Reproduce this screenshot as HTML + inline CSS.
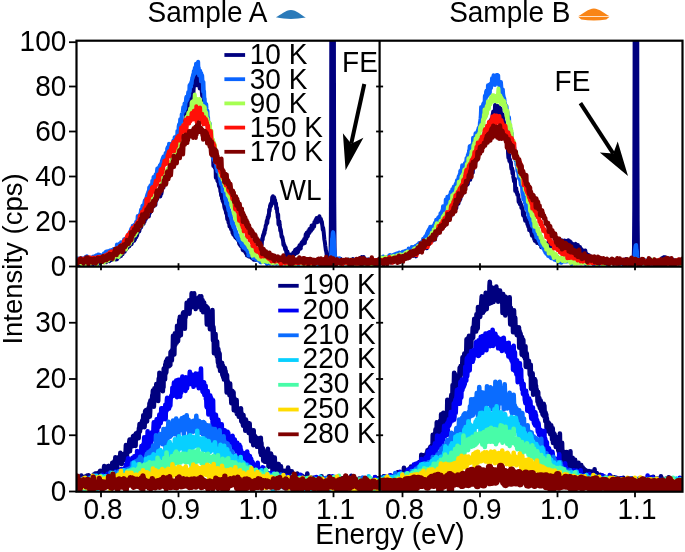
<!DOCTYPE html>
<html><head><meta charset="utf-8"><style>
html,body{margin:0;padding:0;background:#fff;width:685px;height:552px;overflow:hidden}
svg{display:block}
text{font-family:"Liberation Sans",sans-serif;fill:#000}
</style></head><body>
<svg width="685" height="552" viewBox="0 0 685 552" font-family="Liberation Sans, sans-serif">
<defs>
<clipPath id="cTL"><rect x="76.5" y="40.7" width="303.1" height="226.0"/></clipPath>
<clipPath id="cTR"><rect x="379.6" y="40.7" width="302.9" height="226.0"/></clipPath>
<clipPath id="cBL"><rect x="76.5" y="266.7" width="303.1" height="225.0"/></clipPath>
<clipPath id="cBR"><rect x="379.6" y="266.7" width="302.9" height="225.0"/></clipPath>
</defs>
<g clip-path="url(#cTL)"><path transform="translate(74.175,261.4) scale(0.31000,0.1)" vector-effect="non-scaling-stroke" d="M0 0l1 22 1 -6 1 -3 1 12 1 -8 1 0 1 17 1 -28 1 4 1 13 1 -5 1 -7 1 8 1 -1 1 13 1 -21 1 4 1 -1 1 18 1 -32 1 15 1 5 1 -25 1 21 1 14 1 -10 1 19 1 -34 1 14 1 4 1 -19 1 28 1 -23 1 27 1 -15 1 5 1 -27 1 -3 1 21 1 -12 1 10 1 -8 1 14 1 9 1 1 1 -23 1 -19 1 20 1 8 1 -25 1 17 1 1 1 -2 1 4 1 2 1 11 1 -20 1 6 1 -14 1 16 1 16 1 -19 1 -19 1 21 1 6 1 3 1 -2 1 -8 1 9 1 -29 1 19 1 -5 1 -14 1 -1 1 18 1 -6 1 -5 1 10 1 17 1 -27 1 -2 1 4 1 14 1 -8 1 4 1 -3 1 -18 1 -2 1 8 1 1 1 -1 1 7 1 0 1 6 1 -7 1 -26 1 14 1 13 1 1 1 4 1 -15 1 -1 1 20 1 -22 1 11 1 -23 1 13 1 -18 1 24 1 -3 1 -8 1 -9 1 4 1 20 1 -17 1 1 1 4 1 1 1 -29 1 24 1 4 1 -18 1 5 1 1 1 -11 1 2 1 0 1 -8 1 6 1 10 1 -5 1 1 1 -10 1 14 1 8 1 -25 1 16 1 6 1 -30 1 12 1 -18 1 11 1 5 1 0 1 -12 1 -6 1 5 1 -10 1 14 1 -24 1 21 1 -24 1 -15 1 -8 1 -12 1 41 1 -35 1 -10 1 0 1 23 1 -22 1 -24 1 44 1 -31 1 -13 1 23 1 -22 1 21 1 -8 1 -3 1 -19 1 1 1 -19 1 24 1 -16 1 -20 1 2 1 25 1 -35 1 14 1 -18 1 -3 1 -18 1 13 1 27 1 -12 1 -38 1 11 1 -27 1 10 1 12 1 -34 1 26 1 16 1 -72 1 61 1 -47 1 -10 1 9 1 26 1 -51 1 37 1 -6 1 -22 1 -25 1 4 1 -15 1 17 1 -10 1 12 1 -20 1 -21 1 10 1 -19 1 13 1 -5 1 -17 1 -1 1 -20 1 2 1 -35 1 31 1 -5 1 10 1 -26 1 -18 1 22 1 -19 1 -20 1 10 1 3 1 -35 1 12 1 -11 1 -21 1 -5 1 24 1 -1 1 -22 1 3 1 31 1 -69 1 20 1 -20 1 33 1 -55 1 33 1 -15 1 21 1 -30 1 -4 1 -6 1 -19 1 3 1 -25 1 25 1 5 1 -26 1 -19 1 -19 1 4 1 49 1 -52 1 -29 1 24 1 7 1 -24 1 11 1 -31 1 8 1 -37 1 13 1 20 1 -36 1 -14 1 27 1 -10 1 36 1 -79 1 27 1 28 1 -14 1 -42 1 -29 1 12 1 -19 1 29 1 -1 1 -58 1 2 1 6 1 -37 1 45 1 -19 1 -41 1 -26 1 37 1 -47 1 48 1 -29 1 5 1 27 1 -51 1 -23 1 19 1 -9 1 -43 1 57 1 -1 1 -28 1 6 1 -70 1 18 1 21 1 -13 1 -95 1 79 1 -4 1 -34 1 -17 1 3 1 21 1 -2 1 -53 1 9 1 32 1 -81 1 2 1 17 1 -8 1 -22 1 15 1 8 1 -53 1 37 1 -58 1 38 1 -46 1 -10 1 -63 1 65 1 -3 1 -33 1 1 1 -28 1 -40 1 -23 1 -38 1 52 1 -107 1 4 1 47 1 45 1 -76 1 -18 1 53 1 -81 1 -5 1 3 1 -54 1 -24 1 31 1 -33 1 13 1 -8 1 -36 1 -25 1 21 1 37 1 -95 1 52 1 -64 1 -62 1 41 1 22 1 -5 1 -92 1 23 1 -30 1 -24 1 17 1 -4 1 8 1 55 1 -58 1 -55 1 -6 1 -27 1 9 1 -16 1 -26 1 47 1 -23 1 38 1 -84 1 28 1 -14 1 -32 1 17 1 39 1 -22 1 74 1 -52 1 16 1 62 1 -83 1 72 1 -34 1 44 1 -33 1 1 1 77 1 33 1 -32 1 -18 1 49 1 19 1 -19 1 114 1 -44 1 41 1 -28 1 53 1 34 1 1 1 57 1 -18 1 43 1 14 1 32 1 -25 1 48 1 2 1 21 1 54 1 -18 1 25 1 20 1 38 1 19 1 -14 1 -18 1 97 1 -18 1 41 1 -13 1 26 1 1 1 114 1 -39 1 25 1 -7 1 30 1 13 1 -18 1 -16 1 130 1 -47 1 -2 1 21 1 22 1 37 1 4 1 -27 1 5 1 36 1 34 1 -9 1 20 1 -5 1 22 1 29 1 -6 1 43 1 -32 1 4 1 64 1 -23 1 43 1 -32 1 16 1 37 1 -14 1 42 1 17 1 10 1 3 1 15 1 2 1 27 1 -17 1 6 1 41 1 29 1 -32 1 2 1 35 1 30 1 -20 1 -15 1 72 1 -36 1 22 1 18 1 -18 1 40 1 -22 1 -11 1 27 1 25 1 22 1 -2 1 15 1 -53 1 38 1 19 1 10 1 2 1 -7 1 21 1 -44 1 46 1 6 1 -13 1 -13 1 7 1 35 1 -7 1 7 1 -1 1 10 1 24 1 10 1 -18 1 26 1 -34 1 26 1 21 1 -6 1 8 1 -1 1 -11 1 40 1 10 1 -27 1 12 1 -1 1 1 1 13 1 -10 1 28 1 -9 1 16 1 8 1 -21 1 5 1 37 1 -8 1 -15 1 -8 1 26 1 -3 1 19 1 -48 1 29 1 -2 1 6 1 -1 1 7 1 15 1 -11 1 11 1 -12 1 27 1 0 1 -12 1 -5 1 15 1 12 1 -5 1 5 1 -27 1 13 1 -4 1 11 1 10 1 -22 1 -10 1 8 1 1 1 -21 1 10 1 -24 1 10 1 -7 1 -31 1 -8 1 -33 1 20 1 -15 1 7 1 2 1 -11 1 -44 1 14 1 -47 1 -16 1 15 1 -43 1 11 1 -28 1 10 1 -33 1 20 1 -40 1 7 1 -19 1 -27 1 -4 1 -8 1 -28 1 -13 1 29 1 -49 1 -14 1 14 1 -36 1 19 1 -70 1 19 1 -19 1 -41 1 13 1 -30 1 22 1 -23 1 6 1 -35 1 -35 1 11 1 -20 1 39 1 -4 1 -7 1 -18 1 12 1 18 1 -2 1 29 1 12 1 -11 1 56 1 2 1 -11 1 49 1 6 1 44 1 -32 1 98 1 -6 1 13 1 -36 1 37 1 24 1 32 1 -15 1 19 1 28 1 27 1 7 1 -8 1 12 1 17 1 16 1 38 1 -17 1 28 1 -6 1 4 1 26 1 13 1 -22 1 17 1 21 1 40 1 -34 1 -2 1 0 1 31 1 5 1 3 1 -12 1 29 1 -10 1 12 1 -14 1 23 1 -24 1 9 1 -4 1 -11 1 -10 1 33 1 -37 1 3 1 8 1 -25 1 13 1 -18 1 22 1 1 1 -31 1 -15 1 17 1 -7 1 15 1 9 1 -19 1 -28 1 43 1 -23 1 16 1 -33 1 -15 1 26 1 -16 1 -30 1 16 1 13 1 -3 1 6 1 -47 1 19 1 -32 1 -2 1 19 1 -6 1 -25 1 5 1 -7 1 26 1 -45 1 23 1 18 1 -32 1 -22 1 -33 1 36 1 10 1 -62 1 27 1 2 1 9 1 -6 1 -48 1 25 1 0 1 -6 1 -40 1 32 1 -26 1 2 1 -4 1 15 1 -33 1 -22 1 25 1 10 1 1 1 -32 1 3 1 -9 1 -7 1 22 1 -47 1 5 1 0 1 -10 1 -18 1 12 1 13 1 -43 1 27 1 2 1 13 1 -33 1 18 1 -12 1 -20 1 7 1 -19 1 14 1 15 1 3 1 10 1 -14 1 21 1 19 1 -12 1 26 1 23 1 32 1 -21 1 21 1 26 1 34 1 34 1 17 1 19 1 29 1 21 1 25 1 9 1 21 1 29 1 -4 1 12 1 12 1 21 1 7 1 11 1 -22 1 32 1 -19 1 -2 1 -26 1 -59 1 -283 1 -979 1 -2517 1 -4662 1 -5995 1 -4727 1 -605 1 3840 1 5899 1 5257 1 2988 1 1281 1 450 1 118 1 7 1 19 1 -8 1 -17 1 -4 1 40 1 -27 1 -14 1 28 1 -9 1 -13 1 22 1 -10 1 6 1 20 1 -24 1 6 1 -12 1 -12 1 16 1 11 1 -8 1 3 1 -8 1 27 1 -3 1 10 1 -28 1 7 1 7 1 1 1 -1 1 4 1 -6 1 2 1 -19 1 11 1 13 1 -3 1 -18 1 8 1 2 1 -5 1 -9 1 30 1 -5 1 10 1 -23 1 9 1 3 1 1 1 -16 1 9 1 4 1 -19 1 24 1 2 1 -41 1 31 1 2 1 1 1 -6 1 -10 1 -1 1 2 1 9 1 12 1 -19 1 -14 1 4 1 13 1 -11 1 12 1 -4 1 12 1 -10 1 -6 1 3 1 -12 1 -16 1 3 1 13 1 1 1 -6 1 0 1 -16 1 -7 1 2 1 0 1 3 1 7 1 12 1 -24 1 13 1 27 1 4 1 -1 1 -6 1 -13 1 4 1 0 1 0 1 0 1 5 1 3 1 7 1 18 1 -17 1 -21 1 26 1 1 1 -17 1 10 1 7 1 -22 1 10 1 -1 1 15 1 -11 1 1 1 -4 1 -4 1 1 1 10 1 -5 1 20 1 -19 1 -1 1 12 1 4 1 -7 1 12 1 -16 1 0 1 14 1 -11 1 -11 1 1 1 0 1 12 1 3 1 0 1 -10 1 -19 1 10 1 -2 1 3 1 31 1 -15 1 3 1 -18" stroke="#00007f" stroke-width="4.00" fill="none" stroke-linejoin="round" stroke-linecap="round"/><path transform="translate(74.175,258.8) scale(0.31000,0.1)" vector-effect="non-scaling-stroke" d="M0 0l1 26 1 -8 1 -6 1 11 1 1 1 1 1 -18 1 19 1 -23 1 12 1 -8 1 -10 1 25 1 1 1 -14 1 16 1 -4 1 -7 1 -4 1 16 1 -11 1 -11 1 -9 1 37 1 -38 1 5 1 22 1 4 1 -22 1 9 1 -7 1 -9 1 14 1 -7 1 -4 1 -5 1 -11 1 0 1 17 1 5 1 -31 1 19 1 2 1 18 1 -23 1 18 1 -4 1 9 1 -10 1 -7 1 18 1 -8 1 -10 1 13 1 -1 1 -5 1 6 1 -25 1 19 1 -22 1 -3 1 25 1 -15 1 5 1 7 1 -10 1 -2 1 -12 1 -5 1 25 1 -9 1 -12 1 -9 1 44 1 -47 1 17 1 -22 1 24 1 4 1 -12 1 -15 1 14 1 29 1 -39 1 28 1 -9 1 1 1 8 1 -8 1 -5 1 -5 1 -9 1 3 1 14 1 -18 1 -16 1 -1 1 10 1 -8 1 -5 1 -7 1 -6 1 26 1 -2 1 -24 1 -3 1 -1 1 50 1 -29 1 39 1 -55 1 8 1 -1 1 1 1 -21 1 20 1 -20 1 5 1 1 1 -3 1 3 1 15 1 -27 1 -2 1 10 1 -14 1 -4 1 28 1 -18 1 2 1 5 1 -20 1 15 1 -8 1 -12 1 -4 1 -2 1 -31 1 38 1 -14 1 19 1 -27 1 -13 1 -3 1 25 1 -8 1 -26 1 18 1 -19 1 27 1 -39 1 3 1 5 1 17 1 -13 1 -8 1 -4 1 2 1 -1 1 -9 1 -23 1 51 1 -14 1 0 1 -17 1 13 1 -40 1 3 1 2 1 4 1 -18 1 -4 1 -7 1 14 1 -27 1 31 1 -50 1 69 1 -46 1 6 1 -39 1 34 1 -61 1 53 1 -67 1 22 1 2 1 -13 1 -36 1 17 1 50 1 -67 1 11 1 28 1 -49 1 30 1 -32 1 -7 1 10 1 -31 1 25 1 -29 1 8 1 -14 1 -47 1 28 1 16 1 -26 1 5 1 -23 1 -10 1 -6 1 -7 1 5 1 -28 1 -20 1 26 1 -19 1 -10 1 -32 1 -4 1 30 1 -24 1 25 1 -19 1 -28 1 -20 1 -15 1 19 1 15 1 -46 1 5 1 -21 1 -2 1 -20 1 -6 1 -12 1 21 1 -40 1 26 1 -21 1 -47 1 26 1 26 1 -67 1 3 1 -10 1 14 1 -11 1 6 1 4 1 -59 1 36 1 -4 1 -8 1 -61 1 16 1 22 1 -15 1 -20 1 -16 1 52 1 -67 1 20 1 4 1 -14 1 -36 1 -30 1 32 1 -17 1 27 1 -39 1 -14 1 50 1 -31 1 -39 1 57 1 -41 1 -31 1 50 1 -38 1 -18 1 -28 1 48 1 -66 1 14 1 -29 1 -6 1 14 1 -10 1 51 1 -16 1 -15 1 -23 1 -39 1 64 1 -44 1 21 1 0 1 -84 1 30 1 -46 1 6 1 50 1 20 1 -108 1 60 1 15 1 -52 1 10 1 17 1 -12 1 -18 1 -2 1 -22 1 26 1 -5 1 -29 1 3 1 -25 1 31 1 -9 1 24 1 -77 1 72 1 -48 1 23 1 -40 1 -17 1 57 1 -47 1 33 1 -97 1 40 1 20 1 -35 1 -68 1 -18 1 -7 1 45 1 -31 1 -63 1 54 1 -24 1 6 1 -6 1 -80 1 4 1 -7 1 -16 1 -25 1 -27 1 32 1 -3 1 8 1 -74 1 35 1 18 1 -48 1 -20 1 -35 1 -16 1 41 1 -8 1 -25 1 16 1 -44 1 -27 1 2 1 40 1 -23 1 -87 1 60 1 -65 1 -8 1 19 1 9 1 -50 1 20 1 -38 1 -24 1 10 1 -32 1 -13 1 15 1 -47 1 2 1 28 1 -56 1 -8 1 7 1 47 1 -91 1 5 1 3 1 14 1 54 1 -40 1 39 1 -95 1 92 1 -32 1 77 1 -5 1 -14 1 -32 1 12 1 18 1 79 1 -81 1 80 1 -63 1 10 1 51 1 16 1 90 1 -97 1 94 1 -2 1 78 1 -3 1 54 1 -8 1 12 1 12 1 -14 1 47 1 28 1 26 1 -35 1 95 1 -28 1 111 1 -10 1 -14 1 37 1 -66 1 33 1 134 1 8 1 -5 1 -31 1 36 1 40 1 64 1 2 1 65 1 -15 1 -36 1 5 1 68 1 -23 1 -25 1 50 1 24 1 -10 1 14 1 23 1 26 1 9 1 -2 1 27 1 -35 1 21 1 6 1 -12 1 21 1 14 1 35 1 24 1 -49 1 80 1 8 1 16 1 -15 1 5 1 -4 1 39 1 45 1 -36 1 -4 1 31 1 15 1 -4 1 -8 1 44 1 41 1 -7 1 3 1 47 1 -43 1 44 1 -15 1 19 1 23 1 -29 1 57 1 14 1 -8 1 1 1 28 1 31 1 -22 1 13 1 -18 1 55 1 2 1 24 1 27 1 -20 1 -5 1 43 1 2 1 17 1 -37 1 44 1 -14 1 34 1 -9 1 21 1 37 1 -35 1 0 1 52 1 -25 1 11 1 18 1 -7 1 34 1 -30 1 -9 1 46 1 -13 1 -18 1 26 1 16 1 11 1 -12 1 9 1 -7 1 38 1 -35 1 27 1 -11 1 25 1 13 1 -7 1 10 1 -5 1 -11 1 -2 1 17 1 14 1 3 1 -12 1 -4 1 24 1 1 1 12 1 -10 1 -7 1 56 1 -40 1 14 1 27 1 -33 1 9 1 -3 1 25 1 -43 1 29 1 9 1 -22 1 14 1 0 1 -1 1 43 1 -45 1 28 1 -5 1 -6 1 23 1 -11 1 -3 1 12 1 -4 1 27 1 -3 1 2 1 -17 1 -38 1 43 1 7 1 0 1 -11 1 5 1 23 1 -24 1 13 1 -9 1 33 1 -4 1 -24 1 28 1 -23 1 1 1 3 1 -1 1 2 1 -2 1 11 1 -4 1 -31 1 20 1 7 1 3 1 13 1 -10 1 6 1 -13 1 21 1 16 1 -19 1 -13 1 -18 1 16 1 22 1 -8 1 8 1 -8 1 8 1 8 1 -22 1 3 1 4 1 -6 1 -17 1 20 1 5 1 -13 1 26 1 -25 1 16 1 1 1 -10 1 -17 1 26 1 -18 1 6 1 19 1 -25 1 19 1 7 1 -8 1 0 1 -14 1 14 1 -24 1 14 1 10 1 1 1 -11 1 23 1 2 1 -14 1 -16 1 5 1 2 1 2 1 21 1 -20 1 16 1 -28 1 9 1 1 1 -5 1 1 1 1 1 -2 1 10 1 8 1 -18 1 -11 1 4 1 13 1 -8 1 11 1 -9 1 10 1 -7 1 -20 1 13 1 -8 1 24 1 -1 1 -7 1 -6 1 8 1 -13 1 17 1 -20 1 4 1 22 1 -18 1 8 1 -13 1 17 1 -9 1 -3 1 35 1 -9 1 -21 1 2 1 -12 1 9 1 15 1 -16 1 11 1 -6 1 3 1 -9 1 19 1 -3 1 12 1 -47 1 34 1 -2 1 3 1 -5 1 -2 1 -11 1 4 1 -1 1 9 1 -5 1 -14 1 13 1 -3 1 24 1 -26 1 2 1 -11 1 43 1 -29 1 1 1 -2 1 8 1 -9 1 -5 1 7 1 3 1 -1 1 2 1 -4 1 8 1 13 1 -35 1 33 1 -18 1 13 1 -11 1 7 1 -9 1 8 1 5 1 -17 1 -11 1 11 1 2 1 12 1 -10 1 -5 1 11 1 -16 1 10 1 -4 1 9 1 0 1 -8 1 -2 1 1 1 14 1 -3 1 -7 1 19 1 -31 1 8 1 3 1 8 1 -16 1 11 1 -23 1 16 1 20 1 -23 1 13 1 0 1 -3 1 -1 1 -4 1 -6 1 4 1 12 1 7 1 -6 1 -12 1 -6 1 -9 1 33 1 -15 1 3 1 2 1 -6 1 4 1 0 1 4 1 -11 1 -7 1 -6 1 23 1 6 1 -9 1 5 1 -21 1 16 1 -17 1 4 1 -33 1 -39 1 -63 1 -19 1 -71 1 -5 1 -45 1 -14 1 12 1 23 1 49 1 87 1 18 1 60 1 -9 1 36 1 12 1 9 1 1 1 1 1 8 1 -15 1 5 1 -5 1 8 1 -8 1 16 1 -46 1 45 1 -3 1 -14 1 -3 1 21 1 9 1 -3 1 -4 1 -2 1 -7 1 -12 1 -1 1 18 1 -12 1 -4 1 -5 1 16 1 7 1 -16 1 -8 1 21 1 -26 1 3 1 20 1 14 1 -10 1 -3 1 -9 1 23 1 -43 1 1 1 32 1 12 1 -17 1 -7 1 -10 1 7 1 10 1 19 1 -27 1 -3 1 12 1 -6 1 1 1 4 1 10 1 -16 1 19 1 -30 1 24 1 -14 1 12 1 -11 1 6 1 -8 1 14 1 9 1 -14 1 0 1 13 1 -9 1 10 1 -18 1 5 1 -4 1 -28 1 26 1 -2 1 -3 1 8 1 5 1 -15 1 -2 1 42 1 -29 1 1 1 3 1 -19 1 18 1 -14 1 15 1 -2 1 -12 1 16 1 -6 1 9 1 -2 1 -17 1 2 1 18 1 0 1 -39 1 34 1 2 1 -15 1 14 1 -4 1 -14 1 -1 1 13 1 -16 1 15 1 1 1 -2 1 3 1 -9 1 3 1 11 1 -10 1 8 1 0 1 -5 1 -12 1 8 1 -11 1 -3 1 17 1 6 1 2 1 -11 1 -6 1 -8 1 31 1 -24 1 -1 1 -15 1 24 1 2 1 16 1 -8 1 3 1 -1 1 -1 1 7 1 -15 1 -5 1 -4" stroke="#0a64ff" stroke-width="4.00" fill="none" stroke-linejoin="round" stroke-linecap="round"/><path transform="translate(74.175,262.6) scale(0.31000,0.1)" vector-effect="non-scaling-stroke" d="M0 0l1 -12 1 0 1 26 1 -13 1 11 1 -3 1 -13 1 4 1 -17 1 -6 1 17 1 6 1 -1 1 -1 1 -6 1 13 1 -14 1 9 1 -14 1 -3 1 -4 1 19 1 13 1 3 1 -15 1 12 1 2 1 -14 1 7 1 -18 1 -13 1 22 1 -5 1 19 1 -18 1 9 1 4 1 8 1 -37 1 34 1 -5 1 -13 1 -3 1 0 1 1 1 11 1 -18 1 6 1 17 1 -33 1 21 1 -14 1 25 1 -3 1 -7 1 1 1 -18 1 28 1 -20 1 13 1 -17 1 3 1 8 1 -30 1 24 1 -13 1 26 1 -13 1 -3 1 -1 1 5 1 5 1 25 1 -28 1 4 1 -8 1 -13 1 -15 1 18 1 -5 1 4 1 -2 1 1 1 10 1 0 1 -8 1 -16 1 10 1 -9 1 32 1 -18 1 -2 1 -2 1 21 1 5 1 2 1 -20 1 -32 1 24 1 15 1 -18 1 7 1 -7 1 7 1 9 1 -10 1 -15 1 3 1 -11 1 26 1 -26 1 10 1 -2 1 -14 1 15 1 -5 1 -6 1 -1 1 -4 1 -7 1 8 1 11 1 -37 1 29 1 -6 1 12 1 16 1 -18 1 -12 1 -7 1 5 1 -11 1 -4 1 -2 1 11 1 -3 1 2 1 7 1 -31 1 32 1 -17 1 -6 1 28 1 -40 1 11 1 -10 1 4 1 13 1 -26 1 -2 1 -16 1 4 1 26 1 -42 1 1 1 -3 1 0 1 13 1 -21 1 9 1 -51 1 41 1 9 1 -15 1 -30 1 26 1 24 1 -62 1 14 1 8 1 -22 1 21 1 0 1 -37 1 18 1 -20 1 4 1 -18 1 7 1 30 1 -48 1 14 1 -26 1 8 1 -26 1 23 1 24 1 -33 1 -19 1 10 1 -3 1 -37 1 22 1 -25 1 10 1 22 1 -13 1 -16 1 -16 1 15 1 5 1 -12 1 -14 1 1 1 -10 1 -50 1 23 1 14 1 -20 1 -34 1 11 1 8 1 17 1 1 1 -31 1 -10 1 22 1 -11 1 -30 1 35 1 -15 1 -38 1 -17 1 -2 1 -19 1 -17 1 7 1 18 1 -53 1 3 1 9 1 29 1 -30 1 44 1 -40 1 38 1 -47 1 -35 1 15 1 -38 1 28 1 -8 1 3 1 -22 1 6 1 -31 1 -14 1 21 1 26 1 -41 1 -22 1 10 1 2 1 -19 1 -14 1 79 1 -94 1 10 1 1 1 17 1 -23 1 -14 1 40 1 -54 1 9 1 -37 1 12 1 13 1 -11 1 -19 1 5 1 -15 1 22 1 6 1 -21 1 14 1 -21 1 -32 1 39 1 -15 1 -52 1 23 1 -18 1 22 1 -11 1 -23 1 -52 1 22 1 43 1 -56 1 -18 1 -1 1 38 1 -34 1 -58 1 66 1 -37 1 19 1 6 1 -27 1 -43 1 -10 1 43 1 -17 1 3 1 22 1 -73 1 -31 1 -6 1 42 1 -52 1 -2 1 29 1 -16 1 1 1 -22 1 -48 1 62 1 -1 1 -60 1 12 1 42 1 -30 1 -13 1 -13 1 -32 1 -26 1 22 1 -16 1 15 1 -54 1 -17 1 34 1 4 1 -83 1 22 1 40 1 13 1 -47 1 -48 1 37 1 -17 1 -2 1 -41 1 -29 1 63 1 -36 1 -12 1 2 1 6 1 -65 1 9 1 -25 1 -32 1 43 1 -34 1 17 1 -18 1 -21 1 5 1 30 1 -95 1 31 1 28 1 23 1 -71 1 -27 1 -18 1 -12 1 35 1 -39 1 55 1 -58 1 -32 1 36 1 -22 1 -17 1 -9 1 -49 1 68 1 -79 1 69 1 -24 1 -3 1 -26 1 7 1 -33 1 10 1 -68 1 52 1 18 1 -19 1 -6 1 24 1 29 1 -8 1 -28 1 -17 1 13 1 19 1 -17 1 35 1 -19 1 -31 1 12 1 -3 1 55 1 -13 1 41 1 -53 1 44 1 31 1 -20 1 -17 1 77 1 -18 1 -66 1 31 1 11 1 52 1 -86 1 24 1 18 1 61 1 -39 1 -7 1 52 1 9 1 17 1 -20 1 35 1 13 1 44 1 17 1 -61 1 -6 1 32 1 -4 1 67 1 -2 1 0 1 26 1 -38 1 95 1 -8 1 8 1 23 1 -27 1 90 1 -69 1 21 1 30 1 -14 1 -10 1 71 1 0 1 22 1 10 1 39 1 18 1 -22 1 40 1 -26 1 14 1 41 1 -10 1 17 1 15 1 -22 1 37 1 4 1 62 1 -53 1 58 1 -16 1 -40 1 5 1 60 1 29 1 -31 1 28 1 -9 1 47 1 -49 1 -1 1 78 1 -8 1 7 1 -24 1 70 1 -40 1 18 1 22 1 -24 1 68 1 -3 1 -4 1 -23 1 34 1 20 1 -18 1 32 1 14 1 3 1 -3 1 -39 1 91 1 -17 1 20 1 13 1 -26 1 27 1 13 1 33 1 19 1 -12 1 22 1 16 1 -14 1 47 1 0 1 -19 1 26 1 -5 1 37 1 -20 1 35 1 -30 1 19 1 14 1 -11 1 29 1 26 1 -31 1 29 1 -7 1 26 1 -10 1 42 1 14 1 9 1 -29 1 52 1 3 1 1 1 -21 1 3 1 26 1 -20 1 13 1 -8 1 9 1 31 1 -8 1 11 1 -5 1 10 1 8 1 -6 1 15 1 -5 1 15 1 8 1 -11 1 4 1 1 1 13 1 16 1 -1 1 5 1 30 1 -5 1 -32 1 25 1 41 1 -33 1 -1 1 22 1 -43 1 18 1 7 1 15 1 -6 1 -2 1 8 1 17 1 -9 1 3 1 1 1 19 1 -14 1 5 1 0 1 2 1 22 1 -26 1 4 1 27 1 -13 1 10 1 -3 1 -15 1 7 1 -16 1 24 1 15 1 -13 1 31 1 -48 1 19 1 -1 1 4 1 12 1 -8 1 9 1 -3 1 -8 1 18 1 -31 1 31 1 -21 1 17 1 8 1 -18 1 3 1 5 1 -1 1 7 1 -11 1 11 1 -5 1 -11 1 27 1 -8 1 2 1 1 1 7 1 -11 1 -4 1 3 1 16 1 -24 1 1 1 7 1 12 1 -2 1 -29 1 3 1 13 1 15 1 -23 1 12 1 -16 1 24 1 -10 1 7 1 -10 1 14 1 -16 1 14 1 5 1 -15 1 3 1 25 1 -22 1 -1 1 -1 1 -20 1 29 1 -7 1 18 1 -3 1 -9 1 -5 1 1 1 -9 1 -1 1 -3 1 13 1 -7 1 13 1 -12 1 -1 1 10 1 29 1 -27 1 -34 1 28 1 6 1 -8 1 -11 1 9 1 5 1 12 1 -11 1 10 1 -17 1 -12 1 5 1 17 1 4 1 5 1 -20 1 -1 1 -2 1 4 1 17 1 7 1 -32 1 21 1 -29 1 42 1 -10 1 -2 1 -13 1 -4 1 13 1 -12 1 20 1 -9 1 8 1 -7 1 1 1 -10 1 -33 1 51 1 -13 1 -9 1 6 1 -14 1 26 1 -19 1 16 1 -16 1 6 1 0 1 8 1 14 1 -8 1 -19 1 10 1 -11 1 22 1 -21 1 -3 1 34 1 -27 1 -17 1 28 1 -18 1 10 1 -9 1 13 1 4 1 -3 1 -1 1 2 1 3 1 -20 1 17 1 7 1 -3 1 -15 1 29 1 -29 1 -2 1 -6 1 18 1 4 1 -11 1 1 1 -13 1 14 1 5 1 9 1 -12 1 -3 1 -11 1 11 1 -13 1 1 1 21 1 4 1 -5 1 -4 1 6 1 -16 1 0 1 -6 1 10 1 8 1 -9 1 14 1 -12 1 10 1 -20 1 40 1 -37 1 0 1 9 1 -4 1 2 1 -12 1 -3 1 17 1 -17 1 24 1 -11 1 -1 1 18 1 -16 1 10 1 -15 1 17 1 10 1 -5 1 -14 1 -3 1 -1 1 12 1 -16 1 14 1 -4 1 -12 1 12 1 18 1 -28 1 8 1 4 1 -18 1 21 1 -14 1 6 1 -26 1 46 1 -21 1 -2 1 -8 1 16 1 3 1 -22 1 20 1 -8 1 4 1 -5 1 18 1 -8 1 -5 1 -2 1 -11 1 7 1 -1 1 7 1 -14 1 19 1 -5 1 15 1 -5 1 -20 1 10 1 19 1 -19 1 2 1 9 1 -15 1 6 1 -3 1 -10 1 17 1 -18 1 14 1 0 1 -17 1 10 1 8 1 -3 1 -3 1 17 1 -22 1 7 1 14 1 -4 1 -19 1 22 1 -36 1 34 1 -13 1 29 1 -26 1 5 1 -11 1 3 1 6 1 -27 1 15 1 16 1 -11 1 34 1 -25 1 -19 1 19 1 -7 1 14 1 -21 1 7 1 1 1 -9 1 -8 1 9 1 27 1 -23 1 2 1 15 1 5 1 -13 1 -1 1 -3 1 7 1 -9 1 -2 1 7 1 -7 1 10 1 10 1 -16 1 -10 1 -19 1 51 1 -17 1 4 1 -12 1 12 1 -11 1 -9 1 19 1 -8 1 -17 1 7 1 27 1 -39 1 29 1 -11 1 8 1 0 1 3 1 -14 1 15 1 5 1 -7 1 -6 1 21 1 -30 1 16 1 -15 1 -7 1 11 1 -2 1 10 1 3 1 13 1 -18 1 3 1 20 1 -28 1 -14 1 12 1 -8 1 15 1 8 1 -11 1 4 1 8 1 -22 1 9 1 8 1 -9 1 4 1 -8 1 -10 1 23 1 6 1 -27 1 -11 1 32 1 3 1 3 1 -13 1 -1 1 4 1 -11 1 17 1 -2" stroke="#a6ff52" stroke-width="4.00" fill="none" stroke-linejoin="round" stroke-linecap="round"/><path transform="translate(74.175,262.2) scale(0.31000,0.1)" vector-effect="non-scaling-stroke" d="M0 0l1 -29 1 3 1 -2 1 23 1 -24 1 11 1 -5 1 2 1 10 1 -2 1 15 1 -12 1 -3 1 10 1 -14 1 -14 1 20 1 5 1 -2 1 -12 1 -17 1 17 1 1 1 14 1 -18 1 -3 1 11 1 -4 1 6 1 -16 1 -7 1 11 1 -2 1 5 1 7 1 1 1 -4 1 -7 1 1 1 -11 1 2 1 -9 1 8 1 11 1 -4 1 19 1 -38 1 25 1 -2 1 -26 1 33 1 -6 1 -7 1 6 1 -8 1 -3 1 -5 1 9 1 -10 1 11 1 -11 1 -7 1 33 1 -18 1 -5 1 24 1 13 1 -40 1 10 1 -17 1 9 1 -1 1 4 1 -6 1 11 1 -5 1 -16 1 12 1 -10 1 6 1 3 1 7 1 -22 1 20 1 -16 1 23 1 -22 1 -2 1 11 1 12 1 -19 1 -4 1 7 1 1 1 -20 1 11 1 3 1 -16 1 9 1 8 1 -21 1 15 1 -18 1 19 1 -13 1 -13 1 9 1 -2 1 -1 1 -7 1 9 1 -6 1 7 1 -29 1 35 1 -24 1 22 1 -21 1 -12 1 30 1 -39 1 34 1 -4 1 -16 1 17 1 -30 1 5 1 41 1 -19 1 -11 1 -17 1 18 1 -7 1 -20 1 20 1 -19 1 21 1 -35 1 -8 1 33 1 14 1 -12 1 -39 1 18 1 -26 1 31 1 -9 1 -15 1 -20 1 15 1 8 1 -23 1 0 1 -10 1 6 1 3 1 -13 1 33 1 -45 1 -19 1 6 1 19 1 5 1 -48 1 24 1 -9 1 -11 1 9 1 -15 1 -27 1 28 1 -43 1 20 1 -3 1 -15 1 -3 1 -7 1 4 1 14 1 -41 1 25 1 7 1 -34 1 0 1 7 1 -7 1 -13 1 -28 1 29 1 16 1 -17 1 -24 1 8 1 3 1 -30 1 -6 1 12 1 -14 1 11 1 -5 1 -11 1 14 1 -37 1 2 1 3 1 -17 1 -6 1 10 1 -8 1 -2 1 -47 1 51 1 -36 1 -24 1 31 1 -9 1 -6 1 10 1 -64 1 21 1 11 1 -15 1 -23 1 4 1 5 1 -35 1 22 1 -17 1 -18 1 11 1 -23 1 8 1 -75 1 57 1 -30 1 25 1 -1 1 -28 1 -2 1 -8 1 -13 1 -27 1 -29 1 -9 1 35 1 -46 1 -4 1 44 1 -10 1 -16 1 -52 1 40 1 -5 1 -43 1 28 1 -8 1 -24 1 3 1 51 1 -33 1 -52 1 42 1 -68 1 23 1 -14 1 -8 1 41 1 -32 1 1 1 -37 1 -37 1 34 1 -14 1 41 1 -44 1 -10 1 -8 1 -25 1 -26 1 27 1 -16 1 41 1 -59 1 8 1 37 1 -57 1 18 1 -48 1 8 1 3 1 -47 1 40 1 -2 1 -15 1 -8 1 18 1 -42 1 -2 1 18 1 20 1 -76 1 -9 1 4 1 -8 1 -27 1 31 1 -39 1 39 1 13 1 -29 1 3 1 -27 1 -40 1 30 1 -22 1 -34 1 3 1 39 1 14 1 -79 1 78 1 15 1 -1 1 -89 1 64 1 -38 1 -9 1 -43 1 66 1 -44 1 -12 1 -35 1 38 1 -19 1 9 1 -42 1 -2 1 30 1 -31 1 50 1 -49 1 21 1 -19 1 -45 1 -38 1 47 1 4 1 -1 1 -36 1 20 1 -38 1 -22 1 20 1 22 1 -38 1 35 1 24 1 -87 1 -27 1 11 1 42 1 81 1 -80 1 -43 1 24 1 -55 1 58 1 -42 1 4 1 -6 1 43 1 -42 1 -16 1 14 1 22 1 -28 1 8 1 -42 1 -22 1 14 1 -5 1 12 1 -14 1 59 1 -62 1 -26 1 39 1 -37 1 62 1 -46 1 6 1 -19 1 10 1 -60 1 159 1 -50 1 -21 1 -20 1 23 1 3 1 29 1 -4 1 -11 1 -67 1 71 1 -100 1 53 1 42 1 -28 1 -2 1 68 1 16 1 -86 1 74 1 -49 1 10 1 71 1 -62 1 7 1 -16 1 43 1 -9 1 8 1 23 1 -47 1 25 1 -9 1 40 1 -16 1 67 1 -2 1 -39 1 43 1 12 1 -8 1 57 1 -41 1 0 1 30 1 31 1 -71 1 45 1 49 1 -2 1 38 1 15 1 15 1 -17 1 -22 1 4 1 36 1 -17 1 25 1 58 1 5 1 -16 1 2 1 3 1 76 1 27 1 -89 1 70 1 -21 1 35 1 46 1 -60 1 33 1 -17 1 31 1 48 1 -15 1 -18 1 50 1 -14 1 -16 1 66 1 -13 1 -6 1 -12 1 33 1 21 1 -23 1 35 1 -18 1 8 1 20 1 -18 1 0 1 64 1 -36 1 23 1 10 1 -2 1 -18 1 37 1 11 1 28 1 -18 1 4 1 28 1 -7 1 -10 1 -13 1 45 1 -43 1 30 1 11 1 14 1 19 1 24 1 -4 1 6 1 6 1 -21 1 -1 1 40 1 -1 1 44 1 35 1 -31 1 2 1 -15 1 -12 1 52 1 -12 1 12 1 27 1 -4 1 17 1 -15 1 60 1 32 1 -40 1 -7 1 5 1 39 1 -13 1 30 1 -18 1 34 1 13 1 -31 1 48 1 11 1 -35 1 19 1 51 1 -57 1 50 1 -7 1 0 1 -31 1 43 1 -10 1 24 1 -5 1 39 1 -18 1 16 1 13 1 -17 1 -6 1 14 1 19 1 -12 1 35 1 -18 1 2 1 14 1 8 1 -1 1 16 1 -1 1 -10 1 46 1 -44 1 17 1 8 1 24 1 -5 1 8 1 -15 1 6 1 -4 1 21 1 34 1 -11 1 -4 1 -6 1 30 1 -15 1 0 1 13 1 -2 1 -30 1 35 1 -24 1 26 1 16 1 -14 1 15 1 -2 1 31 1 -32 1 14 1 -20 1 15 1 8 1 11 1 -12 1 7 1 7 1 -32 1 27 1 -11 1 -6 1 15 1 -1 1 3 1 -4 1 6 1 2 1 6 1 9 1 1 1 4 1 -9 1 -12 1 28 1 -3 1 6 1 -10 1 -12 1 17 1 -6 1 31 1 -24 1 -6 1 13 1 13 1 -23 1 7 1 -21 1 28 1 -4 1 3 1 -5 1 23 1 -36 1 9 1 10 1 2 1 -9 1 2 1 10 1 -3 1 -5 1 9 1 0 1 1 1 0 1 11 1 -3 1 -14 1 -4 1 9 1 39 1 -22 1 -20 1 -14 1 6 1 16 1 2 1 1 1 -23 1 17 1 13 1 -20 1 2 1 31 1 -15 1 -17 1 2 1 23 1 -13 1 -9 1 6 1 15 1 -9 1 -8 1 2 1 15 1 -34 1 22 1 19 1 -13 1 26 1 -21 1 -7 1 -25 1 23 1 -2 1 -4 1 6 1 9 1 -21 1 9 1 -10 1 5 1 20 1 -5 1 0 1 0 1 -9 1 6 1 7 1 -24 1 1 1 14 1 12 1 -5 1 1 1 2 1 1 1 -13 1 -1 1 -1 1 14 1 -13 1 -17 1 18 1 7 1 -33 1 25 1 10 1 -16 1 17 1 -4 1 -14 1 17 1 9 1 -23 1 -1 1 23 1 -11 1 -15 1 9 1 -6 1 10 1 5 1 -1 1 -2 1 -5 1 29 1 -8 1 -20 1 -7 1 14 1 -7 1 11 1 4 1 -16 1 2 1 5 1 8 1 -14 1 1 1 2 1 -1 1 2 1 -9 1 1 1 -14 1 4 1 15 1 12 1 -19 1 13 1 -22 1 31 1 -11 1 -20 1 15 1 -7 1 1 1 12 1 -14 1 18 1 -6 1 -25 1 23 1 -5 1 15 1 -25 1 23 1 -2 1 -1 1 3 1 5 1 -11 1 2 1 -4 1 9 1 -1 1 -6 1 -3 1 9 1 -9 1 2 1 -13 1 4 1 2 1 -6 1 17 1 -20 1 12 1 7 1 -9 1 15 1 -29 1 15 1 18 1 -4 1 -6 1 1 1 -11 1 -4 1 -2 1 5 1 15 1 -21 1 -1 1 33 1 -14 1 -2 1 4 1 -19 1 6 1 4 1 13 1 9 1 -12 1 -1 1 1 1 13 1 -6 1 -12 1 -7 1 8 1 -3 1 -1 1 0 1 -13 1 20 1 -10 1 16 1 -26 1 5 1 -3 1 9 1 2 1 12 1 -16 1 -11 1 43 1 -47 1 27 1 -14 1 13 1 -6 1 -10 1 10 1 -21 1 19 1 -7 1 13 1 -1 1 -1 1 -9 1 -12 1 17 1 13 1 -7 1 8 1 -19 1 5 1 11 1 -7 1 -14 1 5 1 11 1 -14 1 4 1 10 1 -8 1 -17 1 30 1 -22 1 12 1 -8 1 3 1 1 1 5 1 -2 1 -7 1 2 1 20 1 -20 1 -9 1 5 1 7 1 21 1 -25 1 -1 1 -8 1 25 1 -8 1 3 1 -2 1 15 1 -13 1 -1 1 0 1 -20 1 23 1 -2 1 -16 1 17 1 -18 1 7 1 12 1 0 1 -8 1 3 1 -3 1 7 1 -12 1 13 1 -2 1 -3 1 11 1 -10 1 -1 1 13 1 4 1 -32 1 16 1 -1 1 5 1 -23 1 18 1 17 1 -24 1 15 1 -14 1 6 1 -15 1 8 1 9 1 -19 1 -13 1 34 1 -17 1 7 1 -1 1 18 1 -3 1 -25 1 13 1 8 1 -25 1 6 1 5 1 18 1 -10 1 -15 1 36 1 -5 1 -8 1 -18 1 8 1 -3 1 3 1 1 1 -12 1 -25 1 33 1 -9 1 18 1 -21 1 16 1 -1" stroke="#ff1008" stroke-width="4.00" fill="none" stroke-linejoin="round" stroke-linecap="round"/><path transform="translate(74.175,262.8) scale(0.31000,0.1)" vector-effect="non-scaling-stroke" d="M0 0l1 4 1 -3 1 6 1 4 1 -45 1 20 1 -8 1 6 1 28 1 -21 1 13 1 -2 1 -10 1 -4 1 0 1 0 1 5 1 -4 1 -19 1 -14 1 16 1 19 1 -9 1 -9 1 -1 1 -3 1 -1 1 12 1 10 1 18 1 -39 1 7 1 21 1 -13 1 6 1 0 1 -32 1 31 1 -42 1 38 1 8 1 -13 1 -34 1 38 1 -11 1 42 1 -43 1 29 1 -19 1 -23 1 24 1 -15 1 14 1 1 1 -9 1 -13 1 15 1 1 1 14 1 11 1 -28 1 4 1 -7 1 -13 1 3 1 26 1 -18 1 -1 1 8 1 31 1 -23 1 -12 1 -13 1 16 1 16 1 -43 1 21 1 6 1 -16 1 -3 1 12 1 7 1 -1 1 -22 1 14 1 -10 1 37 1 -23 1 -2 1 0 1 23 1 -25 1 -33 1 20 1 12 1 3 1 9 1 -26 1 15 1 -7 1 -22 1 -2 1 4 1 37 1 -19 1 -30 1 38 1 -41 1 20 1 -18 1 22 1 11 1 -4 1 -43 1 28 1 14 1 -36 1 38 1 -25 1 -10 1 -2 1 -4 1 7 1 39 1 -49 1 3 1 1 1 -14 1 -7 1 7 1 -25 1 -15 1 32 1 9 1 15 1 -36 1 41 1 -66 1 11 1 25 1 -24 1 26 1 2 1 -37 1 30 1 -26 1 5 1 -35 1 21 1 -27 1 11 1 29 1 5 1 15 1 -44 1 52 1 -41 1 28 1 -38 1 -29 1 28 1 -10 1 -5 1 -17 1 31 1 -35 1 1 1 16 1 -5 1 -48 1 6 1 2 1 22 1 -14 1 16 1 6 1 -32 1 -1 1 9 1 -4 1 -39 1 14 1 19 1 -82 1 77 1 -47 1 22 1 -42 1 9 1 -26 1 20 1 10 1 -54 1 29 1 -1 1 -6 1 8 1 -29 1 -35 1 0 1 22 1 -13 1 -7 1 28 1 -55 1 24 1 44 1 -63 1 32 1 -34 1 -14 1 18 1 -19 1 -31 1 61 1 7 1 -48 1 -2 1 -62 1 22 1 6 1 10 1 41 1 -20 1 -30 1 -18 1 10 1 -18 1 -20 1 31 1 -12 1 9 1 -61 1 78 1 -72 1 -9 1 68 1 -45 1 -45 1 47 1 -13 1 -18 1 -40 1 14 1 30 1 14 1 -1 1 -54 1 63 1 -47 1 -36 1 44 1 -29 1 -10 1 -28 1 52 1 -43 1 -1 1 -9 1 41 1 -62 1 32 1 -26 1 15 1 -82 1 47 1 -64 1 71 1 -15 1 -55 1 45 1 -28 1 -26 1 36 1 3 1 -18 1 -43 1 11 1 -31 1 38 1 0 1 13 1 -30 1 2 1 -20 1 18 1 -12 1 -18 1 -43 1 32 1 2 1 -53 1 -15 1 43 1 -7 1 40 1 -13 1 -50 1 -49 1 -19 1 24 1 34 1 -36 1 55 1 -48 1 28 1 -42 1 -49 1 -29 1 54 1 -11 1 57 1 -36 1 -73 1 5 1 4 1 6 1 -44 1 53 1 -8 1 -100 1 109 1 -48 1 20 1 -65 1 49 1 -3 1 -8 1 -42 1 52 1 9 1 -50 1 1 1 -35 1 23 1 2 1 -35 1 -11 1 -25 1 25 1 55 1 -63 1 -8 1 -2 1 -27 1 21 1 -51 1 40 1 -61 1 77 1 36 1 -52 1 -132 1 97 1 -10 1 -18 1 18 1 -29 1 0 1 -71 1 24 1 26 1 -19 1 -2 1 52 1 -79 1 54 1 -54 1 17 1 -31 1 -23 1 24 1 31 1 -10 1 -35 1 30 1 -5 1 -13 1 6 1 -33 1 31 1 -20 1 27 1 33 1 -89 1 -7 1 50 1 -47 1 16 1 50 1 -82 1 109 1 -68 1 -27 1 62 1 -94 1 75 1 -64 1 50 1 -30 1 26 1 -84 1 69 1 -21 1 12 1 19 1 17 1 -22 1 -19 1 5 1 14 1 25 1 -27 1 60 1 -32 1 72 1 -45 1 -15 1 46 1 -6 1 -68 1 19 1 -15 1 2 1 23 1 0 1 23 1 -28 1 102 1 -40 1 -35 1 12 1 33 1 19 1 -33 1 39 1 38 1 -71 1 58 1 -13 1 66 1 37 1 -93 1 -34 1 137 1 -52 1 -29 1 19 1 10 1 10 1 37 1 -60 1 11 1 26 1 93 1 -122 1 63 1 -12 1 -38 1 27 1 51 1 -30 1 22 1 44 1 -16 1 67 1 0 1 -49 1 -32 1 82 1 -62 1 40 1 -45 1 74 1 -96 1 84 1 28 1 -9 1 71 1 -60 1 27 1 -18 1 32 1 79 1 3 1 -52 1 25 1 -58 1 66 1 -39 1 25 1 -45 1 50 1 4 1 43 1 -35 1 -2 1 30 1 -17 1 58 1 -17 1 -12 1 28 1 -38 1 24 1 43 1 16 1 -20 1 27 1 -3 1 28 1 -47 1 24 1 3 1 -8 1 94 1 -58 1 15 1 -18 1 12 1 7 1 -14 1 93 1 -15 1 -54 1 1 1 68 1 -45 1 14 1 67 1 -13 1 -18 1 18 1 -41 1 38 1 0 1 47 1 22 1 -9 1 -45 1 -4 1 75 1 -10 1 66 1 -89 1 71 1 -47 1 -3 1 71 1 -5 1 -33 1 -9 1 52 1 19 1 -28 1 -16 1 63 1 -2 1 -41 1 29 1 29 1 -14 1 -5 1 -7 1 22 1 13 1 43 1 -45 1 5 1 13 1 9 1 3 1 -14 1 35 1 24 1 -42 1 33 1 3 1 -11 1 20 1 0 1 28 1 -48 1 62 1 -53 1 60 1 -7 1 -2 1 -23 1 19 1 19 1 21 1 -41 1 24 1 -3 1 17 1 12 1 -19 1 12 1 -12 1 24 1 36 1 -38 1 19 1 10 1 59 1 -39 1 -15 1 19 1 -12 1 -3 1 16 1 21 1 -22 1 5 1 14 1 33 1 -9 1 -33 1 21 1 30 1 -26 1 -2 1 -9 1 6 1 2 1 22 1 17 1 -16 1 -33 1 51 1 -40 1 43 1 -2 1 -23 1 17 1 -8 1 17 1 -21 1 -11 1 41 1 -33 1 4 1 -5 1 52 1 -52 1 35 1 -14 1 5 1 10 1 -1 1 -2 1 -13 1 -8 1 17 1 -17 1 12 1 -16 1 41 1 -23 1 4 1 -2 1 -3 1 -7 1 12 1 -6 1 14 1 -2 1 8 1 -26 1 5 1 -7 1 28 1 -4 1 -42 1 23 1 40 1 -34 1 6 1 11 1 0 1 9 1 -5 1 5 1 6 1 -12 1 8 1 -24 1 -5 1 19 1 3 1 -14 1 12 1 -33 1 72 1 -4 1 -19 1 -24 1 -4 1 19 1 -7 1 5 1 -12 1 -23 1 66 1 -69 1 19 1 21 1 -12 1 8 1 -8 1 1 1 -5 1 27 1 -24 1 20 1 -6 1 -16 1 19 1 -11 1 0 1 3 1 20 1 -26 1 5 1 -31 1 50 1 -32 1 23 1 -2 1 -30 1 28 1 -14 1 10 1 16 1 -11 1 4 1 -4 1 -31 1 21 1 33 1 -54 1 23 1 -8 1 -10 1 36 1 -18 1 8 1 3 1 -1 1 -6 1 -16 1 6 1 7 1 -13 1 53 1 -36 1 -4 1 0 1 -16 1 18 1 -18 1 24 1 -13 1 9 1 5 1 -12 1 0 1 22 1 -28 1 18 1 -5 1 42 1 -40 1 28 1 -41 1 24 1 -5 1 -4 1 18 1 -21 1 19 1 -15 1 -16 1 -6 1 -2 1 25 1 11 1 -22 1 -16 1 36 1 -33 1 22 1 38 1 -40 1 -28 1 18 1 -5 1 10 1 31 1 10 1 -19 1 -10 1 9 1 -3 1 -24 1 -10 1 47 1 -9 1 -14 1 1 1 33 1 -80 1 34 1 5 1 34 1 -33 1 22 1 -25 1 3 1 4 1 -6 1 15 1 -11 1 39 1 -47 1 14 1 -41 1 36 1 37 1 -58 1 34 1 6 1 -16 1 -20 1 -10 1 35 1 -9 1 0 1 13 1 -2 1 -6 1 -1 1 -17 1 45 1 -36 1 2 1 -15 1 26 1 0 1 -7 1 10 1 1 1 1 1 0 1 5 1 -6 1 3 1 -1 1 9 1 -34 1 9 1 6 1 15 1 -25 1 13 1 -2 1 -3 1 3 1 -16 1 26 1 -2 1 -12 1 5 1 -11 1 -5 1 -7 1 6 1 19 1 -2 1 3 1 -23 1 21 1 9 1 3 1 -27 1 25 1 26 1 -50 1 6 1 -7 1 -3 1 7 1 2 1 5 1 12 1 20 1 -2 1 -35 1 -6 1 11 1 12 1 -21 1 10 1 0 1 5 1 12 1 -2 1 -21 1 -18 1 -2 1 29 1 -10 1 8 1 -3 1 -4 1 -8 1 31 1 -43 1 28 1 12 1 -48 1 47 1 -13 1 11 1 -29 1 58 1 -45 1 29 1 -47 1 -8 1 18 1 25 1 -29 1 -15 1 28 1 10 1 -28 1 42 1 -16 1 -3 1 -3 1 -14 1 18 1 15 1 4 1 -19 1 -9 1 -7 1 5 1 30 1 -29 1 18 1 -29 1 24 1 -1 1 4 1 -22 1 16 1 -43 1 24 1 35 1 -17 1 -16 1 3 1 3 1 6 1 26 1 -1 1 -34 1 22 1 -10 1 -9 1 37 1 0 1 -36 1 17 1 -4 1 -22 1 21 1 -3 1 -5 1 30 1 -51 1 19 1 14 1 -25 1 31 1 -3 1 8 1 -15 1 7" stroke="#800000" stroke-width="4.30" fill="none" stroke-linejoin="round" stroke-linecap="round"/></g>
<g clip-path="url(#cTR)"><path transform="translate(377.275,261.5) scale(0.31000,0.1)" vector-effect="non-scaling-stroke" d="M0 0l1 10 1 -10 1 -2 1 0 1 0 1 3 1 9 1 13 1 -26 1 19 1 -19 1 4 1 0 1 -1 1 -7 1 17 1 -15 1 -8 1 3 1 -4 1 15 1 -3 1 -22 1 15 1 2 1 -8 1 20 1 -9 1 -6 1 5 1 -18 1 12 1 -6 1 19 1 -10 1 0 1 -6 1 -1 1 5 1 -6 1 -18 1 23 1 7 1 -21 1 -4 1 14 1 -9 1 33 1 -28 1 6 1 -27 1 22 1 -19 1 23 1 0 1 3 1 6 1 -7 1 -20 1 30 1 -19 1 -13 1 10 1 -4 1 1 1 -2 1 27 1 -40 1 12 1 10 1 -4 1 -2 1 -11 1 21 1 0 1 0 1 -27 1 20 1 -13 1 14 1 -14 1 5 1 1 1 -23 1 11 1 12 1 -42 1 40 1 1 1 6 1 -42 1 16 1 -3 1 -10 1 10 1 -8 1 -13 1 16 1 -8 1 6 1 -1 1 -17 1 9 1 3 1 26 1 -14 1 -4 1 -10 1 -6 1 1 1 3 1 -8 1 -2 1 -8 1 33 1 -38 1 -14 1 9 1 19 1 5 1 -13 1 -20 1 12 1 29 1 16 1 -49 1 -32 1 52 1 -15 1 -10 1 -7 1 -9 1 32 1 -26 1 8 1 -23 1 4 1 -12 1 31 1 -4 1 -8 1 -6 1 1 1 5 1 -12 1 13 1 -41 1 19 1 9 1 -24 1 24 1 -32 1 8 1 -34 1 15 1 18 1 -29 1 9 1 -11 1 55 1 -43 1 -3 1 -30 1 34 1 -25 1 6 1 16 1 -16 1 -20 1 9 1 -4 1 -4 1 -6 1 -7 1 4 1 19 1 -23 1 -8 1 -29 1 40 1 -45 1 31 1 -39 1 57 1 -32 1 31 1 -19 1 -20 1 -19 1 18 1 -21 1 15 1 -46 1 34 1 -47 1 -1 1 43 1 -29 1 14 1 -38 1 16 1 -30 1 31 1 -2 1 5 1 -20 1 -9 1 2 1 -9 1 -12 1 11 1 6 1 3 1 -13 1 -8 1 -29 1 -3 1 26 1 -29 1 24 1 -37 1 41 1 -53 1 17 1 -13 1 2 1 13 1 -27 1 -3 1 -19 1 -2 1 -17 1 8 1 28 1 -43 1 34 1 -14 1 -21 1 13 1 -14 1 -34 1 27 1 1 1 2 1 -88 1 61 1 -16 1 -5 1 -28 1 29 1 1 1 -16 1 3 1 8 1 3 1 -45 1 4 1 -45 1 35 1 -9 1 -39 1 55 1 -58 1 28 1 1 1 -38 1 -1 1 21 1 -36 1 -35 1 10 1 8 1 9 1 -17 1 -19 1 9 1 -22 1 -18 1 48 1 -44 1 -14 1 10 1 2 1 -56 1 29 1 -7 1 4 1 -13 1 -7 1 -12 1 26 1 -5 1 -30 1 -14 1 -2 1 -37 1 10 1 -25 1 4 1 51 1 -72 1 -31 1 24 1 -3 1 19 1 -41 1 23 1 10 1 -57 1 -23 1 20 1 -11 1 5 1 -65 1 22 1 10 1 -9 1 -19 1 -33 1 33 1 1 1 -39 1 3 1 26 1 -42 1 -4 1 -6 1 -22 1 -11 1 -46 1 19 1 -13 1 25 1 -20 1 10 1 -8 1 -48 1 -44 1 31 1 -1 1 -12 1 -15 1 15 1 -9 1 -27 1 -35 1 33 1 39 1 -75 1 8 1 18 1 -7 1 56 1 -73 1 -24 1 -28 1 8 1 19 1 -24 1 -20 1 -22 1 1 1 -24 1 70 1 -67 1 -11 1 27 1 -41 1 12 1 11 1 -6 1 -60 1 -10 1 -22 1 2 1 1 1 38 1 -32 1 -3 1 -72 1 79 1 8 1 -11 1 -61 1 46 1 -41 1 36 1 -44 1 77 1 -29 1 -28 1 28 1 24 1 -63 1 88 1 -10 1 -51 1 -10 1 56 1 43 1 8 1 -4 1 -14 1 -33 1 22 1 10 1 55 1 -19 1 15 1 17 1 43 1 31 1 -21 1 9 1 70 1 6 1 1 1 10 1 14 1 64 1 -15 1 81 1 42 1 -29 1 -4 1 64 1 -19 1 8 1 21 1 8 1 -5 1 49 1 20 1 -10 1 3 1 50 1 -28 1 29 1 41 1 6 1 31 1 -20 1 27 1 -29 1 118 1 -18 1 -3 1 -10 1 33 1 20 1 -12 1 31 1 -3 1 -2 1 9 1 65 1 -7 1 -15 1 23 1 22 1 -19 1 20 1 2 1 0 1 35 1 -20 1 25 1 7 1 -6 1 60 1 9 1 -1 1 -31 1 23 1 22 1 18 1 21 1 -29 1 15 1 1 1 -1 1 20 1 -11 1 40 1 -26 1 27 1 25 1 -6 1 -28 1 67 1 -5 1 3 1 -3 1 8 1 -24 1 42 1 -8 1 25 1 17 1 -11 1 8 1 -10 1 -5 1 34 1 -20 1 39 1 -40 1 56 1 -12 1 -8 1 13 1 15 1 -26 1 29 1 -28 1 41 1 -36 1 5 1 8 1 -6 1 21 1 0 1 -16 1 35 1 -10 1 1 1 2 1 3 1 34 1 -35 1 -4 1 -13 1 8 1 21 1 -4 1 11 1 -8 1 5 1 -25 1 12 1 -3 1 15 1 -2 1 -10 1 20 1 -19 1 -4 1 21 1 -8 1 13 1 -36 1 18 1 -10 1 20 1 9 1 -11 1 -22 1 -3 1 12 1 11 1 -6 1 -11 1 31 1 -29 1 25 1 -16 1 -8 1 6 1 2 1 -18 1 25 1 -2 1 8 1 -17 1 -9 1 12 1 26 1 -35 1 -3 1 21 1 -10 1 -4 1 11 1 -15 1 2 1 18 1 23 1 -28 1 -35 1 2 1 22 1 11 1 -38 1 10 1 -8 1 -10 1 21 1 4 1 13 1 -14 1 16 1 -31 1 19 1 -27 1 29 1 -12 1 18 1 -24 1 25 1 -31 1 12 1 36 1 -6 1 -24 1 5 1 -30 1 45 1 -10 1 -2 1 -2 1 -21 1 28 1 24 1 -46 1 18 1 30 1 -11 1 -4 1 -6 1 -8 1 16 1 6 1 7 1 -10 1 -2 1 -4 1 39 1 -17 1 -18 1 -16 1 13 1 48 1 -3 1 -34 1 9 1 2 1 -25 1 45 1 -30 1 17 1 12 1 23 1 -11 1 -35 1 22 1 -8 1 6 1 12 1 -11 1 9 1 10 1 4 1 9 1 -11 1 9 1 -14 1 21 1 11 1 16 1 -32 1 -19 1 36 1 30 1 -37 1 23 1 -14 1 7 1 -2 1 10 1 7 1 -14 1 19 1 -16 1 24 1 -7 1 13 1 -17 1 21 1 4 1 -18 1 9 1 7 1 13 1 -9 1 -3 1 -1 1 17 1 -11 1 28 1 -20 1 12 1 -17 1 13 1 -28 1 24 1 -2 1 28 1 -9 1 -25 1 18 1 -19 1 20 1 -14 1 15 1 -13 1 -2 1 -2 1 18 1 6 1 -20 1 4 1 -5 1 21 1 -21 1 10 1 10 1 -7 1 -14 1 8 1 0 1 1 1 5 1 -16 1 12 1 16 1 0 1 -9 1 -2 1 -11 1 35 1 -35 1 -5 1 18 1 -18 1 20 1 -5 1 4 1 -22 1 5 1 0 1 24 1 -13 1 13 1 -13 1 -4 1 -9 1 16 1 -4 1 4 1 10 1 -28 1 13 1 -11 1 6 1 23 1 -7 1 -14 1 -1 1 1 1 8 1 -9 1 19 1 -7 1 9 1 -22 1 6 1 -3 1 10 1 24 1 -18 1 -10 1 1 1 -9 1 -2 1 17 1 -14 1 27 1 -25 1 29 1 -28 1 30 1 -29 1 -12 1 19 1 -10 1 -4 1 40 1 -8 1 -20 1 12 1 -8 1 -33 1 9 1 13 1 14 1 -13 1 2 1 6 1 -20 1 38 1 -37 1 21 1 -18 1 15 1 5 1 1 1 -10 1 -1 1 -29 1 16 1 17 1 13 1 -14 1 -6 1 25 1 -22 1 -34 1 -83 1 -396 1 -1367 1 -3087 1 -5047 1 -6008 1 -3986 1 688 1 4841 1 5966 1 4615 1 2510 1 983 1 339 1 51 1 18 1 23 1 -30 1 6 1 15 1 6 1 -30 1 -8 1 18 1 3 1 -10 1 15 1 -2 1 -16 1 23 1 -25 1 9 1 -11 1 35 1 -35 1 16 1 -8 1 15 1 3 1 -24 1 7 1 0 1 -2 1 1 1 24 1 -14 1 0 1 -25 1 7 1 24 1 7 1 -24 1 1 1 -9 1 28 1 -31 1 16 1 -12 1 11 1 8 1 4 1 -23 1 49 1 -46 1 4 1 15 1 -16 1 10 1 12 1 -10 1 -10 1 6 1 9 1 -16 1 -1 1 -5 1 11 1 -14 1 24 1 -3 1 10 1 -16 1 -3 1 -1 1 11 1 -28 1 28 1 -12 1 20 1 -50 1 -1 1 9 1 -9 1 16 1 -4 1 -4 1 -17 1 7 1 -7 1 16 1 4 1 -21 1 4 1 1 1 17 1 -8 1 26 1 -2 1 -13 1 19 1 6 1 0 1 -26 1 25 1 -6 1 6 1 -28 1 28 1 -13 1 1 1 6 1 5 1 16 1 -23 1 -17 1 18 1 -17 1 15 1 -3 1 16 1 -4 1 -7 1 -7 1 24 1 4 1 -14 1 0 1 -7 1 -13 1 25 1 -27 1 14 1 6 1 19 1 -35 1 -3 1 14 1 0 1 10 1 17 1 -13 1 7 1 0 1 -6 1 -3 1 -12 1 -9 1 17 1 -11 1 13 1 -1 1 -7 1 11 1 -10 1 8" stroke="#00007f" stroke-width="4.00" fill="none" stroke-linejoin="round" stroke-linecap="round"/><path transform="translate(377.275,260.1) scale(0.31000,0.1)" vector-effect="non-scaling-stroke" d="M0 0l1 -3 1 -27 1 15 1 8 1 -7 1 11 1 -4 1 -2 1 16 1 -19 1 -8 1 2 1 5 1 -15 1 22 1 -24 1 1 1 9 1 -16 1 27 1 -13 1 4 1 8 1 -6 1 -10 1 0 1 -4 1 16 1 -8 1 0 1 6 1 -8 1 25 1 -12 1 -9 1 -2 1 -13 1 14 1 -28 1 38 1 -41 1 34 1 2 1 -6 1 -2 1 -5 1 2 1 -12 1 -5 1 22 1 -29 1 12 1 2 1 -11 1 11 1 -21 1 33 1 -32 1 21 1 -17 1 15 1 -28 1 15 1 -6 1 22 1 5 1 -24 1 -17 1 16 1 20 1 -42 1 27 1 -18 1 20 1 -3 1 -14 1 37 1 -23 1 -8 1 -2 1 15 1 -38 1 17 1 -2 1 22 1 -26 1 -11 1 -4 1 2 1 8 1 1 1 -7 1 -8 1 10 1 -1 1 -10 1 8 1 -9 1 1 1 13 1 -35 1 10 1 21 1 -1 1 -8 1 0 1 4 1 -18 1 6 1 7 1 -36 1 25 1 -11 1 22 1 -5 1 -3 1 -29 1 1 1 12 1 -1 1 -10 1 15 1 -11 1 -19 1 25 1 -24 1 9 1 -6 1 3 1 -17 1 -3 1 3 1 30 1 -28 1 -18 1 30 1 6 1 -22 1 -18 1 29 1 -27 1 7 1 -7 1 -10 1 6 1 2 1 -15 1 -25 1 11 1 -6 1 21 1 -11 1 9 1 -41 1 -6 1 5 1 -11 1 15 1 -6 1 -31 1 22 1 -29 1 -16 1 42 1 -9 1 -49 1 7 1 -14 1 -7 1 29 1 -45 1 7 1 2 1 7 1 8 1 3 1 8 1 -14 1 -6 1 -21 1 12 1 15 1 -39 1 37 1 -35 1 -23 1 36 1 -10 1 -25 1 -31 1 23 1 1 1 -18 1 34 1 -10 1 -46 1 -8 1 -1 1 3 1 -11 1 37 1 -18 1 -20 1 -32 1 9 1 -2 1 17 1 -31 1 -11 1 -10 1 8 1 -49 1 58 1 -47 1 38 1 -6 1 -47 1 17 1 1 1 -22 1 -59 1 60 1 -12 1 -39 1 32 1 -69 1 72 1 -29 1 -32 1 20 1 -1 1 14 1 -34 1 -28 1 18 1 10 1 -57 1 4 1 -1 1 11 1 8 1 -51 1 18 1 3 1 -11 1 -19 1 -17 1 13 1 1 1 11 1 -26 1 -8 1 -19 1 1 1 5 1 -17 1 -24 1 10 1 -5 1 -5 1 -5 1 -23 1 -14 1 14 1 -9 1 -21 1 -16 1 -22 1 57 1 -59 1 25 1 -34 1 -15 1 -29 1 49 1 -44 1 76 1 -68 1 48 1 -43 1 2 1 1 1 -43 1 20 1 -6 1 -17 1 -14 1 -33 1 17 1 4 1 13 1 -65 1 0 1 -15 1 25 1 -55 1 10 1 -51 1 61 1 -38 1 -28 1 41 1 -12 1 5 1 -13 1 -35 1 8 1 26 1 -100 1 76 1 -57 1 22 1 -25 1 -5 1 -15 1 -8 1 -33 1 56 1 8 1 1 1 1 1 -79 1 52 1 -13 1 -61 1 3 1 -23 1 65 1 -52 1 -6 1 -57 1 -14 1 -27 1 -39 1 -79 1 99 1 -51 1 -21 1 14 1 11 1 -69 1 -15 1 -5 1 25 1 31 1 -47 1 -78 1 -11 1 56 1 -48 1 -41 1 -10 1 59 1 -32 1 -12 1 23 1 -95 1 99 1 -74 1 -27 1 11 1 -16 1 86 1 -77 1 -13 1 -5 1 45 1 -38 1 14 1 -74 1 59 1 -20 1 -3 1 -3 1 -63 1 4 1 30 1 19 1 1 1 42 1 -62 1 -9 1 14 1 24 1 -66 1 16 1 22 1 -39 1 47 1 -42 1 70 1 -3 1 32 1 -38 1 52 1 -18 1 18 1 36 1 -82 1 43 1 50 1 -23 1 26 1 35 1 -57 1 42 1 18 1 16 1 8 1 10 1 29 1 15 1 16 1 61 1 -25 1 -27 1 5 1 53 1 43 1 -38 1 67 1 21 1 26 1 33 1 -95 1 68 1 97 1 -40 1 41 1 -54 1 58 1 20 1 -21 1 -9 1 81 1 -2 1 42 1 -34 1 35 1 20 1 41 1 -44 1 62 1 -22 1 15 1 76 1 -8 1 5 1 49 1 -8 1 6 1 64 1 -17 1 1 1 35 1 18 1 35 1 -18 1 11 1 23 1 -19 1 46 1 25 1 -35 1 38 1 5 1 10 1 54 1 23 1 -45 1 91 1 -18 1 -33 1 61 1 -19 1 45 1 -55 1 63 1 -7 1 56 1 -32 1 12 1 34 1 -12 1 28 1 -2 1 28 1 9 1 25 1 -22 1 22 1 19 1 -35 1 40 1 13 1 20 1 -22 1 23 1 27 1 -2 1 -6 1 17 1 -11 1 10 1 -12 1 57 1 -3 1 11 1 7 1 2 1 15 1 -14 1 42 1 -14 1 -3 1 1 1 23 1 2 1 10 1 0 1 17 1 -8 1 -4 1 -5 1 43 1 -13 1 14 1 3 1 18 1 -3 1 -2 1 13 1 10 1 -19 1 20 1 10 1 0 1 8 1 12 1 -14 1 14 1 18 1 -27 1 22 1 19 1 -15 1 12 1 -9 1 21 1 -7 1 19 1 0 1 -16 1 11 1 -24 1 31 1 -9 1 21 1 -33 1 21 1 22 1 -20 1 11 1 -29 1 15 1 25 1 -16 1 5 1 12 1 1 1 1 1 10 1 -13 1 11 1 -3 1 4 1 5 1 -29 1 20 1 -4 1 -22 1 31 1 8 1 12 1 -3 1 -23 1 23 1 8 1 -23 1 2 1 -20 1 36 1 -28 1 38 1 -40 1 12 1 14 1 -24 1 12 1 -4 1 6 1 -12 1 6 1 18 1 -1 1 0 1 -17 1 2 1 4 1 6 1 4 1 -10 1 -5 1 1 1 -9 1 -1 1 23 1 -31 1 11 1 14 1 -1 1 -2 1 12 1 2 1 -7 1 4 1 27 1 -37 1 27 1 -23 1 7 1 3 1 -14 1 17 1 2 1 -14 1 1 1 10 1 1 1 0 1 -11 1 -1 1 -4 1 10 1 9 1 -17 1 -21 1 11 1 29 1 -19 1 9 1 0 1 2 1 6 1 8 1 -21 1 16 1 -5 1 -2 1 -5 1 6 1 -3 1 3 1 -7 1 -1 1 -12 1 10 1 12 1 -12 1 -3 1 15 1 0 1 18 1 -39 1 14 1 -13 1 31 1 8 1 -27 1 12 1 -11 1 10 1 -16 1 12 1 -2 1 -7 1 10 1 -1 1 -17 1 14 1 -3 1 -3 1 4 1 -4 1 -14 1 8 1 26 1 9 1 -14 1 15 1 4 1 -17 1 -1 1 -12 1 -3 1 -18 1 30 1 -1 1 -9 1 -9 1 14 1 7 1 19 1 -37 1 11 1 -19 1 -2 1 -1 1 15 1 -4 1 23 1 -19 1 9 1 -15 1 16 1 -3 1 6 1 -27 1 18 1 11 1 -6 1 9 1 -26 1 0 1 11 1 -1 1 18 1 -31 1 16 1 -22 1 28 1 -11 1 -4 1 1 1 9 1 -12 1 7 1 4 1 11 1 -25 1 14 1 -5 1 6 1 -5 1 8 1 -31 1 8 1 12 1 4 1 -4 1 16 1 -15 1 7 1 3 1 3 1 0 1 -12 1 5 1 8 1 -12 1 2 1 3 1 -16 1 18 1 11 1 -16 1 12 1 -19 1 3 1 9 1 -8 1 9 1 1 1 13 1 4 1 -18 1 -22 1 30 1 -11 1 6 1 -12 1 14 1 -8 1 -5 1 9 1 -3 1 0 1 -7 1 -1 1 -2 1 4 1 14 1 -6 1 -9 1 5 1 -9 1 22 1 -4 1 0 1 -12 1 10 1 2 1 -12 1 7 1 7 1 -15 1 5 1 -6 1 -1 1 12 1 -3 1 -2 1 -9 1 7 1 -14 1 12 1 -14 1 -27 1 12 1 -24 1 -52 1 -27 1 -24 1 -9 1 -1 1 35 1 15 1 20 1 48 1 23 1 8 1 -5 1 10 1 25 1 -6 1 1 1 -6 1 -1 1 2 1 10 1 -21 1 1 1 21 1 -9 1 -13 1 8 1 -2 1 10 1 -19 1 25 1 -20 1 -9 1 26 1 -21 1 5 1 15 1 -8 1 -13 1 19 1 0 1 24 1 -12 1 -13 1 -3 1 -7 1 -3 1 -11 1 13 1 -22 1 21 1 -6 1 22 1 -13 1 -5 1 0 1 14 1 -4 1 13 1 -17 1 14 1 -20 1 7 1 -4 1 1 1 1 1 -3 1 7 1 17 1 -29 1 20 1 -16 1 3 1 2 1 2 1 -1 1 1 1 2 1 1 1 -4 1 -3 1 10 1 -7 1 16 1 -5 1 9 1 -14 1 -7 1 -3 1 21 1 -22 1 18 1 -6 1 1 1 -21 1 14 1 -19 1 11 1 13 1 -7 1 -10 1 23 1 -4 1 -5 1 3 1 0 1 -20 1 15 1 5 1 1 1 9 1 -21 1 14 1 -42 1 31 1 11 1 6 1 -7 1 -9 1 10 1 -12 1 -1 1 1 1 1 1 5 1 7 1 5 1 4 1 -12 1 -11 1 7 1 10 1 -19 1 19 1 2 1 -2 1 -3 1 -6 1 11 1 4 1 -20 1 1 1 -2 1 -2 1 7 1 -18 1 20 1 -1 1 -14 1 9 1 6 1 -2 1 12 1 -19 1 9 1 -6 1 -9 1 5 1 5 1 -1 1 3 1 -16 1 36" stroke="#0a64ff" stroke-width="4.00" fill="none" stroke-linejoin="round" stroke-linecap="round"/><path transform="translate(377.275,260.8) scale(0.31000,0.1)" vector-effect="non-scaling-stroke" d="M0 0l1 4 1 -14 1 7 1 -4 1 -20 1 18 1 -7 1 13 1 3 1 3 1 -26 1 26 1 -7 1 -30 1 20 1 4 1 2 1 10 1 -17 1 -8 1 21 1 -5 1 -24 1 22 1 -13 1 -17 1 34 1 -9 1 8 1 14 1 -39 1 7 1 10 1 -9 1 11 1 9 1 -9 1 0 1 3 1 -24 1 21 1 2 1 -14 1 -4 1 -14 1 15 1 18 1 -6 1 -21 1 18 1 -14 1 -16 1 37 1 0 1 -16 1 -2 1 -11 1 28 1 -26 1 9 1 16 1 -18 1 -9 1 -16 1 27 1 -16 1 23 1 -29 1 11 1 -19 1 34 1 -3 1 5 1 -42 1 26 1 15 1 -14 1 -19 1 1 1 2 1 20 1 -15 1 21 1 -7 1 -27 1 -4 1 13 1 18 1 -12 1 -8 1 -25 1 26 1 9 1 -4 1 -5 1 -5 1 -5 1 -30 1 32 1 18 1 -41 1 22 1 -2 1 -3 1 -13 1 1 1 -6 1 9 1 -6 1 13 1 -1 1 -7 1 -4 1 15 1 -8 1 -34 1 0 1 -8 1 5 1 1 1 -13 1 13 1 12 1 -3 1 -10 1 -3 1 6 1 1 1 -6 1 8 1 -43 1 22 1 32 1 -42 1 22 1 -10 1 -6 1 -14 1 11 1 -7 1 4 1 -37 1 31 1 10 1 4 1 -22 1 4 1 -11 1 -7 1 21 1 -21 1 9 1 -4 1 1 1 -14 1 4 1 -3 1 -9 1 11 1 -43 1 7 1 12 1 -14 1 15 1 -20 1 22 1 -27 1 -6 1 3 1 -21 1 21 1 -19 1 -11 1 -4 1 5 1 -31 1 10 1 -2 1 19 1 -18 1 6 1 -46 1 23 1 15 1 -32 1 -8 1 24 1 -17 1 -44 1 37 1 -10 1 -52 1 49 1 16 1 -9 1 -23 1 -16 1 24 1 16 1 -51 1 9 1 0 1 2 1 -42 1 19 1 15 1 -11 1 -15 1 13 1 -22 1 -36 1 0 1 -8 1 -6 1 10 1 -9 1 34 1 -53 1 -3 1 2 1 -6 1 19 1 -17 1 15 1 -27 1 -11 1 2 1 -42 1 33 1 -29 1 -4 1 1 1 -22 1 -3 1 9 1 -41 1 23 1 -23 1 28 1 -10 1 -29 1 -51 1 67 1 -8 1 -16 1 -14 1 -17 1 -28 1 19 1 -23 1 5 1 5 1 -8 1 -28 1 -1 1 -31 1 17 1 0 1 16 1 -16 1 -31 1 -6 1 -37 1 44 1 -36 1 10 1 37 1 -27 1 -39 1 7 1 0 1 -48 1 24 1 -19 1 -18 1 21 1 -33 1 31 1 -1 1 -63 1 -12 1 7 1 27 1 -17 1 7 1 -8 1 -33 1 7 1 -46 1 57 1 -32 1 9 1 -5 1 -85 1 0 1 20 1 -11 1 -9 1 6 1 70 1 -29 1 -78 1 70 1 -107 1 7 1 5 1 -10 1 -17 1 25 1 -70 1 45 1 9 1 -80 1 36 1 -14 1 -31 1 -34 1 49 1 -12 1 30 1 -46 1 -52 1 56 1 -5 1 12 1 -20 1 -8 1 -45 1 -17 1 52 1 -76 1 -34 1 2 1 33 1 -54 1 26 1 6 1 -3 1 -8 1 -43 1 -36 1 56 1 -4 1 -99 1 49 1 -99 1 43 1 42 1 -76 1 -11 1 71 1 -50 1 -54 1 76 1 -64 1 -6 1 -54 1 11 1 42 1 23 1 -39 1 -20 1 -3 1 6 1 10 1 -71 1 44 1 6 1 -32 1 -1 1 2 1 -39 1 64 1 -40 1 -24 1 42 1 -20 1 -17 1 2 1 14 1 36 1 -12 1 -28 1 8 1 0 1 6 1 35 1 -70 1 50 1 -78 1 -35 1 61 1 12 1 35 1 14 1 -14 1 -38 1 33 1 54 1 -67 1 44 1 -34 1 30 1 28 1 -4 1 -29 1 44 1 -49 1 69 1 -56 1 88 1 3 1 -39 1 -15 1 62 1 -20 1 61 1 14 1 -17 1 -48 1 81 1 50 1 37 1 -54 1 -7 1 39 1 -2 1 39 1 -43 1 35 1 66 1 -7 1 -35 1 49 1 77 1 -37 1 18 1 74 1 -68 1 -9 1 66 1 25 1 -3 1 22 1 5 1 -1 1 68 1 -18 1 -42 1 64 1 6 1 7 1 41 1 25 1 -79 1 67 1 36 1 -35 1 42 1 23 1 0 1 31 1 1 1 -35 1 29 1 19 1 -28 1 24 1 36 1 35 1 -12 1 -32 1 61 1 -61 1 64 1 37 1 -11 1 -32 1 57 1 -13 1 5 1 40 1 -24 1 5 1 26 1 67 1 -32 1 4 1 9 1 -7 1 44 1 18 1 55 1 -7 1 -35 1 56 1 -8 1 39 1 -17 1 28 1 -23 1 20 1 2 1 46 1 -17 1 -10 1 85 1 -39 1 -1 1 -8 1 13 1 8 1 13 1 1 1 25 1 7 1 26 1 -9 1 8 1 -24 1 53 1 -16 1 17 1 1 1 -10 1 26 1 21 1 -10 1 -7 1 17 1 1 1 39 1 -30 1 29 1 17 1 -18 1 33 1 -21 1 -14 1 37 1 10 1 -25 1 12 1 1 1 45 1 -11 1 -35 1 42 1 -1 1 -4 1 2 1 10 1 37 1 -40 1 27 1 -26 1 0 1 35 1 -13 1 -17 1 2 1 13 1 22 1 -9 1 20 1 -29 1 17 1 -11 1 53 1 -23 1 2 1 0 1 13 1 -19 1 18 1 -32 1 30 1 3 1 5 1 -14 1 5 1 17 1 27 1 -31 1 8 1 -9 1 12 1 -12 1 18 1 -15 1 7 1 -13 1 15 1 -8 1 12 1 0 1 6 1 8 1 -16 1 3 1 -17 1 13 1 -15 1 0 1 19 1 15 1 -8 1 -13 1 12 1 -12 1 17 1 -5 1 -8 1 3 1 5 1 1 1 -3 1 8 1 -11 1 17 1 -39 1 32 1 12 1 9 1 -8 1 -13 1 10 1 -18 1 17 1 8 1 -7 1 3 1 -4 1 11 1 -10 1 19 1 -22 1 3 1 1 1 7 1 -7 1 -3 1 21 1 -29 1 13 1 -7 1 -11 1 30 1 -3 1 0 1 -11 1 11 1 -1 1 -27 1 21 1 -7 1 -7 1 -4 1 30 1 -19 1 -4 1 -4 1 19 1 -3 1 -6 1 1 1 4 1 3 1 -5 1 2 1 -6 1 10 1 4 1 -6 1 -3 1 -13 1 15 1 18 1 -45 1 10 1 7 1 1 1 4 1 -18 1 32 1 -21 1 0 1 -17 1 26 1 -18 1 12 1 15 1 1 1 -24 1 25 1 -9 1 -21 1 28 1 -16 1 -15 1 4 1 8 1 16 1 -27 1 14 1 5 1 12 1 12 1 -28 1 9 1 14 1 -28 1 7 1 9 1 -2 1 -10 1 0 1 15 1 -19 1 12 1 8 1 -9 1 -2 1 -12 1 5 1 31 1 -10 1 -22 1 6 1 13 1 -5 1 -23 1 43 1 -39 1 2 1 18 1 -3 1 -7 1 3 1 -4 1 -8 1 19 1 -6 1 -5 1 9 1 -4 1 -16 1 37 1 -24 1 8 1 7 1 -10 1 -6 1 -5 1 17 1 -15 1 -9 1 14 1 -6 1 3 1 -2 1 17 1 -23 1 8 1 -15 1 11 1 18 1 -22 1 -2 1 3 1 15 1 1 1 -19 1 23 1 -18 1 8 1 8 1 -3 1 2 1 -11 1 12 1 -6 1 2 1 -7 1 -6 1 26 1 -20 1 12 1 -5 1 -1 1 -18 1 0 1 19 1 0 1 -18 1 10 1 -14 1 27 1 -20 1 18 1 25 1 -39 1 18 1 -17 1 11 1 -17 1 28 1 2 1 -32 1 4 1 10 1 19 1 -27 1 -17 1 30 1 1 1 4 1 -13 1 5 1 16 1 -9 1 -17 1 22 1 -15 1 -8 1 3 1 27 1 -25 1 18 1 9 1 -24 1 20 1 -15 1 -15 1 7 1 7 1 -11 1 9 1 -7 1 -4 1 23 1 -28 1 19 1 -3 1 -1 1 5 1 2 1 -11 1 13 1 -12 1 -3 1 14 1 -2 1 -9 1 5 1 -6 1 7 1 3 1 -2 1 -5 1 -9 1 30 1 -13 1 -1 1 5 1 -4 1 -17 1 1 1 17 1 9 1 -19 1 -1 1 18 1 -15 1 -2 1 -3 1 12 1 -10 1 7 1 -11 1 7 1 -4 1 6 1 3 1 -5 1 -7 1 13 1 -8 1 -22 1 33 1 7 1 -4 1 -7 1 -3 1 24 1 -3 1 -29 1 23 1 -22 1 -6 1 45 1 -38 1 6 1 4 1 -8 1 5 1 -7 1 -13 1 16 1 16 1 -28 1 3 1 -3 1 11 1 -5 1 -12 1 22 1 5 1 -21 1 19 1 -16 1 18 1 -1 1 -8 1 0 1 11 1 -25 1 21 1 -11 1 16 1 -3 1 0 1 -8 1 0 1 0 1 2 1 -10 1 0 1 14 1 -6 1 -3 1 -3 1 2 1 9 1 0 1 -4 1 -4 1 16 1 -1 1 -6 1 -5 1 8 1 -3 1 4 1 -14 1 27 1 -21 1 7 1 -7 1 -2 1 33 1 -43 1 4 1 -9 1 9 1 -2 1 4 1 -11 1 31 1 -13 1 8 1 -18 1 6 1 -14 1 15 1 4 1 0 1 6 1 13 1 -21 1 4 1 0 1 8 1 -13 1 12 1 -14 1 5 1 1 1 13 1 -20 1 -5 1 10" stroke="#a6ff52" stroke-width="4.00" fill="none" stroke-linejoin="round" stroke-linecap="round"/><path transform="translate(377.275,262.4) scale(0.31000,0.1)" vector-effect="non-scaling-stroke" d="M0 0l1 -13 1 -2 1 13 1 -34 1 16 1 -4 1 12 1 -1 1 15 1 -8 1 -4 1 -7 1 12 1 4 1 -22 1 11 1 -10 1 9 1 7 1 -6 1 26 1 -38 1 4 1 -7 1 15 1 -25 1 8 1 32 1 0 1 -23 1 18 1 -14 1 -1 1 1 1 -20 1 10 1 -2 1 4 1 -31 1 18 1 22 1 -15 1 14 1 -7 1 -1 1 14 1 5 1 -8 1 -21 1 38 1 -39 1 30 1 -16 1 -3 1 -16 1 8 1 12 1 -6 1 -10 1 -11 1 9 1 4 1 1 1 -22 1 27 1 -5 1 -10 1 -12 1 35 1 -32 1 -3 1 10 1 24 1 -14 1 -8 1 -6 1 18 1 -13 1 -12 1 15 1 -4 1 1 1 11 1 -14 1 -2 1 -13 1 18 1 6 1 -11 1 4 1 -19 1 13 1 11 1 -28 1 8 1 -4 1 -4 1 -10 1 24 1 -21 1 6 1 -1 1 1 1 3 1 -10 1 1 1 -10 1 -11 1 30 1 -39 1 9 1 28 1 -15 1 -3 1 -17 1 27 1 -37 1 35 1 -11 1 2 1 7 1 -3 1 -9 1 -6 1 3 1 2 1 21 1 -33 1 -31 1 1 1 5 1 19 1 -14 1 13 1 -3 1 -11 1 -14 1 20 1 0 1 -11 1 19 1 -35 1 -5 1 -4 1 4 1 17 1 -7 1 8 1 -21 1 -29 1 43 1 -26 1 -13 1 33 1 -50 1 39 1 -11 1 -11 1 -11 1 -1 1 13 1 4 1 22 1 -31 1 -30 1 28 1 -25 1 -5 1 5 1 9 1 -4 1 -11 1 23 1 -53 1 35 1 -10 1 -4 1 -9 1 -14 1 -17 1 12 1 -26 1 28 1 -21 1 -6 1 7 1 -13 1 24 1 -44 1 5 1 6 1 5 1 -26 1 29 1 -36 1 -8 1 -33 1 41 1 -31 1 8 1 35 1 -10 1 -19 1 -36 1 -10 1 26 1 -18 1 -1 1 44 1 -71 1 -11 1 62 1 -29 1 -21 1 -6 1 -26 1 -8 1 27 1 -28 1 20 1 -12 1 -16 1 -12 1 17 1 -55 1 28 1 -2 1 -20 1 22 1 -25 1 49 1 -20 1 -33 1 -4 1 -8 1 0 1 -31 1 -19 1 29 1 -37 1 7 1 27 1 -3 1 -36 1 -28 1 36 1 19 1 -71 1 -11 1 23 1 -34 1 -27 1 55 1 -16 1 -7 1 -38 1 35 1 -18 1 -41 1 -2 1 -7 1 36 1 -37 1 16 1 -41 1 3 1 -12 1 12 1 -14 1 -12 1 6 1 -20 1 22 1 -2 1 5 1 -43 1 -31 1 2 1 49 1 -63 1 1 1 -3 1 -16 1 -16 1 -26 1 -5 1 -23 1 24 1 21 1 -54 1 54 1 -56 1 37 1 -18 1 -51 1 38 1 -48 1 3 1 11 1 -29 1 -4 1 4 1 12 1 -44 1 22 1 -14 1 -20 1 6 1 -16 1 -9 1 -7 1 -3 1 -39 1 40 1 -9 1 14 1 20 1 -84 1 -2 1 -32 1 67 1 -24 1 -13 1 -72 1 20 1 21 1 -11 1 -15 1 31 1 -46 1 31 1 -38 1 -22 1 4 1 19 1 -18 1 -35 1 28 1 15 1 -35 1 -1 1 -15 1 -12 1 3 1 -6 1 -41 1 3 1 -17 1 18 1 7 1 -25 1 42 1 -14 1 -59 1 32 1 0 1 7 1 -47 1 40 1 -71 1 23 1 49 1 -39 1 9 1 -48 1 -4 1 24 1 0 1 -35 1 26 1 -59 1 52 1 -31 1 61 1 -68 1 25 1 -27 1 -25 1 35 1 64 1 -13 1 -60 1 28 1 8 1 -60 1 37 1 -31 1 2 1 39 1 -12 1 39 1 -41 1 15 1 -42 1 24 1 31 1 18 1 -9 1 -3 1 -17 1 -4 1 66 1 -1 1 -34 1 47 1 -27 1 50 1 -36 1 8 1 1 1 14 1 -26 1 -5 1 10 1 33 1 7 1 16 1 8 1 -9 1 7 1 8 1 -5 1 -9 1 47 1 -4 1 -13 1 16 1 34 1 17 1 -40 1 52 1 -31 1 44 1 -64 1 81 1 -66 1 36 1 -8 1 13 1 26 1 30 1 -61 1 82 1 -6 1 48 1 -24 1 -6 1 42 1 -11 1 20 1 11 1 -15 1 4 1 49 1 34 1 -44 1 47 1 -6 1 18 1 -33 1 -19 1 76 1 -55 1 58 1 22 1 -24 1 -8 1 60 1 13 1 -41 1 33 1 95 1 -50 1 24 1 5 1 -6 1 23 1 8 1 -46 1 92 1 -31 1 0 1 53 1 2 1 9 1 -35 1 50 1 -25 1 44 1 10 1 -28 1 0 1 54 1 1 1 -19 1 34 1 12 1 6 1 -21 1 68 1 -82 1 11 1 15 1 37 1 17 1 -16 1 40 1 -57 1 62 1 -28 1 15 1 33 1 3 1 19 1 -10 1 -2 1 18 1 15 1 0 1 -16 1 14 1 15 1 28 1 4 1 -11 1 23 1 12 1 -30 1 29 1 4 1 21 1 -9 1 -3 1 15 1 37 1 -11 1 -12 1 11 1 -7 1 28 1 1 1 -10 1 21 1 -9 1 49 1 -8 1 -26 1 7 1 6 1 3 1 4 1 38 1 -39 1 17 1 37 1 6 1 -22 1 21 1 -14 1 16 1 23 1 -6 1 -3 1 -2 1 -8 1 26 1 -13 1 14 1 3 1 35 1 -23 1 18 1 -28 1 -3 1 13 1 -20 1 29 1 -6 1 20 1 -7 1 22 1 -8 1 -16 1 17 1 6 1 0 1 -7 1 -9 1 41 1 -18 1 4 1 3 1 -1 1 -5 1 -7 1 41 1 -6 1 -15 1 22 1 -23 1 19 1 -8 1 15 1 -2 1 -46 1 42 1 -22 1 21 1 -7 1 20 1 -15 1 15 1 31 1 -1 1 -31 1 -9 1 20 1 5 1 -5 1 -26 1 45 1 -30 1 -4 1 32 1 -3 1 -6 1 5 1 -18 1 12 1 9 1 -10 1 -9 1 21 1 6 1 -19 1 -9 1 4 1 10 1 13 1 -11 1 4 1 1 1 8 1 -11 1 3 1 26 1 -22 1 21 1 -12 1 4 1 -7 1 12 1 0 1 2 1 1 1 11 1 -22 1 14 1 -10 1 4 1 -4 1 -1 1 22 1 -13 1 -3 1 11 1 0 1 -11 1 -9 1 9 1 -1 1 4 1 -16 1 21 1 -9 1 -26 1 33 1 4 1 18 1 1 1 -40 1 23 1 11 1 -4 1 7 1 -12 1 8 1 -13 1 -9 1 11 1 5 1 0 1 -14 1 29 1 -3 1 -4 1 7 1 -18 1 9 1 7 1 -16 1 7 1 -5 1 4 1 6 1 5 1 -16 1 15 1 -21 1 8 1 3 1 9 1 -26 1 20 1 -9 1 13 1 -19 1 7 1 -6 1 2 1 10 1 8 1 -10 1 8 1 -3 1 -22 1 8 1 6 1 -3 1 -3 1 7 1 3 1 -2 1 -4 1 -16 1 33 1 -12 1 6 1 -31 1 31 1 -19 1 7 1 1 1 -6 1 7 1 7 1 -23 1 32 1 7 1 -11 1 -15 1 14 1 -8 1 -9 1 3 1 3 1 -8 1 11 1 -10 1 9 1 -14 1 4 1 11 1 -12 1 3 1 1 1 5 1 15 1 -7 1 -14 1 -4 1 29 1 -6 1 11 1 -7 1 -20 1 13 1 -12 1 -10 1 33 1 -19 1 -2 1 -1 1 -7 1 -1 1 6 1 16 1 -22 1 -10 1 33 1 -10 1 -5 1 8 1 -7 1 0 1 -9 1 15 1 -2 1 -21 1 8 1 16 1 8 1 -12 1 -6 1 8 1 12 1 -1 1 -6 1 -7 1 -3 1 -8 1 19 1 1 1 10 1 -8 1 -8 1 1 1 -1 1 -4 1 6 1 11 1 -17 1 -2 1 12 1 -42 1 60 1 -10 1 -10 1 0 1 4 1 -12 1 -9 1 6 1 3 1 -14 1 32 1 -14 1 -2 1 4 1 -2 1 1 1 4 1 6 1 -1 1 -8 1 -8 1 -1 1 -2 1 33 1 -16 1 3 1 -12 1 0 1 4 1 -15 1 16 1 -6 1 -5 1 1 1 8 1 -18 1 7 1 -2 1 7 1 1 1 10 1 12 1 -8 1 4 1 -16 1 15 1 -10 1 5 1 -10 1 2 1 -17 1 5 1 -6 1 15 1 20 1 -29 1 -11 1 25 1 -19 1 17 1 -3 1 2 1 5 1 -1 1 13 1 -20 1 0 1 -6 1 8 1 -5 1 -19 1 13 1 12 1 -4 1 3 1 -14 1 19 1 -16 1 7 1 32 1 -33 1 11 1 4 1 -10 1 -3 1 -23 1 25 1 10 1 -8 1 -6 1 15 1 -8 1 15 1 -4 1 -9 1 -12 1 17 1 0 1 -8 1 10 1 -5 1 4 1 -28 1 23 1 -20 1 14 1 -18 1 29 1 -12 1 27 1 -39 1 7 1 11 1 -25 1 -9 1 14 1 -1 1 16 1 9 1 8 1 -27 1 31 1 -18 1 -20 1 14 1 17 1 -4 1 -23 1 25 1 -6 1 10 1 -14 1 5 1 -17 1 21 1 -6 1 21 1 -39 1 1 1 16 1 -5 1 -3 1 -6 1 28 1 -8 1 -33 1 12 1 6 1 6 1 -9 1 -1 1 1 1 20 1 -11 1 -4 1 1 1 14 1 -9 1 8 1 -6 1 -7 1 -3 1 0 1 -5 1 9 1 15 1 -14" stroke="#ff1008" stroke-width="4.00" fill="none" stroke-linejoin="round" stroke-linecap="round"/><path transform="translate(377.275,262.7) scale(0.31000,0.1)" vector-effect="non-scaling-stroke" d="M0 0l1 18 1 -16 1 -15 1 -9 1 16 1 19 1 -20 1 10 1 -30 1 37 1 -31 1 15 1 -9 1 16 1 -18 1 7 1 2 1 13 1 -8 1 20 1 -36 1 12 1 -27 1 44 1 -46 1 16 1 13 1 -14 1 26 1 1 1 -39 1 48 1 -31 1 -21 1 19 1 -19 1 23 1 7 1 -29 1 4 1 14 1 -22 1 38 1 -34 1 22 1 -10 1 1 1 -2 1 -5 1 -14 1 -1 1 20 1 0 1 16 1 -42 1 11 1 24 1 -13 1 -21 1 33 1 -15 1 3 1 4 1 -6 1 32 1 -48 1 22 1 -10 1 24 1 -60 1 26 1 40 1 -22 1 -6 1 10 1 5 1 -1 1 -9 1 -17 1 -2 1 -18 1 22 1 33 1 -36 1 -21 1 36 1 -23 1 -4 1 21 1 -15 1 13 1 -43 1 12 1 9 1 -12 1 -1 1 24 1 7 1 0 1 -4 1 -37 1 -6 1 -9 1 48 1 -24 1 -23 1 -12 1 36 1 -1 1 -1 1 -16 1 -8 1 -5 1 24 1 -36 1 43 1 -31 1 -15 1 3 1 10 1 13 1 -7 1 10 1 -3 1 4 1 -40 1 40 1 -11 1 -39 1 15 1 -27 1 1 1 19 1 -15 1 39 1 -28 1 -31 1 22 1 1 1 -48 1 33 1 41 1 -52 1 68 1 -61 1 0 1 14 1 3 1 -9 1 -65 1 73 1 -9 1 -14 1 1 1 -45 1 25 1 7 1 -21 1 6 1 7 1 0 1 -6 1 -3 1 3 1 -10 1 -31 1 50 1 -37 1 -10 1 14 1 -4 1 -28 1 30 1 -25 1 -2 1 5 1 -4 1 -16 1 -17 1 51 1 -49 1 34 1 1 1 -26 1 -4 1 39 1 -77 1 42 1 -29 1 3 1 -8 1 8 1 -9 1 1 1 6 1 -36 1 17 1 -8 1 17 1 -2 1 -22 1 32 1 -69 1 38 1 -6 1 0 1 -18 1 -13 1 -9 1 28 1 7 1 -27 1 -5 1 11 1 -51 1 49 1 -8 1 -47 1 27 1 -9 1 11 1 5 1 -16 1 19 1 -64 1 6 1 -44 1 44 1 6 1 -43 1 33 1 -42 1 32 1 27 1 -41 1 -6 1 -26 1 19 1 -22 1 -5 1 23 1 0 1 -14 1 17 1 -49 1 -20 1 20 1 3 1 8 1 -53 1 -16 1 78 1 -115 1 7 1 48 1 -19 1 -10 1 -12 1 14 1 -26 1 -13 1 -54 1 61 1 10 1 -51 1 22 1 -12 1 -4 1 5 1 -4 1 -6 1 1 1 -16 1 -69 1 45 1 13 1 -2 1 -68 1 43 1 -29 1 46 1 3 1 -73 1 47 1 -62 1 -25 1 41 1 -17 1 -9 1 0 1 -16 1 -7 1 -13 1 -16 1 -20 1 -6 1 5 1 17 1 -45 1 -16 1 13 1 8 1 -82 1 123 1 -92 1 4 1 -45 1 -18 1 28 1 26 1 -38 1 44 1 -45 1 19 1 -46 1 61 1 -50 1 -24 1 6 1 -3 1 5 1 -22 1 -60 1 56 1 15 1 -14 1 -25 1 -42 1 24 1 -39 1 -25 1 65 1 -41 1 11 1 -44 1 -2 1 9 1 42 1 -30 1 -13 1 -6 1 12 1 -34 1 -11 1 -2 1 30 1 -18 1 19 1 -19 1 -49 1 22 1 -7 1 -45 1 48 1 -24 1 43 1 -82 1 31 1 -36 1 -3 1 22 1 -23 1 62 1 -33 1 41 1 -97 1 9 1 -29 1 0 1 -9 1 56 1 41 1 -36 1 -83 1 50 1 -21 1 12 1 6 1 29 1 26 1 -67 1 60 1 -86 1 36 1 -4 1 21 1 57 1 -27 1 -61 1 73 1 -2 1 -90 1 119 1 -66 1 -15 1 -52 1 31 1 22 1 76 1 -47 1 51 1 -62 1 58 1 -75 1 17 1 43 1 -27 1 11 1 9 1 8 1 -18 1 27 1 19 1 -19 1 40 1 -57 1 18 1 98 1 -53 1 0 1 3 1 -14 1 -22 1 0 1 116 1 -86 1 94 1 -89 1 25 1 45 1 -4 1 5 1 -48 1 62 1 1 1 -20 1 -34 1 77 1 -21 1 38 1 -49 1 74 1 -42 1 5 1 31 1 -41 1 -17 1 65 1 -4 1 10 1 -23 1 18 1 29 1 11 1 28 1 -8 1 -2 1 -43 1 32 1 98 1 -41 1 -46 1 11 1 94 1 -42 1 -43 1 76 1 -2 1 -7 1 41 1 -54 1 33 1 7 1 33 1 -43 1 48 1 21 1 -11 1 41 1 -15 1 -75 1 96 1 10 1 -19 1 -2 1 5 1 11 1 61 1 -27 1 55 1 -75 1 15 1 -5 1 73 1 20 1 -52 1 36 1 12 1 -3 1 26 1 14 1 -53 1 8 1 -6 1 19 1 12 1 -3 1 27 1 -5 1 14 1 62 1 -64 1 -29 1 11 1 53 1 -9 1 9 1 -33 1 8 1 69 1 6 1 -2 1 10 1 -49 1 94 1 -15 1 14 1 -13 1 -27 1 49 1 -41 1 -15 1 42 1 -19 1 41 1 -8 1 21 1 -27 1 25 1 -2 1 1 1 3 1 53 1 -23 1 29 1 -1 1 -3 1 -8 1 20 1 11 1 -30 1 26 1 65 1 -52 1 25 1 -19 1 3 1 -15 1 51 1 -22 1 29 1 16 1 25 1 -35 1 -21 1 41 1 -22 1 26 1 -12 1 26 1 -11 1 37 1 -32 1 -20 1 21 1 38 1 31 1 -39 1 30 1 -17 1 -20 1 70 1 -38 1 1 1 -15 1 10 1 -23 1 28 1 -2 1 56 1 -37 1 9 1 -3 1 -19 1 47 1 29 1 -83 1 41 1 7 1 -33 1 14 1 14 1 0 1 -6 1 34 1 -18 1 -35 1 31 1 7 1 -30 1 35 1 -24 1 26 1 12 1 -9 1 4 1 33 1 -62 1 30 1 -28 1 55 1 -4 1 18 1 -18 1 -13 1 -25 1 48 1 0 1 -22 1 10 1 23 1 -2 1 5 1 -31 1 33 1 -2 1 -26 1 33 1 -27 1 45 1 -12 1 -34 1 15 1 28 1 6 1 10 1 -33 1 11 1 -8 1 8 1 -48 1 28 1 49 1 -30 1 27 1 -23 1 9 1 -7 1 11 1 30 1 -44 1 42 1 -14 1 -2 1 -14 1 24 1 -16 1 -3 1 -30 1 44 1 -14 1 -5 1 14 1 -5 1 -11 1 27 1 38 1 -42 1 -8 1 -3 1 2 1 -10 1 18 1 12 1 9 1 4 1 -35 1 26 1 4 1 -36 1 45 1 -33 1 30 1 -7 1 1 1 -14 1 13 1 -20 1 25 1 -38 1 36 1 23 1 -13 1 0 1 -19 1 27 1 -39 1 32 1 -6 1 -24 1 50 1 -65 1 47 1 17 1 -53 1 27 1 25 1 -37 1 -15 1 0 1 16 1 25 1 -6 1 -21 1 6 1 12 1 -27 1 43 1 -45 1 43 1 -9 1 -6 1 -13 1 -6 1 42 1 -9 1 -3 1 -8 1 10 1 5 1 -40 1 13 1 11 1 -14 1 18 1 20 1 6 1 -38 1 11 1 0 1 14 1 -17 1 -1 1 -17 1 1 1 30 1 -38 1 14 1 -8 1 25 1 -17 1 39 1 -42 1 30 1 -18 1 17 1 -10 1 -1 1 21 1 -22 1 -12 1 13 1 -16 1 -17 1 33 1 -19 1 18 1 20 1 -29 1 30 1 -19 1 -33 1 45 1 6 1 -11 1 -12 1 -7 1 22 1 1 1 -19 1 10 1 -16 1 28 1 -34 1 17 1 5 1 24 1 -20 1 -3 1 -19 1 15 1 18 1 6 1 -35 1 31 1 -44 1 23 1 12 1 4 1 -33 1 23 1 -5 1 33 1 -32 1 17 1 19 1 -30 1 -2 1 17 1 -61 1 60 1 -4 1 -18 1 0 1 0 1 8 1 -27 1 36 1 15 1 -12 1 -13 1 -4 1 -29 1 32 1 6 1 1 1 4 1 -23 1 29 1 -39 1 35 1 -4 1 -11 1 26 1 -27 1 2 1 -20 1 9 1 48 1 -43 1 21 1 0 1 -2 1 -43 1 37 1 -7 1 -14 1 -14 1 34 1 -8 1 -2 1 3 1 4 1 14 1 -9 1 4 1 3 1 -7 1 -7 1 9 1 -4 1 -19 1 2 1 26 1 13 1 -66 1 41 1 -29 1 27 1 -27 1 20 1 8 1 7 1 -6 1 11 1 -18 1 5 1 -8 1 -1 1 25 1 -21 1 4 1 -16 1 -8 1 31 1 25 1 -31 1 1 1 14 1 -21 1 9 1 -13 1 29 1 -23 1 7 1 0 1 -18 1 24 1 -3 1 -17 1 34 1 -33 1 21 1 23 1 -55 1 -3 1 23 1 16 1 12 1 -31 1 -18 1 45 1 -22 1 -24 1 12 1 14 1 -33 1 50 1 -27 1 -8 1 36 1 -13 1 -1 1 -48 1 43 1 0 1 7 1 -47 1 8 1 44 1 -2 1 -21 1 6 1 -2 1 16 1 17 1 -30 1 17 1 -54 1 36 1 -1 1 -2 1 15 1 -12 1 20 1 -17 1 -7 1 6 1 43 1 -51 1 21 1 -27 1 14 1 1 1 -7 1 17 1 -11 1 6 1 -13 1 -6 1 26 1 -6 1 6 1 -39 1 39 1 -11 1 2 1 11 1 -22 1 12 1 -20 1 30 1 -19 1 -28 1 19 1 14 1 -14 1 32 1 -26 1 2 1 -2 1 0" stroke="#800000" stroke-width="4.30" fill="none" stroke-linejoin="round" stroke-linecap="round"/></g>
<g clip-path="url(#cBL)"><path transform="translate(74.175,485.3) scale(0.31000,0.1)" vector-effect="non-scaling-stroke" d="M0 0l1 -59 1 61 1 -36 1 24 1 26 1 -31 1 36 1 -37 1 -15 1 33 1 -21 1 -16 1 12 1 30 1 -41 1 29 1 3 1 -21 1 3 1 -34 1 11 1 21 1 -76 1 25 1 105 1 -20 1 -14 1 -72 1 63 1 -26 1 9 1 -46 1 42 1 -20 1 16 1 -52 1 20 1 -3 1 31 1 -5 1 -39 1 -13 1 47 1 -20 1 47 1 -77 1 75 1 -44 1 -6 1 42 1 6 1 -35 1 -26 1 62 1 -28 1 69 1 -82 1 34 1 -14 1 -25 1 18 1 -39 1 -13 1 -3 1 40 1 12 1 -48 1 -12 1 61 1 -23 1 6 1 -38 1 36 1 58 1 -96 1 -10 1 22 1 -20 1 23 1 46 1 -48 1 12 1 23 1 -81 1 47 1 93 1 -119 1 6 1 32 1 -7 1 -28 1 1 1 -25 1 -2 1 36 1 -55 1 -25 1 72 1 -12 1 -6 1 -30 1 81 1 -99 1 88 1 -31 1 -26 1 -15 1 30 1 -21 1 -31 1 35 1 -35 1 40 1 73 1 -77 1 4 1 -14 1 53 1 -26 1 -24 1 -14 1 18 1 -66 1 52 1 -31 1 15 1 48 1 -71 1 45 1 -36 1 -47 1 39 1 -70 1 70 1 33 1 9 1 -59 1 85 1 -79 1 -28 1 -4 1 19 1 -44 1 19 1 37 1 -29 1 20 1 -3 1 -89 1 99 1 -89 1 4 1 96 1 -1 1 -46 1 -27 1 -12 1 1 1 36 1 1 1 -54 1 9 1 -9 1 -6 1 67 1 -73 1 -75 1 53 1 46 1 17 1 -74 1 21 1 -11 1 19 1 -62 1 56 1 -69 1 -33 1 -18 1 118 1 -113 1 50 1 -19 1 29 1 -67 1 17 1 36 1 -31 1 46 1 -100 1 -2 1 53 1 -28 1 2 1 -3 1 9 1 33 1 35 1 -124 1 14 1 -13 1 15 1 -24 1 47 1 -40 1 -13 1 35 1 25 1 -102 1 8 1 -48 1 76 1 -61 1 17 1 -25 1 27 1 -39 1 41 1 -61 1 -12 1 56 1 -19 1 -88 1 73 1 -30 1 30 1 47 1 -63 1 -98 1 74 1 -61 1 -24 1 40 1 49 1 26 1 -117 1 6 1 48 1 -31 1 -41 1 7 1 27 1 -81 1 134 1 -50 1 -112 1 38 1 4 1 -48 1 39 1 -31 1 -56 1 16 1 -62 1 94 1 -12 1 80 1 -96 1 -87 1 66 1 -32 1 -17 1 70 1 -46 1 -84 1 144 1 -49 1 -63 1 -31 1 62 1 106 1 -175 1 -51 1 115 1 -172 1 169 1 -134 1 3 1 58 1 -4 1 -33 1 62 1 -39 1 -68 1 18 1 152 1 -82 1 46 1 -190 1 21 1 53 1 18 1 18 1 -151 1 93 1 -121 1 111 1 -52 1 -77 1 62 1 -74 1 72 1 -9 1 -64 1 25 1 53 1 -24 1 -18 1 28 1 2 1 -129 1 -5 1 68 1 -72 1 92 1 -104 1 31 1 -21 1 -152 1 83 1 63 1 21 1 19 1 -147 1 -66 1 120 1 -50 1 1 1 -8 1 3 1 30 1 -170 1 67 1 29 1 59 1 -108 1 48 1 11 1 -167 1 54 1 -82 1 103 1 -43 1 123 1 -169 1 43 1 49 1 -74 1 16 1 6 1 -93 1 113 1 -121 1 8 1 89 1 -44 1 111 1 -128 1 20 1 -42 1 20 1 -26 1 -101 1 49 1 -31 1 80 1 -69 1 -22 1 67 1 -53 1 -47 1 133 1 -55 1 -67 1 48 1 -16 1 -23 1 21 1 -111 1 138 1 -53 1 47 1 -95 1 31 1 9 1 -16 1 -60 1 97 1 -28 1 -9 1 78 1 18 1 -102 1 28 1 -30 1 33 1 12 1 13 1 -14 1 27 1 -6 1 -76 1 6 1 51 1 -70 1 112 1 -61 1 -14 1 66 1 -101 1 137 1 -37 1 18 1 -82 1 31 1 90 1 -52 1 25 1 -69 1 46 1 39 1 -3 1 -8 1 0 1 -38 1 36 1 46 1 101 1 -172 1 68 1 -60 1 66 1 -35 1 27 1 -5 1 117 1 -67 1 109 1 -85 1 68 1 -30 1 -22 1 7 1 53 1 -7 1 -176 1 191 1 114 1 -138 1 34 1 230 1 -12 1 -121 1 37 1 -23 1 -71 1 199 1 2 1 -95 1 114 1 -145 1 99 1 74 1 39 1 -138 1 174 1 -140 1 115 1 -103 1 134 1 40 1 -2 1 -34 1 36 1 -63 1 30 1 -48 1 121 1 -98 1 6 1 116 1 -38 1 58 1 -65 1 2 1 -50 1 41 1 -14 1 28 1 59 1 40 1 89 1 -173 1 170 1 -112 1 102 1 -32 1 -12 1 52 1 -37 1 69 1 -6 1 -109 1 96 1 12 1 9 1 78 1 -95 1 82 1 -104 1 -2 1 92 1 -6 1 -76 1 180 1 -13 1 -105 1 24 1 71 1 -63 1 18 1 3 1 81 1 -118 1 139 1 -20 1 24 1 -25 1 -12 1 -21 1 82 1 -78 1 25 1 29 1 -30 1 39 1 -38 1 -32 1 129 1 -83 1 66 1 31 1 -8 1 18 1 22 1 -107 1 56 1 3 1 9 1 -3 1 8 1 84 1 -32 1 -80 1 28 1 21 1 49 1 -21 1 -45 1 0 1 70 1 11 1 22 1 -68 1 49 1 -75 1 94 1 -45 1 60 1 -35 1 101 1 -12 1 -60 1 -28 1 -4 1 9 1 102 1 34 1 -149 1 109 1 -13 1 -45 1 10 1 45 1 -27 1 -10 1 54 1 10 1 -57 1 89 1 -88 1 57 1 -14 1 -17 1 48 1 -6 1 -18 1 28 1 -18 1 1 1 88 1 -151 1 171 1 -120 1 91 1 -18 1 -15 1 -7 1 10 1 117 1 -87 1 39 1 -33 1 -5 1 97 1 -102 1 34 1 37 1 28 1 2 1 -19 1 -3 1 -21 1 -58 1 -27 1 83 1 95 1 -96 1 53 1 -8 1 -7 1 8 1 -25 1 -12 1 -45 1 117 1 14 1 -12 1 -89 1 148 1 -55 1 29 1 -19 1 -44 1 84 1 -85 1 -48 1 105 1 -25 1 34 1 21 1 -64 1 19 1 50 1 -64 1 -11 1 67 1 31 1 -66 1 -31 1 51 1 -34 1 47 1 -14 1 28 1 -14 1 -41 1 53 1 -24 1 69 1 12 1 -34 1 -21 1 20 1 -24 1 16 1 14 1 -4 1 -15 1 -19 1 20 1 55 1 -29 1 19 1 -31 1 -30 1 128 1 -73 1 -4 1 -86 1 93 1 -41 1 -26 1 54 1 -7 1 5 1 -16 1 47 1 -32 1 16 1 16 1 -72 1 101 1 -85 1 36 1 2 1 12 1 -14 1 -16 1 34 1 -33 1 85 1 -44 1 20 1 -32 1 -35 1 54 1 -32 1 12 1 -42 1 98 1 3 1 -47 1 50 1 -64 1 -1 1 40 1 -4 1 -36 1 3 1 19 1 -31 1 45 1 -29 1 -25 1 5 1 58 1 -5 1 -1 1 -26 1 -8 1 46 1 6 1 -40 1 77 1 -101 1 34 1 21 1 -58 1 41 1 11 1 -82 1 74 1 -10 1 -2 1 10 1 -20 1 27 1 -32 1 17 1 6 1 -31 1 70 1 -35 1 -15 1 -11 1 31 1 18 1 -47 1 79 1 -85 1 90 1 -28 1 -56 1 29 1 29 1 -64 1 25 1 30 1 -34 1 7 1 19 1 -26 1 5 1 57 1 -47 1 -3 1 -5 1 40 1 -55 1 74 1 -28 1 -10 1 -7 1 9 1 -9 1 -9 1 -48 1 72 1 -30 1 24 1 -3 1 23 1 -10 1 -54 1 44 1 -12 1 46 1 -54 1 3 1 4 1 -21 1 32 1 18 1 -32 1 1 1 -37 1 62 1 -16 1 -35 1 43 1 -70 1 1 1 63 1 -17 1 -9 1 47 1 6 1 -60 1 8 1 40 1 7 1 17 1 8 1 -70 1 16 1 15 1 38 1 -16 1 -31 1 43 1 -39 1 19 1 58 1 -88 1 36 1 41 1 -54 1 36 1 -70 1 39 1 -8 1 -35 1 82 1 -55 1 -24 1 13 1 45 1 -41 1 -40 1 78 1 -11 1 -35 1 18 1 7 1 -57 1 72 1 -47 1 64 1 48 1 -84 1 -24 1 36 1 -61 1 47 1 -17 1 9 1 40 1 -68 1 -4 1 1 1 4 1 -3 1 12 1 -10 1 28 1 30 1 -35 1 -14 1 50 1 -21 1 -34 1 44 1 -87 1 58 1 -21 1 13 1 -7 1 27 1 27 1 19 1 6 1 -21 1 32 1 -47 1 21 1 -10 1 5 1 -47 1 42 1 5 1 -71 1 57 1 -52 1 55 1 -7 1 -13 1 48 1 -86 1 -6 1 64 1 -45 1 25 1 21 1 -62 1 79 1 -29 1 -30 1 35 1 -20 1 52 1 -33 1 -8 1 41 1 -13 1 -6 1 -11 1 -14 1 16 1 39 1 -50 1 -37 1 38 1 12 1 -11 1 -19 1 59 1 -87 1 56 1 -66 1 77 1 8 1 -35 1 -23 1 15 1 9 1 -4 1 3 1 -26 1 34 1 -22 1 37 1 -12 1 18 1 -14 1 7 1 29 1 -74 1 18 1 -5 1 -51 1 128 1 -73 1 8 1 -28 1 50 1 -3 1 17 1 -52 1 -35 1 78 1 -27 1 -3 1 27 1 38 1 -84 1 76 1 -81 1 70 1 -67 1 -10 1 54" stroke="#00007f" stroke-width="4.60" fill="none" stroke-linejoin="round" stroke-linecap="round"/><path transform="translate(74.175,485.4) scale(0.31000,0.1)" vector-effect="non-scaling-stroke" d="M0 0l1 16 1 4 1 -64 1 32 1 -38 1 42 1 -15 1 -29 1 46 1 8 1 14 1 -13 1 -40 1 11 1 14 1 -12 1 -13 1 2 1 51 1 -5 1 -77 1 48 1 -19 1 39 1 17 1 -11 1 -56 1 43 1 -41 1 15 1 47 1 -7 1 -32 1 -41 1 24 1 87 1 -83 1 24 1 -15 1 -22 1 61 1 -66 1 37 1 27 1 -54 1 47 1 -1 1 -6 1 -39 1 -14 1 45 1 -72 1 59 1 -21 1 9 1 6 1 32 1 -33 1 14 1 7 1 8 1 -38 1 17 1 -12 1 18 1 24 1 -6 1 -76 1 17 1 16 1 -13 1 55 1 -62 1 73 1 -35 1 0 1 -1 1 39 1 -89 1 88 1 -81 1 15 1 2 1 19 1 2 1 10 1 -69 1 56 1 6 1 -47 1 -32 1 91 1 -34 1 5 1 22 1 3 1 -45 1 18 1 -25 1 54 1 5 1 -14 1 -28 1 -17 1 19 1 52 1 -38 1 -78 1 74 1 -31 1 22 1 -29 1 -16 1 82 1 -43 1 -57 1 65 1 5 1 -30 1 -20 1 59 1 -73 1 31 1 -7 1 -4 1 13 1 -31 1 25 1 -30 1 29 1 -15 1 -3 1 39 1 -76 1 79 1 -64 1 20 1 39 1 -36 1 6 1 -23 1 33 1 -53 1 20 1 -21 1 45 1 6 1 -41 1 48 1 -42 1 -41 1 51 1 -21 1 51 1 -74 1 70 1 -13 1 -39 1 32 1 17 1 -5 1 -77 1 45 1 -46 1 -9 1 10 1 -38 1 28 1 -25 1 36 1 -68 1 36 1 4 1 -74 1 76 1 -22 1 25 1 -26 1 13 1 -37 1 58 1 -6 1 29 1 -61 1 8 1 53 1 -86 1 -29 1 57 1 32 1 -50 1 25 1 2 1 -80 1 26 1 27 1 -4 1 32 1 -52 1 -22 1 -14 1 108 1 -153 1 92 1 -50 1 90 1 -80 1 19 1 -31 1 7 1 44 1 0 1 -29 1 36 1 -72 1 41 1 -117 1 51 1 -34 1 151 1 -106 1 -9 1 -72 1 9 1 61 1 -139 1 90 1 4 1 -13 1 -10 1 4 1 57 1 -50 1 14 1 -19 1 -9 1 -128 1 137 1 -76 1 53 1 65 1 -9 1 -20 1 73 1 -136 1 -58 1 95 1 -40 1 0 1 -49 1 -25 1 75 1 -32 1 -21 1 41 1 -112 1 -50 1 55 1 -41 1 16 1 5 1 63 1 -71 1 -11 1 13 1 -59 1 141 1 -31 1 -87 1 58 1 -26 1 -11 1 32 1 -91 1 -34 1 5 1 34 1 40 1 7 1 -55 1 -93 1 104 1 -45 1 -59 1 111 1 -90 1 45 1 14 1 -53 1 10 1 53 1 0 1 -74 1 -50 1 143 1 -138 1 58 1 -3 1 -102 1 -30 1 52 1 -40 1 19 1 8 1 0 1 70 1 -42 1 -6 1 -59 1 79 1 -63 1 -30 1 -1 1 -13 1 -2 1 10 1 -82 1 48 1 28 1 5 1 -84 1 -48 1 100 1 -54 1 82 1 -16 1 -18 1 -51 1 -64 1 114 1 -6 1 58 1 -53 1 -69 1 11 1 -61 1 19 1 59 1 -52 1 -28 1 132 1 38 1 -130 1 -19 1 111 1 -75 1 48 1 -86 1 -50 1 30 1 -19 1 84 1 -14 1 -56 1 56 1 -39 1 -13 1 71 1 43 1 -136 1 54 1 -52 1 25 1 84 1 -74 1 25 1 -8 1 7 1 -23 1 -17 1 49 1 -64 1 -60 1 87 1 -68 1 67 1 20 1 13 1 -93 1 58 1 26 1 -71 1 49 1 -21 1 82 1 -45 1 -17 1 -38 1 5 1 7 1 40 1 -84 1 70 1 -7 1 52 1 -97 1 -2 1 1 1 67 1 -82 1 33 1 110 1 -96 1 26 1 -47 1 77 1 3 1 -35 1 -123 1 154 1 16 1 28 1 -17 1 47 1 6 1 -32 1 -35 1 4 1 -33 1 125 1 -66 1 -22 1 3 1 -6 1 134 1 -26 1 96 1 10 1 -56 1 12 1 -118 1 105 1 130 1 -84 1 -17 1 -41 1 2 1 43 1 -93 1 102 1 34 1 -111 1 51 1 152 1 -92 1 92 1 74 1 -255 1 184 1 -51 1 145 1 -61 1 41 1 -48 1 6 1 -32 1 -39 1 38 1 124 1 -38 1 -24 1 37 1 82 1 -115 1 -54 1 25 1 23 1 49 1 -24 1 35 1 72 1 -65 1 41 1 -68 1 58 1 -99 1 77 1 -1 1 1 1 64 1 -45 1 76 1 -80 1 52 1 -36 1 -50 1 13 1 48 1 -45 1 64 1 5 1 -16 1 28 1 -30 1 -50 1 19 1 -9 1 134 1 -80 1 -10 1 9 1 60 1 -63 1 -11 1 50 1 20 1 -56 1 59 1 -25 1 -56 1 -1 1 95 1 -24 1 23 1 28 1 -42 1 -30 1 -14 1 80 1 -21 1 4 1 -13 1 61 1 6 1 -1 1 -83 1 29 1 41 1 -31 1 31 1 11 1 81 1 -141 1 85 1 -23 1 -45 1 59 1 -28 1 33 1 1 1 -4 1 60 1 -42 1 44 1 -27 1 -32 1 2 1 42 1 32 1 -54 1 22 1 12 1 -10 1 18 1 -30 1 51 1 -31 1 -68 1 55 1 32 1 -55 1 72 1 0 1 2 1 -37 1 10 1 -34 1 119 1 -90 1 34 1 -36 1 73 1 8 1 -19 1 -32 1 86 1 -73 1 53 1 7 1 -25 1 -9 1 56 1 -30 1 6 1 21 1 12 1 -24 1 -38 1 53 1 -65 1 35 1 -55 1 57 1 27 1 -29 1 7 1 53 1 2 1 -55 1 45 1 -41 1 77 1 -48 1 15 1 0 1 9 1 -6 1 -69 1 27 1 47 1 -69 1 52 1 14 1 -44 1 39 1 7 1 17 1 -16 1 21 1 4 1 3 1 -9 1 23 1 -13 1 -45 1 1 1 18 1 26 1 -1 1 -20 1 -18 1 40 1 21 1 3 1 -26 1 -23 1 -22 1 102 1 -34 1 -31 1 50 1 -27 1 31 1 -23 1 -38 1 -23 1 71 1 -21 1 -31 1 11 1 0 1 3 1 18 1 21 1 -3 1 -33 1 17 1 -14 1 0 1 6 1 2 1 59 1 -26 1 -34 1 25 1 28 1 -28 1 39 1 -81 1 22 1 26 1 -21 1 28 1 -56 1 61 1 -53 1 29 1 1 1 22 1 -5 1 -25 1 23 1 2 1 -59 1 80 1 -12 1 16 1 26 1 -63 1 4 1 29 1 13 1 -50 1 31 1 -69 1 13 1 30 1 18 1 -19 1 62 1 -68 1 -21 1 84 1 -29 1 -35 1 20 1 16 1 -49 1 32 1 -20 1 38 1 -9 1 35 1 10 1 -20 1 -36 1 -22 1 69 1 -66 1 51 1 17 1 -45 1 2 1 27 1 -20 1 -8 1 -2 1 23 1 8 1 -102 1 70 1 38 1 -34 1 -8 1 -3 1 66 1 -34 1 -22 1 -12 1 -10 1 30 1 30 1 -81 1 89 1 -34 1 -31 1 36 1 -42 1 24 1 -6 1 -15 1 29 1 49 1 -69 1 9 1 13 1 -4 1 25 1 7 1 -40 1 43 1 -47 1 34 1 3 1 15 1 -14 1 -18 1 1 1 -3 1 -13 1 29 1 -12 1 18 1 -42 1 -5 1 14 1 -32 1 63 1 5 1 -18 1 -70 1 50 1 3 1 13 1 -29 1 16 1 -22 1 13 1 -21 1 94 1 -41 1 -11 1 42 1 -24 1 -45 1 13 1 -19 1 62 1 -64 1 53 1 -39 1 35 1 -43 1 23 1 17 1 -2 1 -14 1 -45 1 74 1 -52 1 20 1 -3 1 -9 1 -5 1 31 1 4 1 10 1 -42 1 -12 1 3 1 20 1 10 1 20 1 -31 1 24 1 8 1 3 1 15 1 -44 1 10 1 -40 1 45 1 -82 1 66 1 21 1 -34 1 32 1 -43 1 57 1 12 1 -103 1 50 1 5 1 28 1 3 1 -9 1 -18 1 1 1 56 1 -83 1 18 1 -13 1 67 1 -28 1 7 1 -13 1 50 1 -76 1 39 1 61 1 -91 1 43 1 -56 1 81 1 -37 1 27 1 -56 1 49 1 2 1 -14 1 2 1 -54 1 44 1 -1 1 -14 1 -2 1 1 1 16 1 -2 1 2 1 -12 1 2 1 -38 1 69 1 2 1 -35 1 -6 1 -22 1 12 1 4 1 -44 1 27 1 50 1 -33 1 35 1 -27 1 18 1 -1 1 12 1 -26 1 -10 1 -3 1 9 1 8 1 -12 1 -24 1 58 1 17 1 -36 1 4 1 -39 1 -3 1 -8 1 78 1 -64 1 -17 1 22 1 -24 1 15 1 29 1 -38 1 24 1 53 1 -60 1 48 1 -22 1 50 1 -38 1 -37 1 28 1 43 1 -20 1 -68 1 45 1 -27 1 -35 1 43 1 2 1 -41 1 107 1 -70 1 2 1 -10 1 5 1 24 1 18 1 -69 1 19 1 70 1 -23 1 -48 1 7 1 27 1 -3 1 -1 1 -17 1 20 1 -4 1 27 1 -65 1 59 1 -18 1 -6 1 9 1 26 1 -14 1 -11 1 52 1 -68 1 -63 1 90 1 0 1 -24 1 21 1 16 1 -30 1 14 1 -1 1 -37 1 15 1 -7 1 -23 1 22 1 -9 1 24 1 -23 1 -21 1 56 1 -21 1 38 1 -23 1 -5" stroke="#0000f5" stroke-width="4.60" fill="none" stroke-linejoin="round" stroke-linecap="round"/><path transform="translate(74.175,487.5) scale(0.31000,0.1)" vector-effect="non-scaling-stroke" d="M0 0l1 -61 1 75 1 -85 1 13 1 37 1 -18 1 17 1 -48 1 16 1 0 1 45 1 -50 1 37 1 -34 1 -22 1 49 1 18 1 -22 1 -47 1 72 1 -29 1 6 1 -43 1 54 1 -6 1 4 1 -24 1 31 1 -9 1 16 1 -41 1 11 1 -12 1 52 1 -67 1 17 1 -31 1 -5 1 57 1 -17 1 15 1 -17 1 -8 1 14 1 1 1 -51 1 85 1 -46 1 28 1 -6 1 -15 1 -12 1 36 1 -55 1 37 1 -7 1 19 1 -31 1 39 1 -18 1 -36 1 -6 1 57 1 11 1 -109 1 55 1 9 1 11 1 -8 1 10 1 -6 1 28 1 -38 1 5 1 11 1 2 1 1 1 -37 1 20 1 21 1 -40 1 11 1 7 1 -38 1 1 1 15 1 -20 1 -17 1 55 1 -11 1 27 1 -23 1 28 1 -42 1 34 1 -24 1 15 1 8 1 -39 1 65 1 -92 1 29 1 34 1 -21 1 8 1 -5 1 -37 1 19 1 31 1 9 1 -39 1 -15 1 66 1 -64 1 16 1 -13 1 -52 1 50 1 -19 1 25 1 -37 1 46 1 -4 1 -13 1 -4 1 3 1 47 1 -55 1 -7 1 -26 1 51 1 -30 1 -30 1 41 1 33 1 7 1 -20 1 -16 1 22 1 -45 1 50 1 -39 1 -11 1 42 1 -73 1 59 1 54 1 -73 1 -7 1 29 1 -27 1 -38 1 20 1 -1 1 -16 1 37 1 -40 1 40 1 15 1 -50 1 38 1 -4 1 -13 1 -5 1 64 1 -68 1 23 1 0 1 -55 1 62 1 -66 1 51 1 -46 1 -2 1 32 1 -40 1 113 1 -90 1 -4 1 -24 1 33 1 -15 1 8 1 -25 1 -14 1 49 1 -85 1 59 1 -47 1 68 1 -10 1 -54 1 36 1 -51 1 56 1 4 1 -27 1 -10 1 -43 1 97 1 -64 1 30 1 -17 1 22 1 -18 1 -41 1 -27 1 95 1 -34 1 -27 1 -35 1 98 1 -125 1 46 1 -38 1 23 1 31 1 31 1 -67 1 7 1 68 1 -63 1 36 1 -43 1 45 1 -13 1 2 1 -41 1 25 1 55 1 -63 1 -43 1 22 1 8 1 -57 1 89 1 -71 1 10 1 -44 1 32 1 13 1 14 1 -4 1 -54 1 -13 1 25 1 31 1 -61 1 -8 1 66 1 -26 1 -36 1 0 1 -18 1 -29 1 19 1 3 1 11 1 31 1 24 1 -29 1 -48 1 -20 1 -92 1 68 1 55 1 -69 1 88 1 -18 1 -15 1 -53 1 28 1 -18 1 -3 1 -5 1 -25 1 -47 1 63 1 -28 1 -33 1 6 1 41 1 -34 1 12 1 75 1 -54 1 17 1 -115 1 125 1 3 1 -88 1 9 1 35 1 24 1 100 1 -209 1 97 1 -56 1 76 1 -2 1 -32 1 -90 1 35 1 -98 1 154 1 -21 1 -1 1 -77 1 -1 1 94 1 -50 1 22 1 14 1 -89 1 47 1 -19 1 -40 1 -3 1 -44 1 52 1 24 1 27 1 -23 1 -39 1 25 1 72 1 -52 1 44 1 -150 1 57 1 91 1 -52 1 -38 1 8 1 27 1 95 1 -163 1 96 1 -95 1 9 1 66 1 -14 1 -20 1 7 1 13 1 -5 1 -84 1 17 1 104 1 -5 1 -56 1 -31 1 41 1 96 1 -178 1 135 1 -68 1 33 1 7 1 17 1 -10 1 -78 1 -53 1 82 1 -11 1 -11 1 -15 1 63 1 -65 1 50 1 13 1 118 1 -137 1 66 1 -88 1 4 1 72 1 -57 1 15 1 9 1 -50 1 9 1 43 1 52 1 -108 1 92 1 -34 1 -26 1 -32 1 10 1 41 1 -42 1 11 1 -70 1 76 1 14 1 53 1 -48 1 40 1 34 1 -45 1 -63 1 -9 1 47 1 56 1 -21 1 34 1 -72 1 -31 1 49 1 -1 1 10 1 27 1 -29 1 63 1 -40 1 -81 1 75 1 -27 1 -42 1 28 1 -14 1 42 1 -8 1 22 1 75 1 -71 1 -3 1 87 1 -131 1 28 1 80 1 -10 1 -34 1 25 1 -87 1 78 1 -21 1 80 1 -41 1 -33 1 36 1 96 1 -128 1 8 1 -18 1 -25 1 106 1 -12 1 73 1 -86 1 16 1 -24 1 -71 1 92 1 -7 1 24 1 -32 1 27 1 -32 1 -23 1 89 1 -94 1 151 1 -77 1 14 1 -34 1 -24 1 -60 1 61 1 9 1 25 1 43 1 -3 1 42 1 11 1 -49 1 -71 1 126 1 -98 1 51 1 -89 1 131 1 -87 1 107 1 -18 1 2 1 -59 1 -8 1 107 1 -42 1 45 1 -31 1 -35 1 -39 1 135 1 -55 1 6 1 -6 1 -9 1 -46 1 99 1 -47 1 33 1 30 1 -51 1 34 1 65 1 -85 1 -22 1 30 1 53 1 -53 1 38 1 -17 1 -20 1 36 1 42 1 -48 1 -7 1 65 1 -41 1 2 1 95 1 -65 1 14 1 -1 1 -56 1 53 1 0 1 5 1 3 1 -9 1 -4 1 -32 1 -2 1 69 1 -6 1 -8 1 17 1 -5 1 -49 1 24 1 16 1 -8 1 21 1 57 1 -47 1 12 1 -13 1 38 1 -40 1 20 1 16 1 -65 1 3 1 17 1 -20 1 70 1 -64 1 49 1 -18 1 30 1 -4 1 30 1 60 1 -73 1 -13 1 -9 1 6 1 -3 1 -3 1 10 1 28 1 -10 1 -30 1 35 1 -13 1 -5 1 17 1 2 1 -30 1 46 1 18 1 -44 1 73 1 -99 1 50 1 7 1 1 1 27 1 14 1 14 1 -63 1 31 1 37 1 -71 1 31 1 -46 1 25 1 -9 1 -12 1 47 1 -36 1 8 1 23 1 -50 1 0 1 18 1 31 1 1 1 -10 1 4 1 -28 1 25 1 5 1 0 1 15 1 -42 1 30 1 6 1 -39 1 54 1 21 1 -58 1 -7 1 4 1 45 1 -11 1 41 1 -39 1 -9 1 21 1 -30 1 8 1 13 1 -30 1 33 1 -12 1 -27 1 -15 1 88 1 -22 1 14 1 -31 1 6 1 -2 1 41 1 -44 1 30 1 9 1 -28 1 4 1 -18 1 31 1 -43 1 43 1 10 1 11 1 -32 1 -53 1 53 1 26 1 4 1 -29 1 31 1 -102 1 70 1 24 1 -33 1 35 1 -5 1 0 1 -2 1 -14 1 5 1 5 1 -39 1 89 1 -83 1 52 1 -53 1 20 1 46 1 -8 1 -23 1 29 1 -16 1 -58 1 54 1 -21 1 14 1 -8 1 -6 1 -25 1 -10 1 20 1 75 1 -31 1 -58 1 23 1 4 1 -12 1 40 1 6 1 -4 1 -19 1 -6 1 -19 1 13 1 20 1 -28 1 40 1 -27 1 14 1 -3 1 13 1 -19 1 34 1 -14 1 -21 1 -10 1 43 1 -50 1 4 1 3 1 0 1 -4 1 26 1 38 1 -17 1 -47 1 32 1 -43 1 11 1 35 1 -44 1 94 1 -87 1 14 1 19 1 12 1 4 1 3 1 -28 1 10 1 16 1 -3 1 -38 1 19 1 14 1 -42 1 16 1 28 1 -35 1 36 1 -13 1 -22 1 1 1 33 1 -50 1 18 1 0 1 13 1 12 1 -2 1 -45 1 28 1 24 1 -9 1 26 1 -19 1 45 1 -11 1 -22 1 -75 1 56 1 -14 1 24 1 -62 1 33 1 30 1 -3 1 -10 1 26 1 -20 1 -17 1 48 1 -67 1 0 1 27 1 -13 1 10 1 20 1 -35 1 15 1 15 1 25 1 -21 1 -39 1 9 1 28 1 -44 1 40 1 -5 1 2 1 32 1 -44 1 -14 1 27 1 -64 1 91 1 -37 1 13 1 -22 1 12 1 -9 1 31 1 -29 1 -8 1 22 1 38 1 0 1 -14 1 -26 1 35 1 -32 1 -4 1 29 1 -45 1 45 1 -35 1 -39 1 83 1 -34 1 -35 1 32 1 22 1 -18 1 33 1 -27 1 -12 1 18 1 -10 1 41 1 -78 1 45 1 -16 1 8 1 -1 1 -13 1 -2 1 18 1 14 1 -51 1 70 1 -59 1 47 1 -18 1 -22 1 10 1 10 1 -24 1 11 1 19 1 -5 1 21 1 -30 1 -51 1 41 1 -5 1 24 1 32 1 -30 1 -18 1 29 1 7 1 -28 1 -17 1 35 1 -63 1 58 1 -9 1 26 1 -52 1 67 1 -40 1 -12 1 -9 1 1 1 41 1 -41 1 24 1 43 1 -103 1 41 1 -6 1 -9 1 26 1 14 1 -28 1 -12 1 -8 1 63 1 -55 1 65 1 -55 1 29 1 -32 1 -4 1 8 1 -9 1 2 1 15 1 -31 1 37 1 13 1 -20 1 24 1 -18 1 0 1 -43 1 -4 1 80 1 -12 1 -42 1 12 1 -37 1 21 1 27 1 -71 1 105 1 -50 1 -18 1 13 1 36 1 12 1 -51 1 28 1 -4 1 -12 1 12 1 -42 1 5 1 72 1 -52 1 17 1 34 1 -42 1 3 1 23 1 -29 1 -26 1 54 1 9 1 -12 1 -26 1 -29 1 56 1 5 1 -1 1 -5 1 -61 1 23 1 84 1 -48 1 -14 1 21 1 -9 1 0 1 -18 1 -32 1 114 1 -82 1 -33 1 31 1 11 1 -17 1 -11 1 0 1 12 1 47 1 -45 1 -13 1 47 1 34 1 -66 1 -18 1 60 1 -54 1 45 1 -18" stroke="#0a6cff" stroke-width="4.60" fill="none" stroke-linejoin="round" stroke-linecap="round"/><path transform="translate(74.175,485.8) scale(0.31000,0.1)" vector-effect="non-scaling-stroke" d="M0 0l1 12 1 -16 1 27 1 -45 1 19 1 -26 1 18 1 11 1 2 1 -31 1 34 1 -20 1 -39 1 6 1 29 1 -5 1 -7 1 1 1 21 1 11 1 19 1 -70 1 1 1 -11 1 42 1 -24 1 -3 1 9 1 -21 1 30 1 24 1 -64 1 74 1 -46 1 27 1 -34 1 45 1 -16 1 13 1 -45 1 41 1 19 1 -9 1 -23 1 0 1 25 1 -70 1 91 1 -40 1 9 1 -4 1 -10 1 32 1 -14 1 -10 1 13 1 -39 1 39 1 -60 1 67 1 -78 1 54 1 -66 1 51 1 1 1 -14 1 104 1 -58 1 -12 1 19 1 -53 1 -57 1 138 1 -45 1 -27 1 22 1 -39 1 28 1 -26 1 -18 1 33 1 -13 1 25 1 16 1 -39 1 9 1 8 1 7 1 2 1 -25 1 14 1 34 1 -35 1 -37 1 6 1 30 1 -9 1 12 1 -65 1 37 1 26 1 -35 1 34 1 6 1 22 1 -15 1 -10 1 -2 1 6 1 -21 1 23 1 -66 1 50 1 25 1 -42 1 6 1 2 1 13 1 -51 1 53 1 -44 1 23 1 -22 1 22 1 -58 1 69 1 -18 1 13 1 -11 1 21 1 -10 1 16 1 -8 1 -33 1 -1 1 -1 1 10 1 21 1 -29 1 31 1 6 1 -62 1 18 1 16 1 -63 1 59 1 -41 1 54 1 9 1 -5 1 -53 1 7 1 20 1 29 1 -13 1 -45 1 4 1 35 1 -14 1 -73 1 82 1 15 1 -37 1 -11 1 -25 1 32 1 38 1 -36 1 -36 1 37 1 -34 1 68 1 -58 1 18 1 30 1 -47 1 -28 1 42 1 1 1 -30 1 -8 1 -9 1 32 1 13 1 -59 1 24 1 -33 1 47 1 -9 1 12 1 3 1 -113 1 98 1 17 1 -11 1 -14 1 30 1 22 1 -25 1 -13 1 -20 1 -11 1 88 1 -54 1 4 1 -93 1 27 1 43 1 7 1 -22 1 53 1 -97 1 23 1 1 1 5 1 23 1 -22 1 15 1 -30 1 42 1 -26 1 1 1 -1 1 -33 1 14 1 26 1 -40 1 -13 1 16 1 -6 1 7 1 -69 1 48 1 45 1 -68 1 -23 1 43 1 48 1 12 1 -15 1 -101 1 83 1 10 1 -39 1 -13 1 33 1 -2 1 -47 1 -32 1 28 1 21 1 -1 1 -26 1 53 1 -63 1 -39 1 77 1 -13 1 -37 1 33 1 -50 1 0 1 5 1 33 1 -11 1 -14 1 68 1 -37 1 -2 1 -48 1 -32 1 51 1 -14 1 12 1 23 1 17 1 -46 1 -57 1 97 1 -84 1 79 1 -63 1 27 1 19 1 13 1 -27 1 -44 1 40 1 -28 1 24 1 22 1 -9 1 3 1 -33 1 52 1 -116 1 70 1 -15 1 -52 1 59 1 -52 1 53 1 7 1 7 1 -106 1 135 1 -84 1 -74 1 112 1 -77 1 19 1 0 1 6 1 41 1 4 1 -53 1 -5 1 37 1 -56 1 4 1 13 1 19 1 -39 1 18 1 -70 1 65 1 -4 1 60 1 -59 1 -46 1 36 1 -22 1 50 1 6 1 -22 1 48 1 -38 1 -105 1 102 1 5 1 -68 1 40 1 40 1 -31 1 2 1 26 1 -37 1 0 1 20 1 -6 1 -66 1 -13 1 56 1 100 1 -92 1 55 1 -28 1 32 1 -129 1 67 1 -55 1 138 1 -149 1 56 1 -29 1 49 1 6 1 68 1 -75 1 70 1 -65 1 39 1 -42 1 -95 1 58 1 7 1 -1 1 25 1 25 1 -67 1 24 1 56 1 -99 1 -12 1 72 1 -43 1 41 1 -36 1 56 1 5 1 -59 1 -27 1 37 1 -7 1 -14 1 17 1 -103 1 77 1 62 1 -2 1 -12 1 -13 1 48 1 -39 1 34 1 -7 1 -70 1 35 1 16 1 -31 1 7 1 -25 1 25 1 69 1 -39 1 59 1 -120 1 59 1 21 1 -13 1 41 1 -42 1 -49 1 74 1 -18 1 1 1 -24 1 -15 1 126 1 -66 1 27 1 0 1 -67 1 -26 1 74 1 -48 1 83 1 -37 1 -25 1 59 1 -56 1 -4 1 33 1 12 1 -37 1 -18 1 22 1 -16 1 16 1 7 1 26 1 -26 1 16 1 -70 1 31 1 75 1 26 1 -11 1 -41 1 29 1 15 1 -7 1 -15 1 41 1 2 1 -80 1 50 1 -31 1 -20 1 60 1 -19 1 -80 1 40 1 2 1 111 1 -31 1 -41 1 49 1 -5 1 -82 1 132 1 -33 1 -4 1 -128 1 96 1 42 1 5 1 -12 1 -69 1 63 1 -18 1 34 1 -72 1 -33 1 76 1 19 1 25 1 -46 1 43 1 -77 1 22 1 71 1 -5 1 31 1 -72 1 -23 1 35 1 26 1 -31 1 31 1 -13 1 60 1 -54 1 -3 1 41 1 -51 1 -10 1 0 1 162 1 -190 1 82 1 -3 1 39 1 -13 1 -16 1 -37 1 78 1 -67 1 -2 1 42 1 -13 1 -16 1 82 1 -40 1 0 1 -12 1 -93 1 124 1 -76 1 77 1 -24 1 -2 1 69 1 -115 1 52 1 5 1 -51 1 60 1 -42 1 101 1 -82 1 11 1 15 1 12 1 -51 1 66 1 -43 1 29 1 54 1 -64 1 13 1 27 1 -8 1 -14 1 -12 1 -12 1 75 1 -41 1 35 1 -45 1 3 1 42 1 -25 1 62 1 -55 1 55 1 -51 1 -23 1 -2 1 -10 1 33 1 -15 1 27 1 -31 1 30 1 -54 1 50 1 -18 1 19 1 -31 1 54 1 -22 1 29 1 -61 1 49 1 11 1 21 1 -18 1 11 1 7 1 -61 1 67 1 -9 1 -23 1 -73 1 128 1 -79 1 30 1 -19 1 14 1 -19 1 -1 1 31 1 54 1 -24 1 -30 1 -15 1 0 1 48 1 -32 1 17 1 -22 1 -2 1 30 1 -44 1 54 1 -79 1 59 1 -18 1 15 1 -22 1 50 1 13 1 -57 1 76 1 -12 1 -69 1 14 1 -2 1 45 1 64 1 -43 1 -17 1 -101 1 117 1 -44 1 7 1 -41 1 22 1 12 1 -30 1 43 1 -25 1 1 1 48 1 -19 1 8 1 -8 1 -10 1 22 1 -17 1 21 1 -10 1 -34 1 27 1 -9 1 23 1 28 1 -6 1 -53 1 -49 1 21 1 54 1 -9 1 4 1 -6 1 2 1 24 1 -38 1 -41 1 81 1 -13 1 -25 1 37 1 -24 1 12 1 30 1 -81 1 88 1 -62 1 8 1 -3 1 7 1 -37 1 15 1 30 1 -13 1 -21 1 -14 1 66 1 -20 1 33 1 -21 1 -12 1 21 1 -19 1 -26 1 29 1 5 1 36 1 -45 1 13 1 -36 1 57 1 -37 1 19 1 -36 1 18 1 38 1 -11 1 -70 1 23 1 20 1 13 1 -2 1 11 1 0 1 -13 1 -11 1 53 1 -2 1 -43 1 13 1 5 1 -42 1 15 1 27 1 12 1 -34 1 -7 1 77 1 -74 1 -32 1 33 1 -13 1 44 1 -28 1 -6 1 -28 1 50 1 -4 1 -48 1 61 1 -24 1 8 1 27 1 -42 1 20 1 0 1 -46 1 101 1 -66 1 8 1 -9 1 13 1 9 1 -16 1 -11 1 -5 1 29 1 -25 1 16 1 13 1 -33 1 8 1 -9 1 23 1 32 1 -61 1 25 1 21 1 8 1 -46 1 9 1 -16 1 21 1 20 1 -5 1 -24 1 37 1 -21 1 8 1 -2 1 -87 1 126 1 -57 1 34 1 -78 1 59 1 -2 1 -16 1 -5 1 19 1 -34 1 30 1 -25 1 35 1 14 1 -11 1 9 1 18 1 -20 1 10 1 -43 1 -24 1 64 1 -29 1 25 1 -46 1 -9 1 47 1 -31 1 61 1 -53 1 -13 1 15 1 -10 1 -12 1 -30 1 56 1 3 1 -18 1 36 1 -40 1 44 1 -25 1 23 1 9 1 -30 1 24 1 6 1 -22 1 17 1 -29 1 -7 1 2 1 -35 1 47 1 7 1 -14 1 19 1 20 1 -46 1 33 1 1 1 -12 1 -11 1 14 1 43 1 -56 1 -5 1 -3 1 -34 1 66 1 -69 1 36 1 27 1 -62 1 50 1 -31 1 53 1 -55 1 4 1 30 1 -44 1 70 1 -88 1 90 1 -43 1 8 1 80 1 -87 1 17 1 17 1 -9 1 23 1 -65 1 53 1 -19 1 -43 1 -11 1 83 1 -47 1 -25 1 7 1 58 1 -19 1 -18 1 -17 1 3 1 54 1 -51 1 -11 1 -10 1 25 1 34 1 -30 1 1 1 39 1 1 1 -48 1 -17 1 31 1 -3 1 21 1 -8 1 -22 1 -6 1 22 1 53 1 -57 1 37 1 12 1 -31 1 -55 1 77 1 -40 1 -4 1 -28 1 51 1 -17 1 27 1 -9 1 -32 1 -12 1 76 1 2 1 -36 1 -42 1 48 1 -48 1 32 1 10 1 -32 1 15 1 -6 1 60 1 -56 1 1 1 -80 1 86 1 -7 1 -25 1 2 1 12 1 -15 1 79 1 -44 1 9 1 -17 1 45 1 -60 1 27 1 -25 1 15 1 -10 1 -18 1 47 1 20 1 -37 1 17 1 -15 1 12 1 40 1 -30 1 -5 1 -28 1 -10 1 -17 1 28 1 -42 1 7 1 50 1 0 1 18 1 -26 1 7 1 -21 1 -33 1 -11 1 40 1 39" stroke="#08d0ff" stroke-width="4.60" fill="none" stroke-linejoin="round" stroke-linecap="round"/><path transform="translate(74.175,485.9) scale(0.31000,0.1)" vector-effect="non-scaling-stroke" d="M0 0l1 -21 1 -52 1 30 1 9 1 21 1 45 1 -72 1 21 1 -21 1 58 1 -37 1 -20 1 -12 1 43 1 29 1 -39 1 -5 1 -19 1 14 1 -19 1 26 1 25 1 -42 1 18 1 -5 1 -20 1 6 1 17 1 -20 1 -17 1 29 1 39 1 -46 1 8 1 -7 1 81 1 -22 1 -19 1 -19 1 9 1 0 1 0 1 -7 1 8 1 6 1 -26 1 -8 1 14 1 16 1 -18 1 -53 1 46 1 17 1 -24 1 34 1 -11 1 -48 1 -6 1 38 1 12 1 -48 1 26 1 -22 1 63 1 -20 1 5 1 27 1 23 1 -89 1 21 1 2 1 -6 1 3 1 -14 1 30 1 -63 1 35 1 21 1 17 1 -40 1 -22 1 44 1 -8 1 21 1 3 1 -92 1 69 1 -13 1 -41 1 32 1 -20 1 75 1 -87 1 35 1 -29 1 41 1 -4 1 -23 1 8 1 5 1 -26 1 21 1 2 1 -7 1 25 1 -13 1 -45 1 46 1 4 1 8 1 3 1 -3 1 -48 1 -7 1 65 1 -47 1 -3 1 -10 1 26 1 -37 1 1 1 90 1 -122 1 50 1 -15 1 -15 1 18 1 44 1 -45 1 -12 1 34 1 1 1 84 1 -89 1 -7 1 37 1 -1 1 -29 1 27 1 -53 1 59 1 -45 1 35 1 -36 1 33 1 -26 1 -2 1 43 1 -50 1 6 1 1 1 12 1 -42 1 36 1 -19 1 13 1 13 1 0 1 -23 1 4 1 5 1 -13 1 -4 1 60 1 -33 1 -14 1 -22 1 31 1 6 1 -26 1 6 1 -50 1 45 1 -56 1 26 1 81 1 -62 1 -13 1 -3 1 -30 1 58 1 -7 1 15 1 -41 1 45 1 -15 1 10 1 -26 1 29 1 -78 1 62 1 13 1 -50 1 -22 1 75 1 -40 1 5 1 43 1 -16 1 -59 1 34 1 -5 1 19 1 -15 1 -4 1 -51 1 32 1 -14 1 22 1 35 1 -117 1 95 1 -17 1 22 1 -25 1 30 1 -56 1 -23 1 54 1 -14 1 -15 1 14 1 -24 1 -13 1 83 1 -105 1 72 1 -19 1 29 1 -80 1 45 1 -29 1 18 1 -4 1 -12 1 -8 1 -22 1 70 1 8 1 -75 1 13 1 24 1 -57 1 91 1 18 1 -55 1 2 1 22 1 16 1 -13 1 -39 1 1 1 -4 1 18 1 -50 1 49 1 -4 1 30 1 -77 1 65 1 13 1 -74 1 49 1 -52 1 25 1 17 1 -45 1 46 1 -94 1 110 1 -18 1 24 1 -91 1 65 1 -24 1 -28 1 85 1 -57 1 -21 1 0 1 26 1 -14 1 65 1 -39 1 -7 1 -31 1 50 1 -35 1 58 1 -59 1 -55 1 30 1 3 1 54 1 -5 1 -64 1 13 1 -87 1 62 1 7 1 12 1 -18 1 7 1 59 1 -64 1 5 1 37 1 -15 1 5 1 -8 1 -15 1 41 1 -34 1 45 1 -89 1 35 1 -17 1 44 1 -40 1 79 1 -65 1 7 1 4 1 26 1 -103 1 53 1 -2 1 19 1 -86 1 68 1 34 1 -68 1 -6 1 89 1 -100 1 53 1 -47 1 69 1 -67 1 81 1 -2 1 -26 1 7 1 24 1 -22 1 8 1 -4 1 -12 1 -3 1 -54 1 65 1 -54 1 0 1 -7 1 32 1 22 1 20 1 -78 1 36 1 15 1 36 1 -75 1 0 1 15 1 52 1 -68 1 -2 1 75 1 -74 1 -11 1 35 1 33 1 -92 1 97 1 -59 1 -15 1 19 1 103 1 -70 1 -9 1 17 1 -68 1 48 1 -60 1 43 1 105 1 -47 1 -102 1 120 1 -100 1 15 1 -32 1 20 1 39 1 -21 1 6 1 -12 1 65 1 -57 1 -63 1 76 1 3 1 -20 1 -23 1 74 1 4 1 -63 1 23 1 9 1 -8 1 62 1 -35 1 -29 1 -29 1 36 1 -22 1 7 1 41 1 22 1 -75 1 57 1 19 1 -28 1 56 1 -35 1 6 1 -79 1 48 1 -3 1 -22 1 -3 1 -26 1 45 1 -24 1 54 1 -3 1 -26 1 21 1 -16 1 27 1 -39 1 18 1 16 1 -9 1 0 1 -17 1 -19 1 70 1 -76 1 47 1 11 1 -25 1 -26 1 62 1 -15 1 40 1 -68 1 13 1 -10 1 30 1 -19 1 77 1 -69 1 -56 1 97 1 -49 1 111 1 -79 1 8 1 -37 1 68 1 -12 1 -4 1 -31 1 -18 1 36 1 1 1 3 1 -57 1 52 1 -22 1 31 1 -8 1 9 1 -13 1 32 1 -10 1 -10 1 -2 1 -34 1 41 1 -25 1 -38 1 46 1 25 1 18 1 -98 1 128 1 -72 1 30 1 -43 1 15 1 27 1 16 1 8 1 -24 1 26 1 -71 1 68 1 -66 1 51 1 -52 1 48 1 22 1 -37 1 6 1 -30 1 82 1 -38 1 -51 1 6 1 73 1 -47 1 -12 1 -2 1 10 1 35 1 25 1 -19 1 34 1 -61 1 16 1 2 1 -41 1 32 1 40 1 19 1 -4 1 -38 1 17 1 -13 1 26 1 -55 1 104 1 -42 1 -86 1 38 1 -7 1 19 1 -5 1 36 1 11 1 -61 1 72 1 -67 1 99 1 -48 1 -8 1 23 1 16 1 -37 1 -17 1 47 1 -38 1 42 1 -11 1 -16 1 -62 1 46 1 41 1 -31 1 51 1 -25 1 -48 1 27 1 -17 1 17 1 64 1 -42 1 -34 1 38 1 -35 1 14 1 24 1 31 1 -95 1 75 1 -41 1 52 1 -48 1 69 1 -56 1 33 1 2 1 -29 1 -2 1 -33 1 43 1 -24 1 60 1 -24 1 -29 1 -14 1 18 1 1 1 47 1 -42 1 2 1 43 1 10 1 -14 1 -18 1 -1 1 40 1 -7 1 9 1 -46 1 -36 1 -40 1 70 1 25 1 -14 1 -6 1 26 1 -10 1 26 1 -58 1 52 1 -26 1 -15 1 57 1 -4 1 -29 1 -5 1 29 1 -39 1 -11 1 20 1 25 1 -45 1 48 1 0 1 -47 1 23 1 51 1 -41 1 -59 1 90 1 -41 1 82 1 -42 1 -28 1 -15 1 -47 1 49 1 20 1 -49 1 51 1 -8 1 -16 1 9 1 35 1 -55 1 41 1 -7 1 -6 1 30 1 -20 1 -11 1 -34 1 53 1 -4 1 -35 1 33 1 12 1 -17 1 31 1 -12 1 -8 1 15 1 -7 1 -43 1 82 1 -43 1 3 1 -37 1 21 1 -4 1 -11 1 8 1 44 1 -6 1 -26 1 -17 1 29 1 2 1 -20 1 -20 1 31 1 -22 1 -11 1 16 1 10 1 -4 1 15 1 -69 1 73 1 13 1 -12 1 -1 1 7 1 -56 1 14 1 60 1 -23 1 -1 1 59 1 -52 1 -11 1 0 1 19 1 -29 1 73 1 -41 1 -59 1 69 1 -18 1 -63 1 65 1 13 1 -58 1 9 1 -12 1 35 1 1 1 53 1 -39 1 -51 1 21 1 30 1 -2 1 -57 1 41 1 11 1 -23 1 5 1 22 1 35 1 -70 1 28 1 42 1 -96 1 31 1 54 1 -47 1 32 1 -6 1 2 1 -6 1 5 1 -71 1 24 1 82 1 -71 1 35 1 6 1 -2 1 -31 1 48 1 -53 1 25 1 -39 1 36 1 -23 1 105 1 -80 1 -1 1 25 1 -41 1 -27 1 77 1 1 1 -48 1 26 1 -56 1 41 1 -20 1 63 1 -41 1 10 1 -22 1 -9 1 38 1 13 1 8 1 -65 1 53 1 -45 1 33 1 -16 1 17 1 -14 1 28 1 5 1 -62 1 21 1 49 1 -21 1 -12 1 11 1 -27 1 -11 1 8 1 53 1 17 1 -54 1 -6 1 -1 1 15 1 16 1 -11 1 3 1 -37 1 22 1 -6 1 15 1 -30 1 -8 1 43 1 4 1 -13 1 -7 1 -17 1 25 1 -3 1 -54 1 16 1 -38 1 90 1 -22 1 13 1 -6 1 32 1 3 1 -35 1 6 1 5 1 -12 1 31 1 -11 1 -28 1 4 1 18 1 -99 1 39 1 38 1 30 1 23 1 -26 1 -34 1 38 1 -47 1 21 1 7 1 5 1 -9 1 43 1 -19 1 -39 1 29 1 6 1 4 1 -47 1 9 1 31 1 -58 1 39 1 -18 1 18 1 -3 1 14 1 9 1 -3 1 -5 1 7 1 -26 1 40 1 -30 1 32 1 -93 1 67 1 -4 1 -31 1 35 1 10 1 -23 1 -17 1 4 1 -5 1 26 1 -25 1 39 1 -34 1 1 1 -35 1 71 1 -63 1 25 1 22 1 -4 1 -37 1 57 1 -30 1 -40 1 82 1 -10 1 7 1 -38 1 56 1 -94 1 35 1 -23 1 38 1 1 1 27 1 -38 1 9 1 -9 1 53 1 -26 1 -23 1 6 1 5 1 -9 1 39 1 -47 1 27 1 -51 1 33 1 -25 1 30 1 -11 1 18 1 1 1 15 1 -24 1 -28 1 16 1 26 1 -10 1 -3 1 31 1 -27 1 10 1 -81 1 75 1 -30 1 33 1 -2 1 -10 1 2 1 33 1 -4 1 -52 1 44 1 -51 1 45 1 -18 1 33 1 -26 1 45 1 -83 1 -14 1 33 1 38 1 -38 1 32 1 9 1 -41 1 3 1 43 1 -57 1 10 1 34 1 -22 1 25 1 -33 1 -18 1 -8 1 28 1 26 1 -11" stroke="#48fca8" stroke-width="4.60" fill="none" stroke-linejoin="round" stroke-linecap="round"/><path transform="translate(74.175,484.8) scale(0.31000,0.1)" vector-effect="non-scaling-stroke" d="M0 0l1 -23 1 -7 1 51 1 -34 1 -13 1 20 1 -15 1 -4 1 -16 1 14 1 -1 1 -16 1 29 1 -39 1 73 1 -38 1 1 1 -2 1 24 1 -27 1 34 1 -13 1 13 1 -43 1 16 1 28 1 14 1 -34 1 -6 1 -48 1 23 1 64 1 -68 1 14 1 -42 1 27 1 -6 1 48 1 10 1 -35 1 -4 1 -11 1 77 1 -39 1 24 1 -60 1 9 1 -11 1 24 1 52 1 -55 1 -6 1 20 1 -22 1 13 1 -17 1 34 1 16 1 -59 1 -47 1 104 1 -10 1 -33 1 17 1 -39 1 30 1 -22 1 44 1 -10 1 -18 1 18 1 36 1 -73 1 -28 1 68 1 20 1 -85 1 46 1 -27 1 22 1 -32 1 53 1 -70 1 74 1 -44 1 -2 1 54 1 -49 1 27 1 -24 1 -5 1 71 1 -78 1 58 1 -56 1 -6 1 48 1 24 1 -57 1 -13 1 44 1 -12 1 -16 1 -27 1 58 1 -15 1 0 1 21 1 -16 1 -21 1 -2 1 -35 1 23 1 39 1 -15 1 3 1 75 1 -104 1 2 1 24 1 -51 1 56 1 5 1 8 1 -39 1 -26 1 8 1 66 1 -51 1 68 1 -56 1 52 1 -60 1 -5 1 -31 1 53 1 -33 1 28 1 -7 1 40 1 6 1 -100 1 83 1 -22 1 -10 1 13 1 -20 1 -20 1 7 1 -15 1 -56 1 82 1 -18 1 6 1 23 1 -34 1 39 1 21 1 -48 1 -28 1 76 1 -55 1 -1 1 39 1 2 1 53 1 -66 1 -34 1 -9 1 -31 1 49 1 22 1 -42 1 3 1 89 1 -67 1 20 1 -71 1 42 1 -10 1 39 1 -16 1 47 1 -40 1 -63 1 41 1 27 1 10 1 -53 1 20 1 12 1 8 1 -38 1 72 1 -34 1 -2 1 4 1 -45 1 -3 1 46 1 -39 1 31 1 11 1 -5 1 -3 1 -25 1 18 1 18 1 19 1 -56 1 -20 1 51 1 -39 1 -23 1 53 1 -50 1 42 1 2 1 17 1 -13 1 -5 1 -73 1 85 1 -32 1 8 1 5 1 10 1 -9 1 16 1 12 1 -21 1 -56 1 37 1 21 1 -58 1 35 1 2 1 13 1 -41 1 40 1 19 1 29 1 -33 1 -35 1 16 1 16 1 -34 1 11 1 23 1 -26 1 -4 1 30 1 -42 1 -55 1 73 1 -40 1 27 1 18 1 -29 1 -7 1 -11 1 -8 1 -6 1 52 1 9 1 -50 1 80 1 -69 1 1 1 8 1 58 1 -24 1 28 1 -80 1 48 1 -12 1 -26 1 -14 1 50 1 -10 1 -17 1 -19 1 2 1 -28 1 62 1 18 1 -3 1 -41 1 5 1 -22 1 50 1 28 1 -28 1 -8 1 -45 1 37 1 -27 1 7 1 14 1 -3 1 33 1 -55 1 -23 1 29 1 41 1 -17 1 19 1 -43 1 33 1 -31 1 -28 1 52 1 68 1 -120 1 34 1 -4 1 -78 1 109 1 -31 1 30 1 -40 1 -37 1 60 1 -26 1 27 1 10 1 -58 1 50 1 8 1 -39 1 -8 1 3 1 55 1 5 1 -62 1 -31 1 80 1 -36 1 10 1 -14 1 -39 1 58 1 -21 1 2 1 21 1 -35 1 -2 1 20 1 -27 1 52 1 -17 1 17 1 -37 1 12 1 -25 1 -5 1 9 1 5 1 0 1 -32 1 99 1 -72 1 19 1 40 1 -25 1 15 1 -34 1 -8 1 9 1 37 1 -11 1 -18 1 18 1 9 1 20 1 -43 1 -31 1 35 1 -16 1 45 1 -20 1 -66 1 86 1 -108 1 84 1 33 1 -46 1 -4 1 -16 1 -11 1 39 1 -26 1 -2 1 -9 1 -25 1 26 1 22 1 -4 1 -15 1 61 1 -63 1 28 1 15 1 -50 1 2 1 65 1 -24 1 8 1 38 1 -79 1 21 1 51 1 -70 1 -23 1 60 1 -4 1 -14 1 -42 1 71 1 -45 1 -13 1 30 1 3 1 20 1 -4 1 -10 1 27 1 -43 1 -58 1 47 1 45 1 -17 1 4 1 36 1 -107 1 135 1 -58 1 -7 1 21 1 -60 1 56 1 8 1 -41 1 12 1 62 1 -44 1 -9 1 -77 1 66 1 -81 1 108 1 1 1 -45 1 -24 1 102 1 -62 1 46 1 -54 1 41 1 -37 1 14 1 26 1 -74 1 22 1 49 1 13 1 -18 1 12 1 -13 1 -54 1 81 1 -57 1 -16 1 48 1 -42 1 -6 1 -44 1 93 1 -23 1 24 1 19 1 -62 1 -10 1 69 1 -9 1 35 1 -56 1 -22 1 40 1 -22 1 16 1 20 1 -12 1 -54 1 -2 1 50 1 10 1 33 1 -78 1 -2 1 54 1 -29 1 -3 1 0 1 -44 1 63 1 -40 1 -7 1 9 1 27 1 -13 1 15 1 -43 1 0 1 70 1 -34 1 16 1 12 1 13 1 -108 1 63 1 31 1 -32 1 26 1 -34 1 28 1 46 1 -64 1 2 1 66 1 -67 1 5 1 9 1 12 1 -59 1 47 1 69 1 -61 1 -2 1 2 1 -18 1 28 1 6 1 32 1 -52 1 -26 1 39 1 18 1 -3 1 -17 1 44 1 -37 1 55 1 -35 1 -50 1 9 1 21 1 -15 1 2 1 55 1 -24 1 -67 1 56 1 -10 1 23 1 -3 1 -19 1 15 1 1 1 -68 1 82 1 -117 1 57 1 116 1 -71 1 -59 1 48 1 37 1 -35 1 -11 1 32 1 29 1 -65 1 34 1 -44 1 12 1 16 1 45 1 -42 1 11 1 -73 1 87 1 -12 1 13 1 -13 1 9 1 -48 1 -14 1 55 1 -5 1 -13 1 86 1 -90 1 50 1 0 1 -37 1 54 1 -36 1 -6 1 -10 1 -29 1 57 1 -26 1 -11 1 14 1 8 1 24 1 51 1 -59 1 -34 1 44 1 -32 1 -54 1 37 1 21 1 -10 1 26 1 -46 1 33 1 1 1 65 1 -45 1 7 1 -19 1 39 1 -73 1 -8 1 32 1 -29 1 36 1 19 1 20 1 -53 1 15 1 -18 1 25 1 23 1 -2 1 -28 1 -11 1 5 1 15 1 -41 1 33 1 17 1 3 1 -3 1 -19 1 10 1 -8 1 21 1 -33 1 -3 1 -3 1 7 1 39 1 -25 1 24 1 -39 1 16 1 4 1 4 1 25 1 -32 1 -67 1 64 1 32 1 -38 1 21 1 -6 1 4 1 6 1 -38 1 61 1 -20 1 -36 1 -5 1 23 1 -35 1 -11 1 111 1 -17 1 -35 1 35 1 -62 1 19 1 23 1 -25 1 -10 1 -16 1 71 1 -77 1 54 1 7 1 -38 1 15 1 32 1 -24 1 17 1 -38 1 -42 1 84 1 -67 1 45 1 24 1 -78 1 46 1 -4 1 27 1 -52 1 45 1 -11 1 -13 1 -23 1 20 1 8 1 10 1 20 1 -47 1 -10 1 21 1 -5 1 22 1 -5 1 37 1 -66 1 -22 1 86 1 2 1 -42 1 -13 1 50 1 -33 1 5 1 18 1 -11 1 -6 1 12 1 -40 1 12 1 66 1 -69 1 53 1 14 1 -74 1 36 1 -8 1 -11 1 44 1 -79 1 73 1 -89 1 53 1 -1 1 13 1 3 1 21 1 -19 1 11 1 -24 1 32 1 -40 1 38 1 -11 1 -36 1 29 1 -30 1 23 1 40 1 -6 1 -4 1 27 1 -52 1 -26 1 -1 1 63 1 -27 1 4 1 36 1 6 1 -49 1 -11 1 16 1 30 1 -76 1 32 1 4 1 23 1 2 1 -79 1 -1 1 35 1 41 1 30 1 -44 1 14 1 -19 1 -18 1 41 1 -22 1 4 1 -1 1 46 1 -22 1 -18 1 9 1 -35 1 -10 1 33 1 -65 1 36 1 0 1 31 1 -1 1 -17 1 42 1 -35 1 35 1 -21 1 -45 1 35 1 4 1 -23 1 55 1 -48 1 13 1 5 1 -9 1 -4 1 -2 1 60 1 -31 1 -40 1 52 1 -66 1 40 1 24 1 -112 1 63 1 -6 1 44 1 -25 1 41 1 -37 1 -2 1 -23 1 23 1 -21 1 5 1 -36 1 33 1 33 1 -27 1 49 1 -27 1 -21 1 0 1 16 1 24 1 -28 1 54 1 -77 1 9 1 50 1 -36 1 2 1 11 1 -33 1 23 1 49 1 8 1 -97 1 40 1 29 1 6 1 -81 1 27 1 66 1 -29 1 -6 1 -25 1 31 1 -28 1 16 1 30 1 -39 1 1 1 18 1 21 1 -23 1 34 1 -17 1 -26 1 21 1 -24 1 27 1 -63 1 17 1 16 1 8 1 26 1 -23 1 -13 1 57 1 -74 1 23 1 21 1 -31 1 -17 1 33 1 -18 1 -3 1 21 1 6 1 -32 1 -12 1 33 1 16 1 -46 1 42 1 -5 1 -14 1 -16 1 24 1 35 1 -24 1 -32 1 -1 1 -2 1 30 1 -3 1 -26 1 36 1 -50 1 68 1 -74 1 69 1 -32 1 11 1 23 1 -58 1 16 1 -2 1 -27 1 8 1 13 1 6 1 -7 1 11 1 21 1 -31 1 56 1 -8 1 -31 1 4 1 -18 1 32 1 -18 1 10 1 -55 1 64 1 -34 1 17 1 -34 1 35 1 15 1 6 1 11 1 22 1 -72 1 65 1 -16 1 -26 1 27 1 -29 1 7 1 43 1 -71 1 18 1 4 1 47 1 -51" stroke="#ffdc00" stroke-width="4.60" fill="none" stroke-linejoin="round" stroke-linecap="round"/><path transform="translate(74.175,486.0) scale(0.31000,0.1)" vector-effect="non-scaling-stroke" d="M0 0l1 17 1 -5 1 -32 1 36 1 -37 1 -31 1 41 1 12 1 17 1 -79 1 -37 1 53 1 -30 1 85 1 -25 1 17 1 -59 1 85 1 -62 1 56 1 -27 1 -18 1 12 1 -8 1 -6 1 -24 1 40 1 -25 1 26 1 -55 1 49 1 -1 1 0 1 -15 1 -17 1 17 1 10 1 27 1 -27 1 -43 1 42 1 -36 1 53 1 -44 1 -18 1 47 1 34 1 -37 1 7 1 48 1 -44 1 9 1 -53 1 41 1 -37 1 44 1 -18 1 69 1 -35 1 -47 1 54 1 -104 1 112 1 -55 1 26 1 9 1 20 1 -12 1 2 1 -54 1 21 1 26 1 -18 1 26 1 -19 1 -24 1 44 1 -15 1 4 1 -17 1 -63 1 30 1 2 1 49 1 -20 1 -12 1 24 1 -31 1 -12 1 83 1 -76 1 27 1 -16 1 47 1 -51 1 -8 1 59 1 -48 1 31 1 -10 1 21 1 -10 1 -35 1 36 1 -24 1 6 1 9 1 -5 1 -48 1 35 1 -73 1 10 1 90 1 -19 1 -16 1 6 1 3 1 39 1 -52 1 45 1 -27 1 -2 1 40 1 -70 1 -70 1 103 1 -5 1 -9 1 -4 1 26 1 1 1 4 1 -38 1 -14 1 49 1 -11 1 -25 1 -20 1 89 1 -63 1 22 1 42 1 -91 1 74 1 -82 1 13 1 46 1 -24 1 -8 1 12 1 10 1 -41 1 20 1 27 1 26 1 -59 1 3 1 28 1 -43 1 9 1 -21 1 57 1 2 1 21 1 23 1 -86 1 51 1 43 1 -56 1 -8 1 17 1 -23 1 -28 1 47 1 -2 1 -36 1 4 1 37 1 -15 1 -14 1 -44 1 60 1 -8 1 -16 1 -7 1 28 1 -55 1 65 1 -9 1 30 1 5 1 -29 1 -22 1 -30 1 79 1 -21 1 -39 1 1 1 21 1 -2 1 -6 1 30 1 -60 1 32 1 25 1 -37 1 5 1 48 1 -9 1 -28 1 -23 1 12 1 32 1 -19 1 -43 1 94 1 -102 1 93 1 -45 1 11 1 69 1 -148 1 70 1 -48 1 90 1 -17 1 -16 1 15 1 -35 1 -14 1 51 1 9 1 -23 1 -31 1 11 1 2 1 38 1 -36 1 30 1 -8 1 -34 1 66 1 -42 1 22 1 -27 1 27 1 29 1 -41 1 -25 1 26 1 -31 1 -32 1 90 1 -37 1 -22 1 -13 1 5 1 11 1 33 1 16 1 -14 1 24 1 -55 1 -4 1 2 1 -7 1 13 1 35 1 -24 1 -32 1 13 1 17 1 -10 1 -12 1 8 1 50 1 -69 1 48 1 -54 1 8 1 57 1 -40 1 -26 1 15 1 -9 1 30 1 25 1 -84 1 34 1 49 1 8 1 -72 1 44 1 13 1 -22 1 -7 1 69 1 -11 1 -12 1 -26 1 -28 1 -37 1 62 1 29 1 -11 1 -28 1 12 1 -72 1 50 1 44 1 -57 1 71 1 -72 1 18 1 -7 1 59 1 -53 1 -2 1 -1 1 30 1 -30 1 -4 1 59 1 -12 1 -25 1 -19 1 23 1 -31 1 24 1 -19 1 65 1 -51 1 -45 1 77 1 -30 1 -7 1 17 1 21 1 -91 1 52 1 4 1 -29 1 31 1 29 1 10 1 -76 1 25 1 45 1 -33 1 38 1 -47 1 -32 1 49 1 -20 1 1 1 44 1 -47 1 -14 1 6 1 39 1 -40 1 27 1 -18 1 -23 1 47 1 26 1 -10 1 -50 1 62 1 -15 1 2 1 22 1 -68 1 25 1 -12 1 26 1 -19 1 -34 1 71 1 9 1 -63 1 34 1 -19 1 29 1 -38 1 -27 1 71 1 -48 1 -7 1 -13 1 62 1 17 1 -62 1 62 1 -39 1 -3 1 23 1 -62 1 6 1 15 1 -15 1 31 1 -2 1 -9 1 1 1 25 1 -2 1 -66 1 30 1 71 1 -65 1 -5 1 -15 1 37 1 32 1 10 1 -51 1 15 1 -25 1 23 1 -25 1 28 1 -14 1 18 1 0 1 8 1 21 1 -47 1 4 1 -7 1 69 1 -67 1 38 1 1 1 -3 1 -23 1 50 1 -73 1 28 1 -6 1 -5 1 4 1 -11 1 24 1 -7 1 39 1 14 1 -73 1 14 1 -1 1 7 1 15 1 -40 1 21 1 37 1 -54 1 -34 1 68 1 -33 1 3 1 20 1 -37 1 49 1 -57 1 89 1 -64 1 -14 1 30 1 -10 1 45 1 -68 1 14 1 -10 1 0 1 74 1 -51 1 32 1 -67 1 6 1 21 1 114 1 -139 1 9 1 83 1 5 1 -130 1 124 1 -45 1 44 1 -66 1 -14 1 57 1 -60 1 75 1 7 1 -45 1 -43 1 39 1 8 1 -16 1 -31 1 17 1 41 1 -68 1 69 1 -55 1 31 1 20 1 -48 1 33 1 3 1 -40 1 45 1 -19 1 -47 1 63 1 -53 1 29 1 31 1 -27 1 25 1 0 1 -29 1 62 1 -15 1 -53 1 38 1 -78 1 171 1 -102 1 50 1 -19 1 -83 1 33 1 9 1 1 1 27 1 -18 1 -20 1 48 1 -27 1 40 1 37 1 -67 1 20 1 -1 1 -30 1 -9 1 -11 1 -30 1 92 1 -78 1 25 1 4 1 -26 1 2 1 -21 1 93 1 -32 1 -33 1 21 1 18 1 -30 1 -29 1 15 1 58 1 -30 1 -21 1 -9 1 13 1 26 1 21 1 -50 1 47 1 30 1 -56 1 28 1 -15 1 -42 1 33 1 0 1 31 1 -69 1 72 1 -46 1 -25 1 5 1 12 1 -9 1 17 1 30 1 -26 1 38 1 -89 1 23 1 50 1 -60 1 11 1 26 1 -43 1 38 1 -23 1 17 1 34 1 21 1 -62 1 24 1 -9 1 2 1 -27 1 25 1 16 1 -17 1 6 1 11 1 -2 1 -20 1 -19 1 6 1 41 1 -6 1 22 1 -59 1 28 1 -29 1 35 1 -8 1 -7 1 33 1 -7 1 -18 1 -4 1 -4 1 35 1 4 1 -51 1 46 1 -31 1 22 1 -29 1 2 1 -19 1 -21 1 79 1 -69 1 52 1 -18 1 0 1 18 1 -55 1 66 1 17 1 -57 1 18 1 13 1 -68 1 68 1 -1 1 23 1 -45 1 -19 1 14 1 -51 1 89 1 -39 1 23 1 2 1 2 1 -13 1 18 1 -21 1 10 1 -23 1 38 1 -26 1 -6 1 43 1 -68 1 47 1 -11 1 2 1 31 1 -83 1 92 1 -26 1 -3 1 -50 1 36 1 0 1 -17 1 -5 1 17 1 -19 1 15 1 27 1 2 1 -20 1 33 1 -30 1 -5 1 -14 1 4 1 8 1 -61 1 120 1 -69 1 85 1 -53 1 -24 1 -89 1 116 1 -6 1 -2 1 -55 1 48 1 -60 1 39 1 20 1 -3 1 -24 1 74 1 -44 1 8 1 -29 1 -7 1 -14 1 29 1 13 1 -17 1 0 1 6 1 25 1 -57 1 36 1 52 1 -28 1 -73 1 67 1 -56 1 28 1 44 1 -25 1 -32 1 26 1 -19 1 -1 1 40 1 7 1 -9 1 -22 1 -18 1 -7 1 84 1 -77 1 9 1 28 1 -48 1 33 1 -42 1 39 1 -4 1 -46 1 81 1 -21 1 -57 1 20 1 66 1 -49 1 -8 1 10 1 41 1 -77 1 90 1 -12 1 16 1 -28 1 -48 1 20 1 6 1 -12 1 -20 1 7 1 66 1 -43 1 13 1 -28 1 -3 1 52 1 2 1 -86 1 130 1 -120 1 21 1 -22 1 107 1 5 1 -58 1 9 1 -47 1 30 1 7 1 40 1 -62 1 5 1 10 1 -16 1 27 1 1 1 -21 1 44 1 -56 1 54 1 -66 1 55 1 45 1 -96 1 45 1 6 1 1 1 4 1 -22 1 -35 1 18 1 31 1 -86 1 52 1 21 1 20 1 -77 1 71 1 -44 1 34 1 11 1 8 1 -47 1 -26 1 10 1 -2 1 38 1 -34 1 6 1 -4 1 67 1 3 1 -60 1 66 1 -35 1 -24 1 -6 1 -15 1 4 1 28 1 -6 1 -34 1 78 1 5 1 -36 1 -53 1 3 1 8 1 23 1 3 1 59 1 -62 1 16 1 -4 1 -23 1 -30 1 22 1 -5 1 20 1 -17 1 36 1 -11 1 0 1 -73 1 143 1 -50 1 3 1 -4 1 -20 1 -8 1 47 1 0 1 -49 1 -3 1 -37 1 33 1 28 1 40 1 -51 1 18 1 9 1 -26 1 21 1 16 1 -11 1 -44 1 12 1 -50 1 61 1 -72 1 85 1 -13 1 13 1 -12 1 21 1 -66 1 41 1 9 1 25 1 -40 1 8 1 22 1 -4 1 -26 1 30 1 25 1 -25 1 -30 1 37 1 14 1 -35 1 25 1 -22 1 -37 1 19 1 60 1 -49 1 29 1 -41 1 -7 1 -12 1 13 1 18 1 -17 1 61 1 -16 1 -86 1 26 1 80 1 -25 1 26 1 -91 1 7 1 42 1 -37 1 46 1 -34 1 39 1 21 1 -31 1 37 1 -16 1 24 1 -44 1 -10 1 -8 1 15 1 11 1 -37 1 -11 1 58 1 -40 1 35 1 -1 1 -51 1 55 1 -28 1 -11 1 9 1 -14 1 15 1 2 1 18 1 12 1 -19 1 -11 1 20 1 -7 1 14 1 -5 1 6 1 -51 1 29 1 31 1 -19 1 -24 1 7 1 21 1 -14 1 6" stroke="#800000" stroke-width="5.40" fill="none" stroke-linejoin="round" stroke-linecap="round"/></g>
<g clip-path="url(#cBR)"><path transform="translate(377.275,481.0) scale(0.31000,0.1)" vector-effect="non-scaling-stroke" d="M0 0l1 84 1 -50 1 -36 1 22 1 -13 1 -22 1 71 1 -66 1 67 1 -20 1 -11 1 19 1 -20 1 37 1 -28 1 -24 1 54 1 -40 1 -18 1 6 1 -60 1 87 1 -28 1 70 1 -76 1 58 1 -12 1 -55 1 11 1 28 1 -17 1 -48 1 92 1 -65 1 -17 1 32 1 13 1 -39 1 42 1 -61 1 25 1 30 1 -37 1 38 1 -39 1 -20 1 43 1 -30 1 -20 1 56 1 -37 1 38 1 -6 1 40 1 -100 1 26 1 18 1 3 1 -21 1 13 1 -42 1 17 1 17 1 -58 1 10 1 -18 1 24 1 47 1 -49 1 56 1 -36 1 -14 1 28 1 -15 1 26 1 -34 1 56 1 -60 1 -12 1 41 1 19 1 -70 1 76 1 -45 1 1 1 -83 1 91 1 -5 1 13 1 23 1 -44 1 -3 1 -9 1 -10 1 58 1 -53 1 -32 1 50 1 -3 1 -59 1 52 1 -43 1 -8 1 27 1 -19 1 -25 1 56 1 -28 1 -43 1 83 1 -1 1 9 1 -52 1 9 1 -37 1 3 1 -1 1 65 1 -83 1 12 1 90 1 -59 1 -33 1 46 1 -33 1 -20 1 -17 1 51 1 8 1 27 1 -86 1 28 1 -11 1 14 1 -50 1 -6 1 71 1 -43 1 -32 1 35 1 35 1 -140 1 28 1 45 1 13 1 26 1 -10 1 1 1 -96 1 81 1 -11 1 -30 1 -24 1 11 1 38 1 -17 1 -19 1 -6 1 -44 1 38 1 40 1 -109 1 27 1 51 1 -66 1 -17 1 71 1 22 1 -74 1 19 1 -64 1 26 1 -30 1 -5 1 16 1 33 1 23 1 -35 1 -150 1 92 1 -36 1 -1 1 28 1 -14 1 25 1 -35 1 -58 1 -57 1 77 1 -2 1 56 1 -200 1 70 1 78 1 21 1 -43 1 1 1 24 1 -138 1 119 1 -53 1 -92 1 139 1 -14 1 26 1 -219 1 83 1 8 1 -46 1 74 1 32 1 -87 1 -79 1 180 1 -64 1 -103 1 40 1 57 1 -95 1 12 1 -24 1 80 1 -73 1 12 1 23 1 -175 1 113 1 -26 1 -22 1 12 1 -66 1 -7 1 4 1 101 1 -61 1 -19 1 36 1 -80 1 -34 1 71 1 -49 1 66 1 -187 1 131 1 14 1 -61 1 -65 1 -141 1 180 1 -169 1 150 1 33 1 -10 1 -22 1 -22 1 -73 1 66 1 -56 1 7 1 -24 1 145 1 -144 1 -37 1 56 1 -73 1 -58 1 63 1 24 1 -103 1 82 1 -1 1 -45 1 -46 1 3 1 -80 1 156 1 -81 1 -60 1 35 1 -39 1 -50 1 87 1 25 1 -46 1 -74 1 61 1 -54 1 -142 1 148 1 -43 1 9 1 -123 1 178 1 -62 1 -43 1 -99 1 24 1 73 1 75 1 -115 1 58 1 -95 1 90 1 -90 1 -9 1 1 1 -27 1 -67 1 104 1 -63 1 -7 1 -76 1 -46 1 126 1 -3 1 -9 1 -80 1 29 1 64 1 -171 1 109 1 -31 1 67 1 -8 1 -209 1 63 1 -2 1 38 1 -55 1 34 1 -36 1 56 1 -53 1 -6 1 -60 1 -43 1 -44 1 142 1 -115 1 -14 1 152 1 -128 1 25 1 -4 1 85 1 -144 1 15 1 59 1 -49 1 -60 1 41 1 -4 1 127 1 -71 1 -19 1 -64 1 -7 1 42 1 -3 1 -15 1 84 1 -178 1 -43 1 120 1 2 1 23 1 68 1 -116 1 15 1 -23 1 -31 1 83 1 -52 1 51 1 63 1 -26 1 -41 1 10 1 -39 1 37 1 5 1 -44 1 20 1 -77 1 65 1 34 1 17 1 -83 1 46 1 72 1 -96 1 52 1 -64 1 36 1 55 1 -94 1 94 1 -13 1 -19 1 19 1 14 1 27 1 -90 1 193 1 -69 1 -121 1 142 1 -63 1 55 1 -38 1 -58 1 9 1 167 1 -185 1 67 1 85 1 -7 1 -36 1 -3 1 32 1 -28 1 6 1 -36 1 -13 1 62 1 -44 1 -82 1 178 1 95 1 -67 1 -100 1 94 1 20 1 13 1 -9 1 -33 1 -8 1 166 1 -143 1 35 1 -110 1 91 1 14 1 117 1 -148 1 117 1 14 1 -39 1 32 1 50 1 -51 1 13 1 4 1 -18 1 54 1 -42 1 -39 1 204 1 -167 1 135 1 -22 1 -88 1 23 1 24 1 70 1 97 1 -177 1 111 1 36 1 -85 1 -35 1 123 1 44 1 1 1 -45 1 32 1 37 1 -127 1 205 1 -57 1 59 1 -136 1 43 1 13 1 11 1 67 1 -41 1 11 1 -29 1 72 1 -17 1 83 1 -16 1 -24 1 -58 1 239 1 -99 1 -46 1 90 1 27 1 -127 1 80 1 135 1 -117 1 -26 1 -17 1 128 1 -126 1 78 1 -65 1 63 1 -9 1 85 1 -50 1 60 1 -31 1 97 1 -31 1 -66 1 125 1 -46 1 3 1 -22 1 91 1 10 1 -4 1 -73 1 50 1 56 1 -28 1 17 1 -22 1 64 1 -14 1 24 1 -91 1 -22 1 126 1 -109 1 74 1 -5 1 87 1 -86 1 63 1 -46 1 131 1 -94 1 68 1 63 1 -68 1 9 1 -29 1 70 1 -23 1 -34 1 18 1 12 1 76 1 -77 1 29 1 -42 1 38 1 38 1 66 1 -23 1 -87 1 146 1 -42 1 -23 1 -31 1 26 1 -19 1 38 1 -17 1 69 1 39 1 -64 1 25 1 14 1 -72 1 20 1 73 1 -35 1 75 1 -1 1 -107 1 151 1 -88 1 -126 1 169 1 -20 1 39 1 -78 1 16 1 35 1 -68 1 104 1 87 1 -56 1 -19 1 7 1 -3 1 -16 1 -12 1 57 1 44 1 -44 1 -32 1 100 1 -67 1 -57 1 20 1 38 1 58 1 -9 1 -5 1 -68 1 -2 1 60 1 -45 1 140 1 -52 1 -144 1 161 1 -37 1 -20 1 -7 1 53 1 -32 1 -51 1 100 1 -68 1 113 1 -102 1 56 1 0 1 -24 1 -57 1 112 1 -60 1 7 1 17 1 -15 1 99 1 -69 1 -43 1 1 1 54 1 -73 1 112 1 -47 1 26 1 72 1 -119 1 -17 1 41 1 19 1 -63 1 58 1 5 1 -7 1 7 1 -38 1 53 1 5 1 40 1 -83 1 67 1 -54 1 53 1 -26 1 -26 1 -1 1 27 1 -8 1 13 1 52 1 13 1 -74 1 14 1 16 1 121 1 -168 1 25 1 64 1 0 1 -40 1 4 1 -26 1 -21 1 54 1 10 1 5 1 -16 1 35 1 -59 1 37 1 32 1 -43 1 -23 1 -54 1 97 1 -2 1 31 1 -29 1 -45 1 62 1 -77 1 24 1 13 1 58 1 -32 1 -24 1 52 1 -68 1 52 1 -34 1 31 1 -56 1 76 1 -32 1 22 1 -20 1 -9 1 79 1 -80 1 -19 1 26 1 35 1 -36 1 2 1 -4 1 9 1 33 1 -37 1 92 1 -76 1 1 1 17 1 -12 1 12 1 13 1 1 1 12 1 9 1 -52 1 34 1 -72 1 40 1 11 1 -1 1 -4 1 13 1 14 1 -11 1 -64 1 27 1 0 1 -21 1 12 1 54 1 -54 1 21 1 22 1 -58 1 46 1 53 1 -67 1 63 1 -22 1 -1 1 -45 1 -10 1 35 1 44 1 -33 1 14 1 -22 1 3 1 -20 1 -9 1 15 1 5 1 52 1 -89 1 63 1 20 1 -16 1 36 1 -81 1 31 1 -47 1 4 1 -16 1 85 1 -42 1 -9 1 26 1 -25 1 8 1 28 1 -21 1 -1 1 68 1 -73 1 41 1 -3 1 -34 1 7 1 -37 1 26 1 66 1 -45 1 -20 1 41 1 -56 1 35 1 -22 1 46 1 -32 1 0 1 -20 1 -31 1 94 1 -78 1 22 1 -29 1 15 1 7 1 -15 1 49 1 38 1 -29 1 -7 1 -44 1 44 1 10 1 -44 1 7 1 6 1 -1 1 23 1 -63 1 78 1 -72 1 78 1 -56 1 40 1 0 1 -1 1 -8 1 -64 1 85 1 -32 1 -22 1 16 1 55 1 -27 1 -63 1 94 1 -24 1 -5 1 -67 1 32 1 0 1 11 1 33 1 -57 1 19 1 27 1 -51 1 46 1 23 1 -54 1 28 1 4 1 -38 1 51 1 -10 1 -61 1 1 1 -22 1 18 1 67 1 -11 1 -15 1 -33 1 42 1 -22 1 -54 1 75 1 12 1 -8 1 9 1 -37 1 74 1 -97 1 67 1 -42 1 16 1 -12 1 36 1 -76 1 35 1 6 1 27 1 -32 1 1 1 66 1 -38 1 -8 1 -12 1 5 1 -26 1 -46 1 22 1 53 1 -30 1 11 1 11 1 1 1 51 1 -66 1 -26 1 24 1 39 1 -37 1 63 1 -21 1 -13 1 -12 1 57 1 -104 1 110 1 -43 1 -56 1 33 1 -11 1 1 1 -46 1 88 1 -19 1 0 1 44 1 -84 1 -5 1 18 1 73 1 -63 1 -21 1 56 1 -36 1 -3 1 5 1 -17 1 39 1 1 1 -9 1 44 1 -51 1 0 1 25 1 -14 1 2 1 -9 1 -6 1 26 1 -66 1 37 1 0 1 25 1 -16 1 -6 1 -17 1 49 1 -69 1 70 1 -79 1 78 1 -8 1 1 1 -35 1 9 1 -34 1 42 1 -36 1 52 1 -18 1 34 1 -108 1 74 1 17" stroke="#00007f" stroke-width="4.60" fill="none" stroke-linejoin="round" stroke-linecap="round"/><path transform="translate(377.275,482.8) scale(0.31000,0.1)" vector-effect="non-scaling-stroke" d="M0 0l1 26 1 -32 1 41 1 -75 1 80 1 8 1 -14 1 -7 1 -20 1 9 1 12 1 -29 1 18 1 22 1 6 1 -15 1 -25 1 10 1 9 1 -8 1 -38 1 -23 1 66 1 18 1 21 1 -123 1 80 1 -18 1 6 1 -36 1 72 1 -62 1 21 1 -33 1 41 1 9 1 -20 1 37 1 -22 1 3 1 -91 1 96 1 -95 1 44 1 11 1 -31 1 58 1 -37 1 26 1 -44 1 40 1 -21 1 -10 1 30 1 37 1 -80 1 -9 1 -6 1 82 1 -47 1 -1 1 3 1 -41 1 16 1 -5 1 30 1 -42 1 68 1 -40 1 -21 1 23 1 17 1 -85 1 119 1 -67 1 33 1 -1 1 -39 1 10 1 -22 1 33 1 8 1 -44 1 59 1 17 1 -71 1 27 1 0 1 13 1 27 1 8 1 -66 1 14 1 -40 1 -13 1 0 1 60 1 -25 1 -59 1 70 1 20 1 -54 1 14 1 -30 1 18 1 7 1 11 1 -75 1 3 1 36 1 6 1 -28 1 21 1 -21 1 52 1 -32 1 8 1 -79 1 52 1 -23 1 20 1 52 1 -64 1 -44 1 33 1 -11 1 62 1 38 1 -37 1 -3 1 31 1 -123 1 53 1 -1 1 8 1 -17 1 20 1 57 1 -106 1 30 1 -45 1 -37 1 26 1 -4 1 51 1 -30 1 15 1 9 1 33 1 -17 1 -30 1 33 1 -35 1 -39 1 26 1 -54 1 50 1 -25 1 -25 1 31 1 -46 1 93 1 -135 1 126 1 -41 1 22 1 -115 1 59 1 23 1 -72 1 77 1 -79 1 -40 1 79 1 -30 1 -33 1 -7 1 50 1 25 1 -25 1 4 1 -67 1 -11 1 97 1 -105 1 -23 1 59 1 77 1 -105 1 27 1 2 1 -17 1 -120 1 54 1 14 1 41 1 9 1 -19 1 13 1 1 1 1 1 -8 1 -52 1 -52 1 86 1 -83 1 95 1 -101 1 122 1 -90 1 -47 1 61 1 -47 1 10 1 -69 1 -37 1 97 1 -16 1 -30 1 52 1 -70 1 -23 1 79 1 -104 1 1 1 -11 1 114 1 -124 1 6 1 36 1 -72 1 1 1 58 1 -45 1 26 1 -15 1 -96 1 3 1 -1 1 81 1 -33 1 7 1 6 1 21 1 -26 1 3 1 -150 1 166 1 -27 1 -94 1 -45 1 -33 1 129 1 -95 1 -54 1 -21 1 -58 1 68 1 46 1 -31 1 -35 1 -58 1 51 1 31 1 -24 1 90 1 -63 1 -154 1 55 1 -48 1 147 1 -104 1 -76 1 108 1 -8 1 -37 1 -23 1 37 1 -16 1 4 1 -71 1 55 1 -51 1 -124 1 107 1 13 1 18 1 -148 1 -76 1 180 1 -51 1 -117 1 86 1 -112 1 -13 1 36 1 79 1 33 1 -95 1 -45 1 -21 1 26 1 -58 1 52 1 20 1 -42 1 71 1 5 1 -63 1 42 1 -62 1 -37 1 43 1 15 1 -42 1 36 1 -68 1 -52 1 -10 1 30 1 4 1 2 1 57 1 -15 1 -54 1 116 1 -156 1 96 1 55 1 -114 1 -22 1 77 1 -50 1 -78 1 111 1 -65 1 48 1 -28 1 94 1 -166 1 24 1 79 1 -73 1 -5 1 84 1 -28 1 -55 1 79 1 -131 1 96 1 -54 1 126 1 -49 1 -51 1 -46 1 -24 1 85 1 -44 1 7 1 73 1 -20 1 -111 1 99 1 40 1 -85 1 -7 1 -3 1 26 1 -66 1 57 1 3 1 -90 1 36 1 126 1 -57 1 5 1 1 1 -51 1 74 1 -53 1 -41 1 28 1 26 1 -8 1 -17 1 33 1 49 1 -74 1 20 1 89 1 -38 1 -30 1 55 1 -53 1 -10 1 -17 1 3 1 10 1 88 1 -74 1 7 1 86 1 -99 1 -1 1 86 1 -115 1 18 1 -21 1 51 1 -5 1 34 1 -25 1 7 1 18 1 36 1 -62 1 85 1 -78 1 26 1 54 1 -39 1 7 1 78 1 -138 1 126 1 -91 1 62 1 13 1 -36 1 81 1 -52 1 -13 1 88 1 -83 1 11 1 92 1 -119 1 190 1 -178 1 -59 1 172 1 -51 1 59 1 -115 1 188 1 -74 1 30 1 31 1 46 1 -114 1 -28 1 127 1 92 1 -143 1 86 1 20 1 -42 1 7 1 -11 1 -106 1 124 1 66 1 -7 1 -121 1 158 1 -56 1 96 1 -24 1 -5 1 74 1 -98 1 -1 1 111 1 1 1 -36 1 83 1 14 1 19 1 -73 1 -49 1 84 1 36 1 -77 1 154 1 -67 1 -58 1 52 1 22 1 -12 1 -57 1 64 1 70 1 -11 1 -99 1 66 1 79 1 31 1 -112 1 72 1 16 1 -15 1 -71 1 57 1 21 1 66 1 16 1 -56 1 -59 1 131 1 -126 1 130 1 -105 1 95 1 -22 1 -27 1 14 1 69 1 37 1 -44 1 -42 1 32 1 85 1 -29 1 3 1 2 1 -6 1 -20 1 70 1 -20 1 2 1 -3 1 5 1 -3 1 46 1 33 1 -50 1 59 1 -33 1 -96 1 140 1 0 1 -60 1 145 1 -123 1 62 1 34 1 -83 1 123 1 -63 1 64 1 -24 1 -3 1 -19 1 -18 1 38 1 5 1 21 1 -36 1 110 1 -45 1 -53 1 59 1 20 1 -36 1 -48 1 23 1 96 1 -15 1 -31 1 32 1 -28 1 20 1 -8 1 32 1 -30 1 -22 1 88 1 -24 1 -52 1 4 1 43 1 -56 1 44 1 11 1 -26 1 16 1 -91 1 120 1 -50 1 45 1 66 1 -47 1 -16 1 9 1 59 1 -68 1 38 1 3 1 1 1 -48 1 40 1 -23 1 5 1 7 1 -4 1 -48 1 122 1 -87 1 54 1 -25 1 14 1 47 1 -62 1 53 1 -7 1 -29 1 -11 1 -6 1 25 1 1 1 -3 1 -3 1 7 1 -20 1 19 1 22 1 24 1 -37 1 38 1 9 1 -44 1 -5 1 41 1 -67 1 103 1 -10 1 -54 1 -24 1 -2 1 0 1 56 1 -67 1 84 1 -59 1 45 1 -26 1 12 1 30 1 -77 1 123 1 -94 1 51 1 -13 1 -30 1 4 1 -52 1 76 1 12 1 15 1 -6 1 7 1 -25 1 -30 1 57 1 -29 1 -28 1 26 1 43 1 -42 1 -26 1 28 1 3 1 9 1 -11 1 20 1 4 1 -57 1 75 1 -36 1 33 1 12 1 -71 1 59 1 -80 1 52 1 34 1 -12 1 -13 1 9 1 -20 1 26 1 -37 1 38 1 -9 1 -10 1 35 1 8 1 -43 1 -19 1 51 1 -17 1 -59 1 57 1 3 1 17 1 -44 1 19 1 34 1 -50 1 15 1 -11 1 20 1 -21 1 -1 1 28 1 -4 1 -10 1 31 1 8 1 26 1 -55 1 29 1 -21 1 33 1 -70 1 -34 1 13 1 50 1 -26 1 8 1 -6 1 82 1 -110 1 85 1 25 1 -2 1 -69 1 26 1 10 1 -9 1 -46 1 23 1 -31 1 51 1 -30 1 22 1 -31 1 66 1 -60 1 -45 1 86 1 -8 1 35 1 -31 1 9 1 0 1 -32 1 28 1 -12 1 -28 1 54 1 -59 1 71 1 22 1 -37 1 11 1 -19 1 -51 1 81 1 16 1 -68 1 -39 1 100 1 -39 1 -8 1 70 1 -84 1 6 1 21 1 -13 1 66 1 -50 1 -18 1 38 1 -9 1 -36 1 -40 1 13 1 7 1 24 1 21 1 26 1 -30 1 34 1 -20 1 -11 1 -8 1 2 1 -14 1 -2 1 44 1 16 1 -49 1 57 1 -27 1 13 1 -40 1 7 1 -11 1 -18 1 33 1 -24 1 -7 1 -7 1 103 1 -45 1 -58 1 -7 1 85 1 -38 1 -4 1 7 1 -32 1 -3 1 -6 1 -23 1 11 1 16 1 0 1 -7 1 36 1 20 1 -15 1 -27 1 21 1 5 1 4 1 4 1 6 1 -3 1 16 1 -29 1 -53 1 48 1 -50 1 43 1 19 1 -16 1 -46 1 7 1 56 1 -27 1 -28 1 25 1 29 1 22 1 -12 1 26 1 -4 1 -42 1 10 1 -56 1 37 1 -38 1 28 1 -12 1 -16 1 41 1 23 1 -5 1 -22 1 -80 1 84 1 31 1 -42 1 -12 1 36 1 -29 1 57 1 -35 1 -47 1 54 1 23 1 15 1 -5 1 -78 1 42 1 -77 1 37 1 -21 1 141 1 -107 1 -15 1 30 1 4 1 30 1 9 1 -48 1 8 1 4 1 -7 1 10 1 5 1 43 1 -95 1 -3 1 39 1 -47 1 50 1 10 1 2 1 -3 1 -19 1 -12 1 18 1 14 1 -13 1 17 1 34 1 -31 1 -25 1 9 1 -32 1 48 1 -44 1 29 1 -5 1 -32 1 68 1 -6 1 -60 1 6 1 10 1 39 1 56 1 -45 1 17 1 -64 1 41 1 33 1 -77 1 43 1 -30 1 -4 1 -10 1 -25 1 65 1 24 1 -47 1 34 1 -3 1 -5 1 -60 1 15 1 45 1 -57 1 -11 1 26 1 16 1 -14 1 25 1 13 1 -16 1 7 1 -6 1 -24 1 -4 1 44 1 -59 1 71 1 -21 1 -16 1 18 1 -44 1 88 1 -123 1 96 1 -49 1 -17 1 77 1 -44 1 -20 1 62 1 -12 1 -36 1 44 1 -34 1 15 1 -18 1 31 1 34 1 -37" stroke="#0000f5" stroke-width="4.60" fill="none" stroke-linejoin="round" stroke-linecap="round"/><path transform="translate(377.275,481.2) scale(0.31000,0.1)" vector-effect="non-scaling-stroke" d="M0 0l1 39 1 -50 1 20 1 37 1 1 1 -49 1 36 1 -35 1 -44 1 95 1 -41 1 -13 1 31 1 32 1 -69 1 4 1 -5 1 53 1 0 1 -19 1 9 1 -24 1 -20 1 25 1 -2 1 -32 1 48 1 55 1 -64 1 -46 1 14 1 9 1 33 1 -14 1 16 1 -12 1 -16 1 34 1 -61 1 39 1 -30 1 -21 1 88 1 -32 1 -2 1 46 1 -69 1 -4 1 -12 1 27 1 -20 1 44 1 -39 1 50 1 -51 1 15 1 -37 1 -49 1 70 1 -12 1 3 1 -1 1 36 1 -5 1 30 1 -32 1 -52 1 45 1 22 1 -57 1 -12 1 28 1 -3 1 -29 1 75 1 -90 1 51 1 -16 1 63 1 -81 1 6 1 -3 1 14 1 -38 1 37 1 -24 1 28 1 -11 1 -31 1 58 1 -24 1 30 1 -23 1 -8 1 5 1 -11 1 -19 1 31 1 -32 1 24 1 15 1 -43 1 14 1 2 1 57 1 -42 1 -23 1 3 1 75 1 -27 1 -92 1 58 1 -39 1 18 1 20 1 13 1 -28 1 -39 1 26 1 55 1 -37 1 -6 1 -9 1 -37 1 -19 1 99 1 -83 1 8 1 -18 1 35 1 66 1 -45 1 -75 1 47 1 46 1 -74 1 -3 1 51 1 5 1 -15 1 -3 1 7 1 11 1 -48 1 -35 1 55 1 -54 1 68 1 20 1 -17 1 -37 1 6 1 -72 1 40 1 43 1 -53 1 16 1 2 1 -28 1 19 1 -20 1 -12 1 33 1 -24 1 -24 1 17 1 62 1 7 1 11 1 -70 1 33 1 -16 1 -22 1 -22 1 28 1 -16 1 19 1 15 1 -99 1 46 1 9 1 -22 1 51 1 -44 1 47 1 -42 1 -20 1 12 1 21 1 -41 1 2 1 -30 1 40 1 -54 1 49 1 -38 1 43 1 -20 1 -27 1 21 1 -50 1 59 1 -27 1 -31 1 -5 1 -1 1 -30 1 43 1 25 1 -6 1 -72 1 41 1 -5 1 19 1 -77 1 11 1 25 1 97 1 -133 1 32 1 -8 1 83 1 -37 1 -106 1 66 1 -86 1 83 1 -60 1 -16 1 25 1 34 1 14 1 6 1 -81 1 38 1 -64 1 57 1 -9 1 -100 1 17 1 -9 1 54 1 30 1 45 1 6 1 -102 1 -28 1 35 1 2 1 21 1 27 1 -18 1 -39 1 -48 1 -39 1 -2 1 125 1 -57 1 24 1 -53 1 -39 1 7 1 -19 1 -73 1 106 1 -63 1 15 1 48 1 -98 1 95 1 -62 1 16 1 -71 1 47 1 148 1 -161 1 9 1 -72 1 149 1 -158 1 -2 1 93 1 -102 1 42 1 8 1 40 1 -6 1 -39 1 46 1 -25 1 57 1 -38 1 -58 1 92 1 -130 1 55 1 -23 1 16 1 -105 1 -5 1 84 1 -69 1 -82 1 81 1 85 1 -61 1 -14 1 72 1 -68 1 -2 1 28 1 -123 1 89 1 -16 1 -46 1 82 1 -46 1 6 1 51 1 -104 1 -76 1 202 1 -60 1 83 1 -124 1 125 1 -74 1 -56 1 -156 1 105 1 -20 1 30 1 82 1 -100 1 -2 1 92 1 -134 1 155 1 -95 1 46 1 89 1 -47 1 -142 1 45 1 -30 1 71 1 -26 1 119 1 -112 1 40 1 -61 1 -1 1 14 1 -126 1 103 1 59 1 -88 1 23 1 44 1 15 1 -60 1 86 1 -59 1 -36 1 -76 1 28 1 10 1 182 1 -202 1 52 1 34 1 -42 1 114 1 -165 1 69 1 82 1 -6 1 -27 1 -81 1 168 1 -272 1 183 1 -104 1 135 1 -111 1 7 1 -11 1 -34 1 34 1 174 1 -179 1 77 1 5 1 -87 1 -88 1 73 1 132 1 -60 1 -28 1 97 1 -155 1 38 1 2 1 67 1 16 1 -48 1 -23 1 166 1 -141 1 56 1 -167 1 102 1 128 1 -84 1 -14 1 -22 1 13 1 11 1 107 1 -100 1 -32 1 30 1 48 1 -25 1 58 1 -105 1 -30 1 82 1 -31 1 104 1 -86 1 1 1 116 1 11 1 9 1 -45 1 -2 1 -74 1 39 1 -104 1 83 1 47 1 39 1 -61 1 53 1 -22 1 46 1 -2 1 -47 1 35 1 -17 1 88 1 -66 1 36 1 14 1 32 1 -36 1 -66 1 104 1 -32 1 35 1 -30 1 119 1 -73 1 -37 1 99 1 -118 1 -41 1 80 1 -25 1 39 1 -25 1 -15 1 126 1 -17 1 14 1 -43 1 24 1 -10 1 -2 1 13 1 64 1 -82 1 46 1 -65 1 55 1 147 1 -68 1 -46 1 72 1 24 1 -118 1 23 1 16 1 17 1 58 1 -88 1 -18 1 82 1 24 1 -39 1 -5 1 75 1 -101 1 16 1 -9 1 71 1 45 1 -90 1 -16 1 18 1 25 1 71 1 -24 1 -17 1 42 1 -101 1 160 1 -22 1 -1 1 -53 1 62 1 -31 1 6 1 14 1 -43 1 12 1 -40 1 -68 1 110 1 4 1 42 1 -42 1 60 1 -57 1 -20 1 100 1 -32 1 18 1 -13 1 -4 1 13 1 -36 1 17 1 5 1 -22 1 83 1 0 1 37 1 -59 1 -31 1 119 1 -60 1 -20 1 -4 1 30 1 9 1 -34 1 20 1 -7 1 11 1 -23 1 2 1 49 1 -46 1 35 1 -20 1 -56 1 64 1 -19 1 -21 1 24 1 49 1 2 1 30 1 -31 1 7 1 -45 1 50 1 26 1 -80 1 17 1 20 1 -33 1 39 1 22 1 9 1 11 1 -17 1 45 1 -113 1 73 1 -44 1 94 1 -46 1 8 1 -4 1 76 1 -67 1 19 1 -22 1 11 1 23 1 -31 1 -9 1 -12 1 50 1 12 1 18 1 -47 1 -20 1 37 1 -4 1 14 1 -21 1 55 1 -5 1 -47 1 40 1 0 1 -35 1 -37 1 45 1 34 1 1 1 -40 1 3 1 -20 1 53 1 -18 1 -3 1 28 1 -21 1 15 1 35 1 -52 1 41 1 -4 1 -17 1 -35 1 14 1 -6 1 7 1 3 1 49 1 -36 1 -31 1 16 1 63 1 -6 1 -30 1 9 1 -34 1 62 1 1 1 -25 1 -44 1 46 1 26 1 -16 1 -38 1 81 1 -42 1 27 1 -35 1 -31 1 10 1 42 1 -12 1 -32 1 70 1 -14 1 -23 1 13 1 -43 1 30 1 -6 1 20 1 -36 1 44 1 3 1 -42 1 11 1 -22 1 29 1 -3 1 41 1 -20 1 -69 1 9 1 75 1 -69 1 54 1 5 1 -7 1 -50 1 33 1 -57 1 60 1 2 1 -4 1 75 1 -72 1 -25 1 55 1 -38 1 -30 1 57 1 -39 1 15 1 28 1 -28 1 67 1 -76 1 16 1 9 1 33 1 -71 1 -19 1 55 1 -6 1 2 1 3 1 -2 1 -39 1 13 1 36 1 47 1 -62 1 19 1 -4 1 -14 1 22 1 -36 1 0 1 40 1 -28 1 59 1 -29 1 19 1 -23 1 -22 1 14 1 -40 1 18 1 26 1 32 1 -43 1 -2 1 67 1 -44 1 9 1 -2 1 -46 1 8 1 20 1 -2 1 3 1 0 1 45 1 -53 1 49 1 -45 1 27 1 16 1 -28 1 -16 1 24 1 -43 1 -1 1 6 1 27 1 -9 1 -14 1 -15 1 2 1 36 1 41 1 -34 1 -31 1 -8 1 -26 1 64 1 -41 1 -10 1 7 1 64 1 -31 1 -40 1 13 1 6 1 -1 1 16 1 -16 1 -14 1 34 1 -15 1 -16 1 45 1 6 1 -3 1 -4 1 13 1 -42 1 -4 1 4 1 2 1 13 1 17 1 -41 1 17 1 4 1 -17 1 61 1 16 1 -67 1 14 1 -66 1 51 1 -7 1 -1 1 -2 1 21 1 -20 1 33 1 -30 1 -9 1 -6 1 70 1 -37 1 -1 1 10 1 -1 1 -23 1 49 1 -41 1 -31 1 32 1 21 1 33 1 -70 1 60 1 -24 1 -49 1 99 1 -52 1 -33 1 53 1 -85 1 67 1 -27 1 -22 1 43 1 49 1 -65 1 31 1 -19 1 14 1 9 1 -39 1 -31 1 13 1 3 1 20 1 32 1 -41 1 49 1 -31 1 -10 1 -20 1 30 1 10 1 -18 1 27 1 -33 1 38 1 14 1 -39 1 -18 1 3 1 28 1 -30 1 12 1 -5 1 28 1 -50 1 29 1 22 1 26 1 -11 1 -67 1 41 1 24 1 -42 1 19 1 -21 1 49 1 -42 1 2 1 8 1 -36 1 37 1 1 1 29 1 -36 1 28 1 -46 1 1 1 34 1 -38 1 34 1 -48 1 51 1 -6 1 -2 1 -40 1 18 1 -23 1 24 1 11 1 30 1 -2 1 -4 1 -25 1 19 1 -53 1 24 1 -14 1 43 1 -16 1 -48 1 51 1 1 1 56 1 -75 1 38 1 -16 1 -22 1 -16 1 55 1 -34 1 -4 1 24 1 -8 1 19 1 -60 1 44 1 12 1 12 1 -42 1 44 1 -65 1 16 1 17 1 16 1 -8 1 40 1 -18 1 -15 1 39 1 0 1 -46 1 -20 1 31 1 -30 1 -9 1 0 1 30 1 3 1 -17 1 34 1 -20 1 0 1 -14 1 -7 1 -37 1 75 1 -2 1 -26 1 23 1 -12 1 -46 1 39 1 41 1 -66 1 12 1 -37 1 96 1 -48 1 15 1 -17 1 -21" stroke="#0a6cff" stroke-width="4.60" fill="none" stroke-linejoin="round" stroke-linecap="round"/><path transform="translate(377.275,483.3) scale(0.31000,0.1)" vector-effect="non-scaling-stroke" d="M0 0l1 -32 1 63 1 -12 1 -4 1 -34 1 21 1 33 1 13 1 -28 1 52 1 -65 1 -4 1 -4 1 -34 1 55 1 -17 1 -21 1 38 1 -4 1 -13 1 -18 1 -45 1 54 1 7 1 -3 1 -7 1 30 1 -59 1 9 1 -10 1 41 1 -13 1 1 1 15 1 -31 1 35 1 -68 1 27 1 8 1 -41 1 86 1 -25 1 -45 1 69 1 -67 1 13 1 -29 1 18 1 25 1 -39 1 63 1 -21 1 -33 1 25 1 59 1 -94 1 42 1 -15 1 -34 1 35 1 -32 1 32 1 38 1 -62 1 11 1 -17 1 36 1 6 1 -39 1 97 1 -130 1 86 1 -48 1 4 1 -6 1 -41 1 67 1 -36 1 8 1 4 1 -26 1 40 1 10 1 6 1 -11 1 29 1 -4 1 -42 1 -11 1 11 1 2 1 35 1 -40 1 2 1 -45 1 27 1 39 1 6 1 -32 1 -26 1 58 1 -56 1 64 1 4 1 -31 1 7 1 14 1 -63 1 74 1 -34 1 -29 1 -25 1 44 1 14 1 -45 1 42 1 -77 1 70 1 -51 1 -14 1 20 1 -27 1 70 1 -54 1 31 1 -46 1 82 1 -29 1 -26 1 -9 1 48 1 -8 1 -2 1 -41 1 37 1 -15 1 -84 1 43 1 45 1 43 1 -147 1 112 1 -22 1 4 1 -11 1 -28 1 -60 1 108 1 -28 1 34 1 -93 1 47 1 -15 1 19 1 -40 1 45 1 -22 1 -54 1 59 1 17 1 12 1 -7 1 -83 1 38 1 67 1 -44 1 3 1 -39 1 22 1 34 1 -6 1 -9 1 17 1 -82 1 -27 1 53 1 -3 1 55 1 -82 1 42 1 20 1 -106 1 38 1 -11 1 55 1 -5 1 -72 1 89 1 7 1 -123 1 4 1 22 1 67 1 -29 1 21 1 -45 1 1 1 -11 1 49 1 -62 1 19 1 -2 1 31 1 22 1 -89 1 7 1 15 1 -8 1 50 1 -48 1 18 1 38 1 -69 1 -16 1 24 1 -53 1 19 1 45 1 -89 1 -40 1 143 1 8 1 -48 1 20 1 -72 1 51 1 -80 1 30 1 2 1 17 1 -18 1 0 1 52 1 -70 1 41 1 25 1 -107 1 40 1 52 1 -23 1 -93 1 66 1 37 1 -28 1 -2 1 -49 1 8 1 7 1 -6 1 -4 1 5 1 -98 1 160 1 -29 1 -33 1 -75 1 4 1 84 1 -126 1 65 1 -22 1 49 1 -17 1 -4 1 18 1 26 1 42 1 -167 1 24 1 33 1 -39 1 74 1 -86 1 46 1 54 1 -78 1 35 1 -58 1 0 1 -14 1 -38 1 60 1 -28 1 10 1 -67 1 108 1 -69 1 93 1 -106 1 54 1 -47 1 80 1 -18 1 -153 1 81 1 14 1 -72 1 28 1 -17 1 2 1 13 1 -2 1 157 1 -130 1 63 1 -6 1 -66 1 59 1 -20 1 -60 1 62 1 -2 1 47 1 -99 1 -18 1 24 1 -53 1 13 1 16 1 -38 1 -14 1 9 1 62 1 -37 1 21 1 -67 1 53 1 9 1 -40 1 -43 1 1 1 -33 1 200 1 -87 1 9 1 -65 1 63 1 -122 1 73 1 48 1 6 1 -60 1 82 1 9 1 -81 1 -19 1 47 1 -94 1 7 1 104 1 -106 1 -64 1 154 1 89 1 -122 1 -22 1 -34 1 70 1 -119 1 59 1 24 1 -12 1 6 1 7 1 37 1 -57 1 94 1 -89 1 32 1 -24 1 79 1 -117 1 72 1 -58 1 14 1 133 1 -5 1 -197 1 35 1 -15 1 15 1 -2 1 59 1 -76 1 -46 1 76 1 91 1 -4 1 67 1 -144 1 42 1 0 1 7 1 31 1 -55 1 -26 1 39 1 8 1 -72 1 125 1 -21 1 -88 1 61 1 -16 1 99 1 -67 1 -26 1 36 1 -16 1 -49 1 174 1 -195 1 17 1 67 1 -26 1 42 1 29 1 -51 1 38 1 -51 1 82 1 -101 1 18 1 72 1 -40 1 116 1 -151 1 54 1 -38 1 108 1 -102 1 -14 1 -40 1 113 1 -42 1 77 1 -10 1 -56 1 -8 1 60 1 -125 1 38 1 78 1 1 1 -56 1 30 1 -93 1 22 1 4 1 69 1 13 1 -41 1 -8 1 80 1 -9 1 46 1 -30 1 -2 1 -19 1 -32 1 58 1 -28 1 -3 1 -14 1 71 1 36 1 -81 1 121 1 -94 1 45 1 -47 1 -46 1 74 1 -3 1 46 1 -78 1 39 1 8 1 -26 1 37 1 55 1 -62 1 -12 1 13 1 85 1 -66 1 34 1 47 1 -100 1 55 1 -34 1 -62 1 127 1 -123 1 134 1 7 1 -121 1 46 1 39 1 -44 1 77 1 -9 1 -54 1 42 1 13 1 -16 1 81 1 -73 1 -1 1 29 1 -6 1 -2 1 -44 1 23 1 51 1 -24 1 -28 1 71 1 -20 1 -35 1 155 1 -60 1 -81 1 46 1 12 1 -60 1 38 1 49 1 24 1 -91 1 93 1 -128 1 185 1 -128 1 -32 1 77 1 6 1 4 1 -24 1 12 1 2 1 5 1 56 1 -62 1 71 1 -64 1 26 1 64 1 -113 1 49 1 16 1 -19 1 20 1 72 1 -96 1 13 1 -27 1 70 1 -20 1 -16 1 -23 1 120 1 -66 1 -5 1 -16 1 69 1 -61 1 43 1 15 1 -71 1 -1 1 82 1 -32 1 -1 1 -4 1 -16 1 17 1 18 1 -11 1 -32 1 22 1 36 1 20 1 13 1 -56 1 -17 1 -39 1 45 1 65 1 -24 1 1 1 -23 1 -8 1 57 1 -55 1 18 1 -7 1 70 1 14 1 -62 1 18 1 -45 1 15 1 15 1 4 1 15 1 26 1 -3 1 -22 1 6 1 -21 1 44 1 -27 1 25 1 -40 1 18 1 25 1 -13 1 -32 1 39 1 46 1 -42 1 -20 1 18 1 1 1 -43 1 36 1 -26 1 14 1 32 1 11 1 -8 1 -5 1 21 1 -21 1 -14 1 -6 1 61 1 -36 1 -35 1 42 1 1 1 -72 1 78 1 13 1 9 1 -72 1 14 1 56 1 -30 1 32 1 -12 1 -51 1 57 1 -36 1 30 1 -4 1 -26 1 37 1 7 1 -32 1 -20 1 59 1 -45 1 47 1 -36 1 22 1 19 1 2 1 -50 1 25 1 -20 1 44 1 -66 1 -19 1 78 1 -5 1 3 1 -33 1 5 1 10 1 8 1 -34 1 14 1 48 1 -9 1 -26 1 15 1 -20 1 11 1 8 1 -9 1 15 1 -25 1 39 1 -18 1 8 1 23 1 -22 1 7 1 -64 1 18 1 37 1 9 1 -32 1 14 1 68 1 -90 1 63 1 -41 1 -5 1 43 1 -38 1 8 1 -4 1 51 1 -61 1 -15 1 -15 1 31 1 -37 1 40 1 58 1 -38 1 -3 1 -37 1 50 1 22 1 -78 1 26 1 -40 1 47 1 4 1 1 1 28 1 14 1 -22 1 -39 1 3 1 15 1 11 1 5 1 26 1 -69 1 68 1 -61 1 18 1 -1 1 -29 1 43 1 -8 1 -4 1 29 1 -22 1 -13 1 31 1 -20 1 7 1 -42 1 41 1 8 1 27 1 -50 1 43 1 -38 1 33 1 -32 1 22 1 -76 1 75 1 -6 1 26 1 -37 1 -10 1 41 1 -54 1 -26 1 76 1 -61 1 43 1 32 1 -26 1 -60 1 58 1 33 1 -48 1 13 1 5 1 -33 1 32 1 -2 1 23 1 5 1 -55 1 38 1 -50 1 -4 1 19 1 19 1 -25 1 27 1 -12 1 -8 1 2 1 -22 1 67 1 -6 1 -27 1 68 1 -71 1 25 1 0 1 -15 1 2 1 -18 1 21 1 -21 1 -14 1 15 1 6 1 -21 1 22 1 -32 1 14 1 35 1 -9 1 43 1 -17 1 5 1 -13 1 -28 1 -6 1 29 1 -34 1 -8 1 5 1 35 1 11 1 -7 1 -67 1 70 1 -40 1 12 1 -29 1 15 1 2 1 17 1 -4 1 29 1 -26 1 18 1 -18 1 -19 1 18 1 32 1 -13 1 -1 1 2 1 -42 1 73 1 -87 1 56 1 -28 1 -2 1 44 1 -54 1 40 1 -34 1 20 1 13 1 -71 1 37 1 65 1 -47 1 32 1 -32 1 -50 1 46 1 48 1 -59 1 -9 1 63 1 -22 1 -45 1 8 1 86 1 -73 1 6 1 3 1 -32 1 64 1 -45 1 -23 1 16 1 -3 1 62 1 -61 1 15 1 -14 1 15 1 17 1 -18 1 6 1 -20 1 16 1 2 1 19 1 2 1 -14 1 17 1 -36 1 48 1 45 1 -66 1 -20 1 17 1 2 1 -22 1 -35 1 58 1 -43 1 3 1 39 1 -13 1 34 1 -64 1 67 1 -26 1 -1 1 -10 1 24 1 -33 1 32 1 -27 1 20 1 -46 1 24 1 7 1 19 1 -45 1 8 1 20 1 -3 1 -7 1 44 1 -42 1 2 1 33 1 -9 1 -38 1 -33 1 14 1 8 1 20 1 41 1 -77 1 58 1 5 1 -46 1 -4 1 19 1 65 1 -39 1 -60 1 -14 1 40 1 6 1 12 1 20 1 -13 1 -44 1 61 1 -6 1 -1 1 -17 1 -10 1 11 1 -27 1 52 1 -33 1 34 1 -16 1 6 1 -27 1 15 1 21 1 -17 1 12 1 37 1 -73 1 43 1 2" stroke="#08d0ff" stroke-width="4.60" fill="none" stroke-linejoin="round" stroke-linecap="round"/><path transform="translate(377.275,482.7) scale(0.31000,0.1)" vector-effect="non-scaling-stroke" d="M0 0l1 -11 1 42 1 -46 1 -25 1 101 1 -53 1 13 1 -57 1 35 1 19 1 -17 1 11 1 -32 1 15 1 32 1 -17 1 6 1 -42 1 2 1 9 1 18 1 -38 1 88 1 -33 1 -36 1 56 1 27 1 -70 1 -6 1 -8 1 9 1 -5 1 13 1 30 1 -17 1 28 1 -48 1 18 1 -17 1 -19 1 -13 1 31 1 14 1 -22 1 5 1 -1 1 4 1 24 1 13 1 -35 1 28 1 -29 1 -13 1 34 1 -35 1 26 1 -32 1 21 1 12 1 -13 1 -39 1 18 1 32 1 -16 1 -15 1 -26 1 33 1 10 1 -24 1 53 1 -58 1 46 1 -4 1 -13 1 12 1 -39 1 -13 1 55 1 -32 1 19 1 -5 1 -48 1 63 1 -9 1 -8 1 0 1 10 1 -33 1 45 1 -49 1 3 1 -27 1 2 1 25 1 16 1 -66 1 60 1 -65 1 65 1 3 1 -38 1 -1 1 20 1 35 1 -47 1 30 1 -29 1 13 1 28 1 1 1 -50 1 12 1 -45 1 35 1 -10 1 22 1 60 1 -64 1 -7 1 -15 1 4 1 44 1 -69 1 -19 1 10 1 65 1 18 1 -66 1 -11 1 20 1 13 1 12 1 6 1 -31 1 35 1 -21 1 25 1 -79 1 72 1 9 1 -41 1 23 1 -11 1 -14 1 -13 1 22 1 -11 1 53 1 -98 1 64 1 -79 1 92 1 -41 1 1 1 28 1 -54 1 49 1 -61 1 14 1 1 1 -23 1 97 1 -46 1 -42 1 -5 1 43 1 -30 1 54 1 -43 1 -17 1 64 1 -40 1 -48 1 28 1 -1 1 -14 1 11 1 29 1 -34 1 11 1 -36 1 -33 1 80 1 -56 1 43 1 -66 1 29 1 7 1 -11 1 55 1 6 1 -11 1 -22 1 -47 1 51 1 -34 1 77 1 -115 1 52 1 -35 1 -12 1 3 1 26 1 28 1 -87 1 58 1 -1 1 4 1 -1 1 1 1 -3 1 -62 1 17 1 21 1 -50 1 73 1 -29 1 -10 1 -72 1 94 1 17 1 -20 1 -2 1 61 1 -74 1 -30 1 56 1 -16 1 30 1 -94 1 42 1 -7 1 -29 1 21 1 15 1 -4 1 -14 1 17 1 -81 1 82 1 12 1 -32 1 -50 1 51 1 37 1 -15 1 -46 1 -11 1 11 1 33 1 -108 1 69 1 -14 1 -49 1 92 1 -19 1 -68 1 9 1 -54 1 57 1 -5 1 24 1 -7 1 14 1 -10 1 -56 1 44 1 -25 1 110 1 -111 1 29 1 18 1 1 1 -42 1 -33 1 9 1 12 1 -131 1 83 1 68 1 26 1 -21 1 -46 1 1 1 15 1 5 1 -20 1 -36 1 -10 1 25 1 -11 1 -38 1 105 1 -36 1 -46 1 -2 1 -28 1 21 1 -21 1 2 1 42 1 -2 1 -41 1 76 1 -10 1 -30 1 -57 1 50 1 -34 1 66 1 7 1 -30 1 -29 1 -17 1 22 1 14 1 28 1 -108 1 68 1 -38 1 66 1 -35 1 -49 1 52 1 -1 1 -42 1 3 1 -20 1 69 1 -76 1 33 1 6 1 9 1 -35 1 -13 1 70 1 -28 1 -45 1 113 1 -33 1 -68 1 9 1 54 1 -87 1 23 1 18 1 109 1 -80 1 -42 1 7 1 -8 1 -2 1 -45 1 7 1 112 1 -48 1 -9 1 -28 1 -41 1 0 1 76 1 -38 1 2 1 2 1 -1 1 84 1 -141 1 93 1 -20 1 44 1 -20 1 -39 1 9 1 -28 1 100 1 -28 1 -30 1 -68 1 93 1 3 1 17 1 -58 1 97 1 -80 1 -66 1 73 1 48 1 -80 1 51 1 19 1 -101 1 28 1 25 1 -25 1 33 1 -32 1 -40 1 -41 1 101 1 -37 1 5 1 -64 1 147 1 22 1 -123 1 43 1 -36 1 60 1 -81 1 39 1 24 1 37 1 4 1 -127 1 113 1 26 1 -93 1 67 1 56 1 -60 1 6 1 -51 1 54 1 6 1 -13 1 65 1 15 1 -142 1 121 1 -113 1 109 1 -59 1 17 1 21 1 -25 1 -18 1 27 1 10 1 22 1 -140 1 73 1 39 1 23 1 6 1 -12 1 -10 1 44 1 -21 1 -45 1 22 1 65 1 18 1 -76 1 30 1 4 1 -57 1 7 1 46 1 26 1 -53 1 21 1 10 1 -12 1 85 1 45 1 -128 1 -19 1 101 1 9 1 -73 1 19 1 19 1 6 1 -54 1 38 1 -35 1 2 1 26 1 37 1 -14 1 -50 1 1 1 -20 1 53 1 24 1 -53 1 43 1 49 1 -83 1 57 1 -16 1 -24 1 82 1 -29 1 -27 1 37 1 -15 1 -3 1 -40 1 -35 1 78 1 37 1 -4 1 17 1 -34 1 -58 1 54 1 -17 1 -18 1 66 1 -48 1 63 1 52 1 -94 1 35 1 -69 1 58 1 -37 1 23 1 63 1 -49 1 30 1 -14 1 -23 1 78 1 -84 1 102 1 -52 1 -56 1 72 1 50 1 -47 1 -23 1 6 1 -5 1 -23 1 83 1 -34 1 -24 1 96 1 -86 1 -17 1 37 1 22 1 14 1 -11 1 9 1 42 1 -54 1 19 1 13 1 -8 1 -120 1 116 1 -63 1 72 1 -11 1 30 1 -59 1 58 1 -10 1 -1 1 27 1 -58 1 59 1 -14 1 -39 1 19 1 -21 1 24 1 6 1 21 1 -23 1 28 1 -33 1 43 1 1 1 -28 1 -1 1 -24 1 68 1 -30 1 -23 1 -7 1 63 1 -53 1 7 1 -12 1 -16 1 62 1 16 1 -32 1 17 1 20 1 57 1 -78 1 -53 1 92 1 -58 1 -23 1 50 1 -53 1 72 1 -13 1 5 1 -14 1 -6 1 -21 1 48 1 -25 1 31 1 -21 1 5 1 22 1 42 1 -90 1 42 1 -12 1 37 1 3 1 -9 1 -12 1 -9 1 20 1 6 1 -25 1 47 1 -49 1 44 1 -22 1 -20 1 36 1 -32 1 -30 1 75 1 -21 1 3 1 -80 1 54 1 41 1 -33 1 39 1 -22 1 -25 1 31 1 -41 1 16 1 7 1 63 1 -43 1 -39 1 66 1 -57 1 7 1 27 1 46 1 -60 1 -38 1 46 1 -15 1 5 1 -21 1 57 1 -6 1 -28 1 -9 1 48 1 17 1 -23 1 -58 1 29 1 10 1 9 1 2 1 -2 1 26 1 -51 1 -12 1 29 1 -27 1 60 1 -52 1 -14 1 106 1 -12 1 -97 1 27 1 7 1 30 1 -31 1 -10 1 11 1 -8 1 9 1 16 1 20 1 -2 1 -36 1 13 1 -18 1 23 1 -14 1 -23 1 -30 1 91 1 -26 1 -8 1 0 1 26 1 -11 1 17 1 15 1 -38 1 20 1 -33 1 25 1 -21 1 2 1 6 1 -19 1 11 1 -17 1 71 1 -69 1 -7 1 78 1 -21 1 11 1 -34 1 -7 1 22 1 -33 1 56 1 -21 1 -3 1 -8 1 -61 1 83 1 -4 1 -8 1 -68 1 28 1 31 1 25 1 -52 1 -21 1 23 1 26 1 -37 1 39 1 -4 1 -14 1 26 1 31 1 -66 1 33 1 -26 1 4 1 6 1 11 1 6 1 10 1 19 1 -42 1 25 1 9 1 -22 1 2 1 18 1 0 1 -31 1 30 1 -50 1 26 1 -23 1 44 1 -18 1 26 1 -44 1 -25 1 82 1 -47 1 7 1 -47 1 89 1 -45 1 -16 1 -8 1 29 1 23 1 -27 1 17 1 -33 1 13 1 -7 1 9 1 -21 1 -7 1 45 1 -26 1 49 1 -37 1 -12 1 22 1 -25 1 25 1 -5 1 30 1 -85 1 15 1 31 1 -27 1 28 1 -5 1 -21 1 6 1 38 1 -19 1 6 1 13 1 -25 1 35 1 -55 1 33 1 19 1 -17 1 -26 1 2 1 9 1 -8 1 23 1 -16 1 4 1 10 1 12 1 -32 1 52 1 -35 1 32 1 -32 1 23 1 -22 1 1 1 -5 1 -23 1 -25 1 80 1 -29 1 -28 1 61 1 -24 1 -34 1 3 1 21 1 -6 1 39 1 -18 1 -67 1 62 1 0 1 9 1 -45 1 25 1 6 1 19 1 -18 1 -14 1 34 1 -8 1 -29 1 -18 1 65 1 -81 1 15 1 26 1 14 1 -19 1 59 1 -40 1 5 1 -18 1 -34 1 34 1 28 1 8 1 27 1 -65 1 37 1 -41 1 1 1 -12 1 -27 1 42 1 8 1 -25 1 -4 1 4 1 15 1 -6 1 33 1 -34 1 12 1 -14 1 51 1 -42 1 14 1 -26 1 1 1 17 1 14 1 8 1 -28 1 2 1 8 1 -12 1 -19 1 84 1 -77 1 -10 1 54 1 -34 1 18 1 -17 1 21 1 -41 1 36 1 -53 1 85 1 -37 1 20 1 8 1 -39 1 -46 1 51 1 6 1 -9 1 5 1 -6 1 11 1 -22 1 19 1 2 1 -61 1 69 1 -42 1 37 1 -13 1 1 1 21 1 -33 1 19 1 -4 1 34 1 -94 1 66 1 19 1 -39 1 18 1 -7 1 4 1 41 1 -47 1 5 1 33 1 -36 1 9 1 6 1 11 1 -38 1 40 1 -19 1 2 1 -36 1 21 1 23 1 -59 1 -1 1 4 1 68 1 -35 1 60 1 -40 1 -35 1 38 1 0 1 5 1 -14 1 45 1 -31 1 -67 1 -1 1 41" stroke="#48fca8" stroke-width="4.60" fill="none" stroke-linejoin="round" stroke-linecap="round"/><path transform="translate(377.275,486.7) scale(0.31000,0.1)" vector-effect="non-scaling-stroke" d="M0 0l1 -9 1 12 1 4 1 -39 1 48 1 -36 1 -11 1 29 1 -56 1 -13 1 38 1 1 1 -30 1 47 1 -37 1 23 1 3 1 -9 1 39 1 -62 1 21 1 17 1 8 1 -40 1 21 1 19 1 -45 1 -29 1 56 1 -32 1 12 1 -52 1 77 1 -24 1 4 1 45 1 -44 1 -4 1 -28 1 3 1 32 1 18 1 29 1 -31 1 -15 1 19 1 16 1 -55 1 34 1 39 1 -47 1 -12 1 -10 1 52 1 -4 1 -16 1 -16 1 1 1 -12 1 -7 1 22 1 -7 1 1 1 32 1 -31 1 33 1 -20 1 -41 1 -7 1 18 1 -12 1 87 1 -58 1 21 1 -29 1 13 1 -2 1 0 1 -40 1 7 1 -50 1 85 1 -32 1 19 1 -35 1 31 1 -33 1 2 1 41 1 15 1 8 1 -25 1 75 1 -95 1 25 1 -58 1 42 1 -20 1 -2 1 16 1 -19 1 17 1 16 1 -27 1 59 1 -22 1 -17 1 -12 1 -46 1 36 1 41 1 -64 1 -4 1 43 1 6 1 -47 1 20 1 -3 1 -36 1 45 1 0 1 -12 1 20 1 8 1 -37 1 28 1 -6 1 -49 1 49 1 -15 1 12 1 29 1 -31 1 -1 1 -15 1 34 1 -16 1 -32 1 65 1 -83 1 -7 1 -2 1 90 1 -22 1 -9 1 3 1 -37 1 -3 1 -45 1 48 1 -10 1 76 1 -43 1 -2 1 10 1 -12 1 39 1 -51 1 -19 1 8 1 9 1 -8 1 21 1 7 1 -76 1 10 1 42 1 -58 1 58 1 6 1 -28 1 40 1 -49 1 20 1 85 1 -26 1 -111 1 69 1 15 1 -24 1 -50 1 91 1 -45 1 25 1 -7 1 -32 1 -26 1 105 1 -77 1 -23 1 37 1 -23 1 3 1 -6 1 24 1 -61 1 78 1 -41 1 -20 1 47 1 -46 1 -17 1 51 1 -42 1 -62 1 88 1 24 1 -50 1 54 1 -34 1 -45 1 2 1 90 1 -120 1 103 1 -44 1 -8 1 14 1 -21 1 -11 1 -40 1 19 1 0 1 24 1 51 1 -82 1 56 1 23 1 -63 1 1 1 -22 1 49 1 -31 1 -1 1 19 1 -22 1 16 1 -11 1 33 1 -55 1 5 1 102 1 -96 1 -5 1 2 1 32 1 -3 1 -47 1 29 1 -28 1 48 1 -22 1 -12 1 73 1 -70 1 14 1 5 1 -49 1 34 1 -14 1 22 1 -78 1 75 1 56 1 -33 1 -48 1 -2 1 28 1 -61 1 107 1 -71 1 -76 1 73 1 -23 1 33 1 -45 1 77 1 -56 1 17 1 -39 1 20 1 3 1 54 1 -86 1 -6 1 -17 1 33 1 70 1 -43 1 7 1 -53 1 52 1 6 1 -71 1 37 1 -28 1 56 1 -9 1 -11 1 18 1 -34 1 29 1 -36 1 29 1 -38 1 30 1 -20 1 -10 1 34 1 -71 1 8 1 27 1 24 1 54 1 23 1 -86 1 -65 1 33 1 37 1 -47 1 28 1 40 1 -98 1 107 1 -109 1 82 1 19 1 -40 1 34 1 -22 1 23 1 -46 1 -15 1 29 1 -32 1 62 1 -50 1 -16 1 6 1 46 1 -65 1 54 1 -21 1 8 1 -38 1 -11 1 54 1 10 1 26 1 -50 1 33 1 -20 1 -54 1 34 1 32 1 -2 1 -31 1 -1 1 75 1 -34 1 -25 1 22 1 14 1 32 1 -28 1 -79 1 -15 1 82 1 -71 1 77 1 -66 1 38 1 -22 1 -28 1 24 1 -28 1 63 1 -70 1 11 1 105 1 -64 1 2 1 -10 1 -1 1 -4 1 35 1 3 1 -48 1 80 1 -8 1 -33 1 -53 1 56 1 42 1 -20 1 -67 1 94 1 -22 1 -31 1 72 1 -100 1 45 1 -95 1 52 1 12 1 32 1 -20 1 31 1 -62 1 62 1 -36 1 42 1 -80 1 78 1 -73 1 60 1 38 1 -80 1 59 1 -92 1 50 1 -42 1 10 1 64 1 26 1 -75 1 67 1 -38 1 66 1 -60 1 -13 1 51 1 -34 1 8 1 -35 1 49 1 -31 1 52 1 -40 1 -75 1 85 1 -37 1 -3 1 -5 1 28 1 -30 1 57 1 -32 1 62 1 -47 1 -12 1 18 1 12 1 -48 1 55 1 -39 1 15 1 -5 1 40 1 -107 1 71 1 19 1 -26 1 77 1 -90 1 12 1 31 1 -67 1 87 1 61 1 -73 1 4 1 3 1 -4 1 13 1 -5 1 -3 1 -36 1 -9 1 10 1 -7 1 91 1 -6 1 -37 1 -21 1 25 1 -15 1 -48 1 47 1 -29 1 28 1 -29 1 79 1 -2 1 -41 1 -10 1 -29 1 82 1 -44 1 57 1 -66 1 46 1 -44 1 36 1 39 1 -18 1 -5 1 1 1 -56 1 15 1 2 1 -2 1 17 1 -15 1 -46 1 73 1 -28 1 56 1 -45 1 60 1 -35 1 37 1 -25 1 -12 1 -11 1 -16 1 64 1 24 1 -43 1 -37 1 11 1 69 1 -2 1 -76 1 13 1 62 1 -28 1 -37 1 7 1 48 1 36 1 -69 1 40 1 -54 1 9 1 23 1 22 1 -8 1 -33 1 9 1 20 1 33 1 -10 1 -57 1 72 1 -67 1 21 1 36 1 8 1 10 1 -45 1 23 1 -47 1 19 1 8 1 3 1 -5 1 44 1 -43 1 91 1 -92 1 -6 1 -19 1 81 1 -50 1 83 1 -61 1 -29 1 81 1 -49 1 -33 1 13 1 21 1 48 1 -48 1 -28 1 43 1 9 1 -65 1 76 1 -9 1 -19 1 53 1 -59 1 13 1 6 1 -26 1 32 1 15 1 12 1 26 1 -54 1 -4 1 -29 1 -12 1 48 1 -12 1 -3 1 -27 1 35 1 -18 1 -21 1 65 1 -32 1 -8 1 13 1 20 1 3 1 -34 1 47 1 2 1 -61 1 82 1 8 1 -89 1 0 1 41 1 -36 1 60 1 -19 1 -8 1 13 1 -35 1 -17 1 78 1 -24 1 -5 1 23 1 37 1 -69 1 14 1 4 1 -33 1 5 1 -18 1 33 1 43 1 -57 1 22 1 5 1 -6 1 10 1 19 1 -33 1 -41 1 41 1 -17 1 -27 1 78 1 -27 1 -10 1 -19 1 56 1 -10 1 -46 1 50 1 -27 1 23 1 -69 1 52 1 12 1 -26 1 70 1 -40 1 -14 1 -14 1 38 1 16 1 -66 1 0 1 57 1 -17 1 -40 1 39 1 8 1 -17 1 -17 1 15 1 36 1 1 1 -49 1 16 1 11 1 1 1 -14 1 45 1 -116 1 93 1 -51 1 64 1 -29 1 -20 1 37 1 -21 1 2 1 7 1 -10 1 4 1 7 1 -12 1 6 1 -24 1 22 1 21 1 -2 1 -75 1 37 1 39 1 12 1 -9 1 -28 1 28 1 -30 1 13 1 -17 1 35 1 -38 1 18 1 53 1 -44 1 -11 1 31 1 -37 1 -17 1 8 1 -7 1 10 1 7 1 5 1 16 1 -21 1 13 1 42 1 -40 1 13 1 -43 1 39 1 -12 1 39 1 -62 1 -33 1 68 1 -26 1 7 1 44 1 -62 1 0 1 32 1 41 1 -104 1 29 1 39 1 -39 1 100 1 -21 1 -34 1 -43 1 48 1 -43 1 21 1 11 1 -14 1 13 1 -1 1 -38 1 1 1 23 1 -14 1 -2 1 49 1 -21 1 81 1 -105 1 -6 1 40 1 -32 1 48 1 14 1 -51 1 -39 1 4 1 39 1 -9 1 -19 1 88 1 -51 1 6 1 16 1 -40 1 2 1 34 1 -72 1 56 1 60 1 -62 1 6 1 -73 1 58 1 -11 1 2 1 33 1 -6 1 -23 1 23 1 -35 1 5 1 22 1 -21 1 42 1 -31 1 20 1 -26 1 -15 1 40 1 24 1 -91 1 68 1 -14 1 -1 1 42 1 -105 1 66 1 -17 1 1 1 31 1 -14 1 9 1 -6 1 -22 1 10 1 28 1 -29 1 0 1 5 1 48 1 -19 1 -38 1 15 1 -69 1 84 1 -33 1 -27 1 92 1 -50 1 -8 1 18 1 -23 1 57 1 22 1 -66 1 30 1 -52 1 48 1 -50 1 34 1 8 1 13 1 -34 1 17 1 -20 1 -28 1 22 1 0 1 -18 1 61 1 14 1 -92 1 47 1 -31 1 34 1 10 1 32 1 -94 1 68 1 -24 1 -11 1 33 1 -20 1 -14 1 31 1 -15 1 25 1 -11 1 12 1 -40 1 -29 1 32 1 21 1 -20 1 20 1 35 1 -97 1 39 1 24 1 6 1 -20 1 2 1 -2 1 3 1 -2 1 21 1 -15 1 -21 1 21 1 31 1 -32 1 -20 1 -13 1 26 1 -26 1 61 1 -12 1 -13 1 25 1 7 1 -12 1 -48 1 40 1 0 1 3 1 -20 1 -4 1 9 1 5 1 32 1 -47 1 10 1 -27 1 37 1 2 1 -44 1 60 1 -22 1 37 1 -12 1 -27 1 -21 1 22 1 -56 1 57 1 -31 1 40 1 -13 1 57 1 -80 1 10 1 -8 1 29 1 -39 1 49 1 4 1 -14 1 13 1 -9 1 -17 1 33 1 -6 1 -26 1 -5 1 4 1 11 1 -12 1 7 1 -7 1 -32 1 69 1 -72 1 35 1 -1 1 31 1 -63 1 72 1 -56 1 61 1 -34 1 -22 1 -9 1 20 1 -17 1 30 1 2 1 28" stroke="#ffdc00" stroke-width="4.60" fill="none" stroke-linejoin="round" stroke-linecap="round"/><path transform="translate(377.275,485.5) scale(0.31000,0.1)" vector-effect="non-scaling-stroke" d="M0 0l1 -7 1 15 1 11 1 -18 1 -4 1 5 1 -16 1 16 1 8 1 -5 1 -17 1 -14 1 40 1 -29 1 -23 1 21 1 32 1 -56 1 42 1 18 1 -24 1 -37 1 13 1 5 1 49 1 -9 1 -38 1 30 1 18 1 -24 1 31 1 -52 1 -23 1 58 1 23 1 -55 1 7 1 10 1 11 1 -18 1 5 1 8 1 -44 1 40 1 16 1 -30 1 25 1 31 1 -54 1 -2 1 72 1 -82 1 -9 1 44 1 -3 1 -51 1 82 1 -45 1 -20 1 8 1 18 1 -1 1 -35 1 45 1 9 1 -21 1 -12 1 -14 1 4 1 1 1 36 1 -2 1 -55 1 6 1 62 1 -12 1 -30 1 15 1 -23 1 -12 1 7 1 32 1 30 1 -60 1 33 1 -20 1 -22 1 25 1 -19 1 58 1 -33 1 8 1 -59 1 93 1 -27 1 -29 1 48 1 -36 1 34 1 -84 1 48 1 4 1 3 1 4 1 45 1 -29 1 -69 1 -9 1 30 1 9 1 -16 1 59 1 -52 1 -16 1 54 1 -42 1 19 1 -39 1 -19 1 89 1 -21 1 1 1 8 1 1 1 -37 1 51 1 -42 1 3 1 -2 1 17 1 -38 1 -27 1 64 1 -25 1 -22 1 35 1 -16 1 20 1 -36 1 -15 1 35 1 14 1 -3 1 17 1 -48 1 47 1 -28 1 19 1 -31 1 39 1 -34 1 18 1 -28 1 2 1 42 1 -20 1 13 1 -20 1 -10 1 12 1 -2 1 47 1 -56 1 35 1 -24 1 16 1 -19 1 -19 1 -9 1 53 1 -60 1 35 1 6 1 0 1 21 1 -76 1 39 1 2 1 31 1 -12 1 -26 1 45 1 -38 1 16 1 10 1 -32 1 23 1 -69 1 66 1 -17 1 24 1 -34 1 19 1 -4 1 -12 1 -49 1 33 1 32 1 16 1 22 1 -39 1 95 1 -153 1 28 1 14 1 41 1 -17 1 -6 1 -23 1 8 1 0 1 -24 1 78 1 -48 1 -6 1 2 1 -21 1 45 1 -4 1 -5 1 -43 1 70 1 -3 1 -6 1 -36 1 17 1 -57 1 16 1 30 1 14 1 -3 1 -16 1 -28 1 -32 1 51 1 101 1 -70 1 -32 1 18 1 11 1 -66 1 24 1 32 1 -21 1 12 1 -23 1 54 1 2 1 -3 1 -55 1 36 1 -11 1 -3 1 8 1 -32 1 16 1 30 1 -4 1 4 1 -51 1 -14 1 18 1 4 1 55 1 -25 1 10 1 -30 1 6 1 10 1 -6 1 -29 1 -15 1 61 1 33 1 -98 1 63 1 -72 1 9 1 68 1 -37 1 41 1 -34 1 -40 1 81 1 -24 1 -7 1 -20 1 32 1 -16 1 -18 1 62 1 -77 1 16 1 62 1 -129 1 82 1 -22 1 26 1 -24 1 -9 1 54 1 -32 1 -38 1 32 1 -80 1 102 1 -33 1 8 1 48 1 -59 1 4 1 -17 1 66 1 -15 1 3 1 -26 1 -12 1 -1 1 -56 1 78 1 -6 1 -32 1 99 1 -143 1 56 1 -78 1 140 1 -75 1 0 1 7 1 61 1 -75 1 12 1 58 1 -39 1 29 1 -13 1 -7 1 -10 1 -1 1 -66 1 92 1 45 1 -89 1 -24 1 37 1 -19 1 70 1 -65 1 -17 1 11 1 32 1 -45 1 70 1 2 1 3 1 -26 1 21 1 -73 1 15 1 15 1 -90 1 68 1 81 1 -104 1 33 1 17 1 -21 1 73 1 -117 1 84 1 -66 1 88 1 -24 1 -50 1 52 1 -39 1 48 1 -50 1 -38 1 71 1 38 1 -100 1 65 1 -10 1 -33 1 47 1 -19 1 -36 1 48 1 -16 1 -6 1 13 1 -25 1 31 1 8 1 -30 1 -92 1 101 1 -90 1 108 1 -79 1 64 1 -40 1 9 1 1 1 1 1 81 1 -31 1 -51 1 48 1 -69 1 54 1 72 1 -74 1 29 1 -29 1 -20 1 24 1 -31 1 80 1 -8 1 -60 1 -15 1 6 1 39 1 -60 1 91 1 -21 1 -61 1 45 1 52 1 -128 1 64 1 -55 1 59 1 19 1 -27 1 21 1 -46 1 -12 1 45 1 28 1 23 1 -24 1 -50 1 16 1 63 1 -30 1 25 1 -45 1 32 1 -37 1 11 1 13 1 -9 1 -60 1 55 1 -29 1 60 1 23 1 -26 1 -40 1 27 1 -38 1 -7 1 28 1 11 1 -17 1 12 1 18 1 -3 1 -7 1 -24 1 31 1 -22 1 31 1 -8 1 -69 1 58 1 -15 1 -11 1 34 1 3 1 45 1 -20 1 -18 1 40 1 -68 1 18 1 -29 1 2 1 -33 1 34 1 -14 1 80 1 -30 1 22 1 -6 1 -87 1 75 1 -60 1 19 1 -1 1 13 1 56 1 -25 1 37 1 -73 1 16 1 7 1 -9 1 43 1 -11 1 -48 1 35 1 -38 1 -10 1 50 1 -16 1 -3 1 15 1 23 1 -39 1 9 1 -42 1 87 1 -34 1 -12 1 -8 1 -8 1 18 1 -41 1 52 1 -33 1 17 1 -1 1 30 1 -53 1 60 1 -35 1 -13 1 2 1 -29 1 105 1 -53 1 19 1 22 1 -71 1 23 1 -28 1 22 1 55 1 -54 1 12 1 -2 1 8 1 -9 1 -38 1 9 1 120 1 -81 1 -10 1 -28 1 82 1 -16 1 -37 1 -19 1 -15 1 101 1 -98 1 73 1 -19 1 -12 1 -4 1 -5 1 5 1 -14 1 11 1 29 1 -3 1 -92 1 34 1 21 1 25 1 42 1 -41 1 -6 1 31 1 -16 1 -40 1 30 1 18 1 -9 1 4 1 20 1 -62 1 45 1 14 1 -21 1 -41 1 18 1 36 1 -34 1 -29 1 70 1 2 1 -84 1 34 1 48 1 -16 1 -9 1 20 1 -10 1 13 1 -56 1 21 1 -9 1 55 1 -59 1 -29 1 83 1 -32 1 -7 1 58 1 -39 1 -49 1 66 1 -12 1 4 1 -16 1 30 1 -10 1 -8 1 30 1 -40 1 -48 1 22 1 22 1 18 1 -28 1 50 1 -50 1 -26 1 13 1 47 1 -22 1 -2 1 -6 1 -3 1 33 1 -30 1 -11 1 17 1 37 1 -73 1 -2 1 -12 1 29 1 64 1 -29 1 -57 1 52 1 -15 1 46 1 -47 1 15 1 8 1 7 1 -10 1 -13 1 -31 1 25 1 39 1 0 1 -41 1 4 1 -11 1 -3 1 57 1 -72 1 69 1 -31 1 40 1 -60 1 49 1 -42 1 31 1 12 1 -44 1 12 1 26 1 -27 1 -15 1 45 1 -28 1 -39 1 72 1 -44 1 67 1 -13 1 -33 1 -11 1 9 1 -55 1 78 1 -1 1 -20 1 9 1 -6 1 20 1 -57 1 52 1 -37 1 23 1 30 1 -44 1 44 1 -54 1 -14 1 60 1 -15 1 9 1 -42 1 25 1 3 1 15 1 -41 1 -21 1 29 1 34 1 -19 1 -7 1 22 1 -15 1 -42 1 57 1 15 1 -29 1 19 1 -33 1 29 1 -33 1 25 1 -20 1 25 1 -5 1 -32 1 21 1 15 1 34 1 -59 1 -6 1 20 1 61 1 -33 1 19 1 -21 1 -3 1 -8 1 -61 1 79 1 -63 1 18 1 12 1 1 1 -24 1 50 1 -41 1 12 1 50 1 -11 1 -36 1 -14 1 -36 1 48 1 41 1 -4 1 -36 1 -7 1 41 1 -25 1 -7 1 -28 1 23 1 -24 1 46 1 -57 1 54 1 41 1 -41 1 -42 1 -7 1 22 1 31 1 -17 1 -45 1 11 1 89 1 -26 1 5 1 -27 1 -1 1 -5 1 -47 1 50 1 9 1 -37 1 58 1 -87 1 44 1 62 1 -59 1 20 1 -41 1 10 1 4 1 28 1 -60 1 63 1 -67 1 69 1 5 1 -8 1 -22 1 -1 1 -32 1 32 1 1 1 -10 1 10 1 -3 1 -23 1 39 1 -10 1 -4 1 20 1 47 1 -32 1 -22 1 17 1 -48 1 9 1 14 1 25 1 -52 1 46 1 -25 1 -34 1 63 1 -7 1 -36 1 -6 1 8 1 26 1 32 1 -91 1 78 1 -60 1 1 1 45 1 2 1 -9 1 -6 1 43 1 -12 1 -9 1 7 1 -36 1 28 1 -60 1 17 1 -17 1 37 1 34 1 -59 1 66 1 -27 1 -41 1 49 1 -10 1 12 1 -41 1 36 1 10 1 -25 1 10 1 21 1 -64 1 34 1 2 1 -11 1 -28 1 41 1 -37 1 35 1 -2 1 7 1 -31 1 6 1 8 1 18 1 14 1 2 1 -1 1 -32 1 27 1 -56 1 69 1 -2 1 7 1 -47 1 24 1 -2 1 3 1 -43 1 66 1 -66 1 40 1 -54 1 49 1 36 1 -63 1 21 1 31 1 7 1 -57 1 18 1 0 1 12 1 6 1 -34 1 67 1 -61 1 -6 1 19 1 -11 1 -29 1 33 1 12 1 -16 1 -52 1 110 1 -45 1 48 1 -44 1 -21 1 21 1 14 1 -52 1 40 1 7 1 -10 1 6 1 -28 1 -6 1 28 1 -6 1 -5 1 -8 1 27 1 2 1 -27 1 49 1 -9 1 -34 1 37 1 -38 1 28 1 -12 1 -49 1 21 1 36 1 -17 1 -7 1 -35 1 47 1 -34 1 33 1 56 1 -67 1 18 1 -5 1 -6 1 -7 1 10 1 17 1 3 1 -31 1 31 1 -26 1 39" stroke="#800000" stroke-width="7.50" fill="none" stroke-linejoin="round" stroke-linecap="round"/></g>
<rect x="76.50" y="40.70" width="606.00" height="451.00" fill="none" stroke="#000" stroke-width="2.2"/>
<line x1="379.60" y1="40.70" x2="379.60" y2="491.70" stroke="#000" stroke-width="2.20"/>
<line x1="76.50" y1="266.70" x2="682.50" y2="266.70" stroke="#000" stroke-width="2.20"/>
<line x1="69.00" y1="266.50" x2="76.50" y2="266.50" stroke="#000" stroke-width="1.80"/>
<line x1="69.00" y1="221.50" x2="76.50" y2="221.50" stroke="#000" stroke-width="1.80"/>
<line x1="376.10" y1="221.50" x2="383.10" y2="221.50" stroke="#000" stroke-width="1.80"/>
<line x1="69.00" y1="176.50" x2="76.50" y2="176.50" stroke="#000" stroke-width="1.80"/>
<line x1="376.10" y1="176.50" x2="383.10" y2="176.50" stroke="#000" stroke-width="1.80"/>
<line x1="69.00" y1="131.50" x2="76.50" y2="131.50" stroke="#000" stroke-width="1.80"/>
<line x1="376.10" y1="131.50" x2="383.10" y2="131.50" stroke="#000" stroke-width="1.80"/>
<line x1="69.00" y1="86.50" x2="76.50" y2="86.50" stroke="#000" stroke-width="1.80"/>
<line x1="376.10" y1="86.50" x2="383.10" y2="86.50" stroke="#000" stroke-width="1.80"/>
<line x1="69.00" y1="42.20" x2="76.50" y2="42.20" stroke="#000" stroke-width="1.80"/>
<line x1="69.00" y1="491.50" x2="76.50" y2="491.50" stroke="#000" stroke-width="1.80"/>
<line x1="69.00" y1="435.25" x2="76.50" y2="435.25" stroke="#000" stroke-width="1.80"/>
<line x1="376.10" y1="435.25" x2="383.10" y2="435.25" stroke="#000" stroke-width="1.80"/>
<line x1="69.00" y1="379.00" x2="76.50" y2="379.00" stroke="#000" stroke-width="1.80"/>
<line x1="376.10" y1="379.00" x2="383.10" y2="379.00" stroke="#000" stroke-width="1.80"/>
<line x1="69.00" y1="322.75" x2="76.50" y2="322.75" stroke="#000" stroke-width="1.80"/>
<line x1="376.10" y1="322.75" x2="383.10" y2="322.75" stroke="#000" stroke-width="1.80"/>
<line x1="101.00" y1="491.70" x2="101.00" y2="497.20" stroke="#000" stroke-width="1.80"/>
<line x1="101.00" y1="263.20" x2="101.00" y2="270.20" stroke="#000" stroke-width="1.80"/>
<line x1="178.50" y1="491.70" x2="178.50" y2="497.20" stroke="#000" stroke-width="1.80"/>
<line x1="178.50" y1="263.20" x2="178.50" y2="270.20" stroke="#000" stroke-width="1.80"/>
<line x1="256.00" y1="491.70" x2="256.00" y2="497.20" stroke="#000" stroke-width="1.80"/>
<line x1="256.00" y1="263.20" x2="256.00" y2="270.20" stroke="#000" stroke-width="1.80"/>
<line x1="333.50" y1="491.70" x2="333.50" y2="497.20" stroke="#000" stroke-width="1.80"/>
<line x1="333.50" y1="263.20" x2="333.50" y2="270.20" stroke="#000" stroke-width="1.80"/>
<line x1="402.50" y1="491.70" x2="402.50" y2="497.20" stroke="#000" stroke-width="1.80"/>
<line x1="402.50" y1="263.20" x2="402.50" y2="270.20" stroke="#000" stroke-width="1.80"/>
<line x1="480.00" y1="491.70" x2="480.00" y2="497.20" stroke="#000" stroke-width="1.80"/>
<line x1="480.00" y1="263.20" x2="480.00" y2="270.20" stroke="#000" stroke-width="1.80"/>
<line x1="557.50" y1="491.70" x2="557.50" y2="497.20" stroke="#000" stroke-width="1.80"/>
<line x1="557.50" y1="263.20" x2="557.50" y2="270.20" stroke="#000" stroke-width="1.80"/>
<line x1="635.00" y1="491.70" x2="635.00" y2="497.20" stroke="#000" stroke-width="1.80"/>
<line x1="635.00" y1="263.20" x2="635.00" y2="270.20" stroke="#000" stroke-width="1.80"/>
<line x1="224.40" y1="55.00" x2="245.10" y2="55.00" stroke="#00007f" stroke-width="3.80"/>
<line x1="224.40" y1="79.20" x2="245.10" y2="79.20" stroke="#0a64ff" stroke-width="3.80"/>
<line x1="224.40" y1="103.40" x2="245.10" y2="103.40" stroke="#a6ff52" stroke-width="3.80"/>
<line x1="224.40" y1="127.60" x2="245.10" y2="127.60" stroke="#ff1008" stroke-width="3.80"/>
<line x1="224.40" y1="151.80" x2="245.10" y2="151.80" stroke="#800000" stroke-width="3.80"/>
<line x1="278.20" y1="285.80" x2="298.70" y2="285.80" stroke="#00007f" stroke-width="3.80"/>
<line x1="278.20" y1="310.55" x2="298.70" y2="310.55" stroke="#0000f5" stroke-width="3.80"/>
<line x1="278.20" y1="335.30" x2="298.70" y2="335.30" stroke="#0a6cff" stroke-width="3.80"/>
<line x1="278.20" y1="360.05" x2="298.70" y2="360.05" stroke="#08d0ff" stroke-width="3.80"/>
<line x1="278.20" y1="384.80" x2="298.70" y2="384.80" stroke="#48fca8" stroke-width="3.80"/>
<line x1="278.20" y1="409.55" x2="298.70" y2="409.55" stroke="#ffdc00" stroke-width="3.80"/>
<line x1="278.20" y1="434.30" x2="298.70" y2="434.30" stroke="#800000" stroke-width="3.80"/>
<line x1="364.30" y1="84.00" x2="351.20" y2="143.80" stroke="#000" stroke-width="4.00"/>
<polygon points="345.6,170.2 342.9,133.2 351.2,143.8 363.4,137.7" fill="#000"/>
<line x1="580.40" y1="103.20" x2="613.30" y2="153.60" stroke="#000" stroke-width="4.00"/>
<polygon points="628.0,176.1 599.8,152.4 613.3,153.6 617.7,141.5" fill="#000"/>
<path d="M275.9 17.3 C281 14.5 285.5 10.1 290.9 9.9 C296.3 10.1 300.8 14.6 305.8 17.6 C300.5 18.3 295.5 18.9 290.9 18.9 C286.3 18.9 281.3 18.2 275.9 17.3 Z" fill="#2a7ab9"/>
<path d="M578.1 16.2 C583 13.6 588.5 8.6 593.9 8.4 C599.3 8.6 604.8 13.6 609.6 16.2 Z" fill="#f98516"/>
<path d="M578.5 16.9 L609.3 16.9 L606.3 19.5 Q594 21.3 581.2 19.5 Z" fill="#f98516"/>
<g style="will-change:transform"><text transform="translate(66.3,275.8) scale(1,1.050)" font-size="28.0" text-anchor="end" >0</text><text transform="translate(66.3,230.8) scale(1,1.050)" font-size="28.0" text-anchor="end" >20</text><text transform="translate(66.3,185.8) scale(1,1.050)" font-size="28.0" text-anchor="end" >40</text><text transform="translate(66.3,140.8) scale(1,1.050)" font-size="28.0" text-anchor="end" >60</text><text transform="translate(66.3,95.8) scale(1,1.050)" font-size="28.0" text-anchor="end" >80</text><text transform="translate(66.3,50.8) scale(1,1.050)" font-size="28.0" text-anchor="end" >100</text><text transform="translate(66.3,500.8) scale(1,1.050)" font-size="28.0" text-anchor="end" >0</text><text transform="translate(66.3,444.6) scale(1,1.050)" font-size="28.0" text-anchor="end" >10</text><text transform="translate(66.3,388.3) scale(1,1.050)" font-size="28.0" text-anchor="end" >20</text><text transform="translate(66.3,332.1) scale(1,1.050)" font-size="28.0" text-anchor="end" >30</text><text transform="translate(103.0,518.5) scale(1,1.050)" font-size="28.0" text-anchor="middle" >0.8</text><text transform="translate(180.5,518.5) scale(1,1.050)" font-size="28.0" text-anchor="middle" >0.9</text><text transform="translate(258.0,518.5) scale(1,1.050)" font-size="28.0" text-anchor="middle" >1.0</text><text transform="translate(335.5,518.5) scale(1,1.050)" font-size="28.0" text-anchor="middle" >1.1</text><text transform="translate(404.5,518.5) scale(1,1.050)" font-size="28.0" text-anchor="middle" >0.8</text><text transform="translate(482.0,518.5) scale(1,1.050)" font-size="28.0" text-anchor="middle" >0.9</text><text transform="translate(559.5,518.5) scale(1,1.050)" font-size="28.0" text-anchor="middle" >1.0</text><text transform="translate(637.0,518.5) scale(1,1.050)" font-size="28.0" text-anchor="middle" >1.1</text><text transform="translate(390.0,544.0) scale(1,1.050)" font-size="28.0" text-anchor="middle" >Energy (eV)</text><text transform="translate(22,259) rotate(-90)" font-size="27.5" text-anchor="middle">Intensity (cps)</text><text transform="translate(207.5,22.0) scale(1,1.050)" font-size="28.0" text-anchor="middle" >Sample A</text><text transform="translate(509.8,22.0) scale(1,1.050)" font-size="28.0" text-anchor="middle" >Sample B</text><text transform="translate(360.0,71.5) scale(1,1.050)" font-size="28.0" text-anchor="middle" >FE</text><text transform="translate(572.5,90.5) scale(1,1.050)" font-size="28.0" text-anchor="middle" >FE</text><text transform="translate(300.5,199.5) scale(1,1.050)" font-size="28.0" text-anchor="middle" >WL</text><text transform="translate(249.8,64.3) scale(1,1.050)" font-size="28.0" text-anchor="start" >10 K</text><text transform="translate(249.8,88.5) scale(1,1.050)" font-size="28.0" text-anchor="start" >30 K</text><text transform="translate(249.8,112.7) scale(1,1.050)" font-size="28.0" text-anchor="start" >90 K</text><text transform="translate(249.8,136.9) scale(1,1.050)" font-size="28.0" text-anchor="start" >150 K</text><text transform="translate(249.8,161.1) scale(1,1.050)" font-size="28.0" text-anchor="start" >170 K</text><text transform="translate(302.6,294.0) scale(1,1.050)" font-size="28.0" text-anchor="start" >190 K</text><text transform="translate(302.6,318.8) scale(1,1.050)" font-size="28.0" text-anchor="start" >200 K</text><text transform="translate(302.6,343.5) scale(1,1.050)" font-size="28.0" text-anchor="start" >210 K</text><text transform="translate(302.6,368.2) scale(1,1.050)" font-size="28.0" text-anchor="start" >220 K</text><text transform="translate(302.6,393.0) scale(1,1.050)" font-size="28.0" text-anchor="start" >230 K</text><text transform="translate(302.6,417.8) scale(1,1.050)" font-size="28.0" text-anchor="start" >250 K</text><text transform="translate(302.6,442.5) scale(1,1.050)" font-size="28.0" text-anchor="start" >280 K</text></g>
</svg>
</body></html>
